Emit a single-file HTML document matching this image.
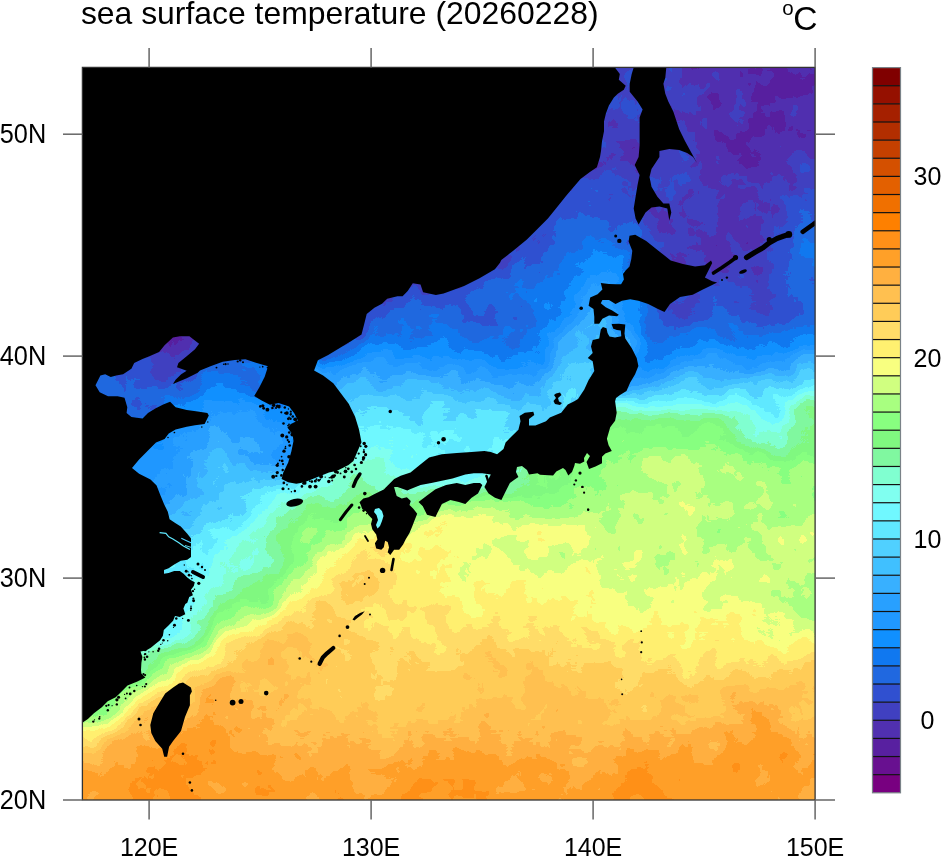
<!DOCTYPE html>
<html><head><meta charset="utf-8"><title>sea surface temperature</title><style>
html,body{margin:0;padding:0;background:#fff;width:941px;height:858px;overflow:hidden}
svg{display:block;will-change:transform}
text{font-family:"Liberation Sans",Arial,Helvetica,sans-serif;fill:#000}
</style></head><body>
<svg width="941" height="858" viewBox="0 0 941 858">
<defs>
<linearGradient id="r0" gradientUnits="userSpaceOnUse" x1="38.0" x2="859.4" y1="0" y2="0"><stop offset="0.0135" stop-color="#262626"/><stop offset="0.0405" stop-color="#262626"/><stop offset="0.0676" stop-color="#262626"/><stop offset="0.0946" stop-color="#262626"/><stop offset="0.1216" stop-color="#212121"/><stop offset="0.1486" stop-color="#131313"/><stop offset="0.1757" stop-color="#131313"/><stop offset="0.2027" stop-color="#131313"/><stop offset="0.2297" stop-color="#292929"/><stop offset="0.2568" stop-color="#292929"/><stop offset="0.2838" stop-color="#292929"/><stop offset="0.3108" stop-color="#2e2e2e"/><stop offset="0.3378" stop-color="#2d2d2d"/><stop offset="0.3649" stop-color="#292929"/><stop offset="0.3919" stop-color="#232323"/><stop offset="0.4189" stop-color="#232323"/><stop offset="0.4459" stop-color="#232323"/><stop offset="0.4730" stop-color="#232323"/><stop offset="0.5000" stop-color="#232323"/><stop offset="0.5270" stop-color="#232323"/><stop offset="0.5541" stop-color="#232323"/><stop offset="0.5811" stop-color="#232323"/><stop offset="0.6081" stop-color="#232323"/><stop offset="0.6351" stop-color="#232323"/><stop offset="0.6622" stop-color="#232323"/><stop offset="0.6892" stop-color="#232323"/><stop offset="0.7162" stop-color="#232323"/><stop offset="0.7432" stop-color="#1d1d1d"/><stop offset="0.7703" stop-color="#1d1d1d"/><stop offset="0.7973" stop-color="#181818"/><stop offset="0.8243" stop-color="#161616"/><stop offset="0.8514" stop-color="#161616"/><stop offset="0.8784" stop-color="#131313"/><stop offset="0.9054" stop-color="#131313"/><stop offset="0.9324" stop-color="#131313"/><stop offset="0.9595" stop-color="#131313"/><stop offset="0.9865" stop-color="#131313"/></linearGradient><linearGradient id="r1" gradientUnits="userSpaceOnUse" x1="38.0" x2="859.4" y1="0" y2="0"><stop offset="0.0135" stop-color="#262626"/><stop offset="0.0405" stop-color="#262626"/><stop offset="0.0676" stop-color="#262626"/><stop offset="0.0946" stop-color="#262626"/><stop offset="0.1216" stop-color="#212121"/><stop offset="0.1486" stop-color="#131313"/><stop offset="0.1757" stop-color="#131313"/><stop offset="0.2027" stop-color="#131313"/><stop offset="0.2297" stop-color="#292929"/><stop offset="0.2568" stop-color="#292929"/><stop offset="0.2838" stop-color="#292929"/><stop offset="0.3108" stop-color="#2e2e2e"/><stop offset="0.3378" stop-color="#2d2d2d"/><stop offset="0.3649" stop-color="#292929"/><stop offset="0.3919" stop-color="#232323"/><stop offset="0.4189" stop-color="#232323"/><stop offset="0.4459" stop-color="#232323"/><stop offset="0.4730" stop-color="#232323"/><stop offset="0.5000" stop-color="#232323"/><stop offset="0.5270" stop-color="#232323"/><stop offset="0.5541" stop-color="#232323"/><stop offset="0.5811" stop-color="#232323"/><stop offset="0.6081" stop-color="#232323"/><stop offset="0.6351" stop-color="#232323"/><stop offset="0.6622" stop-color="#232323"/><stop offset="0.6892" stop-color="#232323"/><stop offset="0.7162" stop-color="#232323"/><stop offset="0.7432" stop-color="#1d1d1d"/><stop offset="0.7703" stop-color="#1d1d1d"/><stop offset="0.7973" stop-color="#181818"/><stop offset="0.8243" stop-color="#161616"/><stop offset="0.8514" stop-color="#161616"/><stop offset="0.8784" stop-color="#131313"/><stop offset="0.9054" stop-color="#131313"/><stop offset="0.9324" stop-color="#131313"/><stop offset="0.9595" stop-color="#131313"/><stop offset="0.9865" stop-color="#131313"/></linearGradient><linearGradient id="r2" gradientUnits="userSpaceOnUse" x1="38.0" x2="859.4" y1="0" y2="0"><stop offset="0.0135" stop-color="#262626"/><stop offset="0.0405" stop-color="#262626"/><stop offset="0.0676" stop-color="#262626"/><stop offset="0.0946" stop-color="#262626"/><stop offset="0.1216" stop-color="#212121"/><stop offset="0.1486" stop-color="#131313"/><stop offset="0.1757" stop-color="#131313"/><stop offset="0.2027" stop-color="#131313"/><stop offset="0.2297" stop-color="#292929"/><stop offset="0.2568" stop-color="#292929"/><stop offset="0.2838" stop-color="#292929"/><stop offset="0.3108" stop-color="#2e2e2e"/><stop offset="0.3378" stop-color="#2d2d2d"/><stop offset="0.3649" stop-color="#292929"/><stop offset="0.3919" stop-color="#232323"/><stop offset="0.4189" stop-color="#232323"/><stop offset="0.4459" stop-color="#232323"/><stop offset="0.4730" stop-color="#232323"/><stop offset="0.5000" stop-color="#232323"/><stop offset="0.5270" stop-color="#232323"/><stop offset="0.5541" stop-color="#232323"/><stop offset="0.5811" stop-color="#232323"/><stop offset="0.6081" stop-color="#232323"/><stop offset="0.6351" stop-color="#232323"/><stop offset="0.6622" stop-color="#232323"/><stop offset="0.6892" stop-color="#232323"/><stop offset="0.7162" stop-color="#232323"/><stop offset="0.7432" stop-color="#1d1d1d"/><stop offset="0.7703" stop-color="#1d1d1d"/><stop offset="0.7973" stop-color="#181818"/><stop offset="0.8243" stop-color="#161616"/><stop offset="0.8514" stop-color="#161616"/><stop offset="0.8784" stop-color="#131313"/><stop offset="0.9054" stop-color="#131313"/><stop offset="0.9324" stop-color="#131313"/><stop offset="0.9595" stop-color="#131313"/><stop offset="0.9865" stop-color="#131313"/></linearGradient><linearGradient id="r3" gradientUnits="userSpaceOnUse" x1="38.0" x2="859.4" y1="0" y2="0"><stop offset="0.0135" stop-color="#262626"/><stop offset="0.0405" stop-color="#262626"/><stop offset="0.0676" stop-color="#262626"/><stop offset="0.0946" stop-color="#262626"/><stop offset="0.1216" stop-color="#212121"/><stop offset="0.1486" stop-color="#131313"/><stop offset="0.1757" stop-color="#131313"/><stop offset="0.2027" stop-color="#131313"/><stop offset="0.2297" stop-color="#292929"/><stop offset="0.2568" stop-color="#292929"/><stop offset="0.2838" stop-color="#292929"/><stop offset="0.3108" stop-color="#2e2e2e"/><stop offset="0.3378" stop-color="#2d2d2d"/><stop offset="0.3649" stop-color="#292929"/><stop offset="0.3919" stop-color="#232323"/><stop offset="0.4189" stop-color="#232323"/><stop offset="0.4459" stop-color="#232323"/><stop offset="0.4730" stop-color="#232323"/><stop offset="0.5000" stop-color="#232323"/><stop offset="0.5270" stop-color="#232323"/><stop offset="0.5541" stop-color="#232323"/><stop offset="0.5811" stop-color="#232323"/><stop offset="0.6081" stop-color="#232323"/><stop offset="0.6351" stop-color="#232323"/><stop offset="0.6622" stop-color="#232323"/><stop offset="0.6892" stop-color="#232323"/><stop offset="0.7162" stop-color="#232323"/><stop offset="0.7432" stop-color="#1d1d1d"/><stop offset="0.7703" stop-color="#1d1d1d"/><stop offset="0.7973" stop-color="#181818"/><stop offset="0.8243" stop-color="#161616"/><stop offset="0.8514" stop-color="#161616"/><stop offset="0.8784" stop-color="#131313"/><stop offset="0.9054" stop-color="#131313"/><stop offset="0.9324" stop-color="#131313"/><stop offset="0.9595" stop-color="#131313"/><stop offset="0.9865" stop-color="#131313"/></linearGradient><linearGradient id="r4" gradientUnits="userSpaceOnUse" x1="38.0" x2="859.4" y1="0" y2="0"><stop offset="0.0135" stop-color="#262626"/><stop offset="0.0405" stop-color="#262626"/><stop offset="0.0676" stop-color="#262626"/><stop offset="0.0946" stop-color="#262626"/><stop offset="0.1216" stop-color="#212121"/><stop offset="0.1486" stop-color="#131313"/><stop offset="0.1757" stop-color="#131313"/><stop offset="0.2027" stop-color="#131313"/><stop offset="0.2297" stop-color="#292929"/><stop offset="0.2568" stop-color="#292929"/><stop offset="0.2838" stop-color="#292929"/><stop offset="0.3108" stop-color="#2e2e2e"/><stop offset="0.3378" stop-color="#2d2d2d"/><stop offset="0.3649" stop-color="#292929"/><stop offset="0.3919" stop-color="#232323"/><stop offset="0.4189" stop-color="#232323"/><stop offset="0.4459" stop-color="#232323"/><stop offset="0.4730" stop-color="#232323"/><stop offset="0.5000" stop-color="#232323"/><stop offset="0.5270" stop-color="#232323"/><stop offset="0.5541" stop-color="#232323"/><stop offset="0.5811" stop-color="#232323"/><stop offset="0.6081" stop-color="#232323"/><stop offset="0.6351" stop-color="#232323"/><stop offset="0.6622" stop-color="#232323"/><stop offset="0.6892" stop-color="#232323"/><stop offset="0.7162" stop-color="#232323"/><stop offset="0.7432" stop-color="#1d1d1d"/><stop offset="0.7703" stop-color="#1d1d1d"/><stop offset="0.7973" stop-color="#181818"/><stop offset="0.8243" stop-color="#161616"/><stop offset="0.8514" stop-color="#161616"/><stop offset="0.8784" stop-color="#131313"/><stop offset="0.9054" stop-color="#131313"/><stop offset="0.9324" stop-color="#131313"/><stop offset="0.9595" stop-color="#131313"/><stop offset="0.9865" stop-color="#131313"/></linearGradient><linearGradient id="r5" gradientUnits="userSpaceOnUse" x1="38.0" x2="859.4" y1="0" y2="0"><stop offset="0.0135" stop-color="#262626"/><stop offset="0.0405" stop-color="#262626"/><stop offset="0.0676" stop-color="#262626"/><stop offset="0.0946" stop-color="#262626"/><stop offset="0.1216" stop-color="#212121"/><stop offset="0.1486" stop-color="#131313"/><stop offset="0.1757" stop-color="#131313"/><stop offset="0.2027" stop-color="#131313"/><stop offset="0.2297" stop-color="#292929"/><stop offset="0.2568" stop-color="#292929"/><stop offset="0.2838" stop-color="#292929"/><stop offset="0.3108" stop-color="#2f2f2f"/><stop offset="0.3378" stop-color="#2d2d2d"/><stop offset="0.3649" stop-color="#2b2b2b"/><stop offset="0.3919" stop-color="#242424"/><stop offset="0.4189" stop-color="#242424"/><stop offset="0.4459" stop-color="#232323"/><stop offset="0.4730" stop-color="#232323"/><stop offset="0.5000" stop-color="#232323"/><stop offset="0.5270" stop-color="#232323"/><stop offset="0.5541" stop-color="#232323"/><stop offset="0.5811" stop-color="#232323"/><stop offset="0.6081" stop-color="#232323"/><stop offset="0.6351" stop-color="#232323"/><stop offset="0.6622" stop-color="#232323"/><stop offset="0.6892" stop-color="#232323"/><stop offset="0.7162" stop-color="#232323"/><stop offset="0.7432" stop-color="#1d1d1d"/><stop offset="0.7703" stop-color="#1d1d1d"/><stop offset="0.7973" stop-color="#181818"/><stop offset="0.8243" stop-color="#161616"/><stop offset="0.8514" stop-color="#161616"/><stop offset="0.8784" stop-color="#131313"/><stop offset="0.9054" stop-color="#131313"/><stop offset="0.9324" stop-color="#141414"/><stop offset="0.9595" stop-color="#141414"/><stop offset="0.9865" stop-color="#141414"/></linearGradient><linearGradient id="r6" gradientUnits="userSpaceOnUse" x1="38.0" x2="859.4" y1="0" y2="0"><stop offset="0.0135" stop-color="#262626"/><stop offset="0.0405" stop-color="#262626"/><stop offset="0.0676" stop-color="#262626"/><stop offset="0.0946" stop-color="#262626"/><stop offset="0.1216" stop-color="#212121"/><stop offset="0.1486" stop-color="#131313"/><stop offset="0.1757" stop-color="#131313"/><stop offset="0.2027" stop-color="#131313"/><stop offset="0.2297" stop-color="#292929"/><stop offset="0.2568" stop-color="#292929"/><stop offset="0.2838" stop-color="#292929"/><stop offset="0.3108" stop-color="#2f2f2f"/><stop offset="0.3378" stop-color="#2f2f2f"/><stop offset="0.3649" stop-color="#2e2e2e"/><stop offset="0.3919" stop-color="#252525"/><stop offset="0.4189" stop-color="#252525"/><stop offset="0.4459" stop-color="#242424"/><stop offset="0.4730" stop-color="#232323"/><stop offset="0.5000" stop-color="#232323"/><stop offset="0.5270" stop-color="#232323"/><stop offset="0.5541" stop-color="#232323"/><stop offset="0.5811" stop-color="#232323"/><stop offset="0.6081" stop-color="#232323"/><stop offset="0.6351" stop-color="#232323"/><stop offset="0.6622" stop-color="#232323"/><stop offset="0.6892" stop-color="#232323"/><stop offset="0.7162" stop-color="#232323"/><stop offset="0.7432" stop-color="#1d1d1d"/><stop offset="0.7703" stop-color="#1d1d1d"/><stop offset="0.7973" stop-color="#191919"/><stop offset="0.8243" stop-color="#161616"/><stop offset="0.8514" stop-color="#161616"/><stop offset="0.8784" stop-color="#131313"/><stop offset="0.9054" stop-color="#131313"/><stop offset="0.9324" stop-color="#161616"/><stop offset="0.9595" stop-color="#161616"/><stop offset="0.9865" stop-color="#161616"/></linearGradient><linearGradient id="r7" gradientUnits="userSpaceOnUse" x1="38.0" x2="859.4" y1="0" y2="0"><stop offset="0.0135" stop-color="#262626"/><stop offset="0.0405" stop-color="#262626"/><stop offset="0.0676" stop-color="#262626"/><stop offset="0.0946" stop-color="#262626"/><stop offset="0.1216" stop-color="#212121"/><stop offset="0.1486" stop-color="#131313"/><stop offset="0.1757" stop-color="#131313"/><stop offset="0.2027" stop-color="#131313"/><stop offset="0.2297" stop-color="#292929"/><stop offset="0.2568" stop-color="#292929"/><stop offset="0.2838" stop-color="#292929"/><stop offset="0.3108" stop-color="#303030"/><stop offset="0.3378" stop-color="#303030"/><stop offset="0.3649" stop-color="#303030"/><stop offset="0.3919" stop-color="#262626"/><stop offset="0.4189" stop-color="#262626"/><stop offset="0.4459" stop-color="#252525"/><stop offset="0.4730" stop-color="#232323"/><stop offset="0.5000" stop-color="#212121"/><stop offset="0.5270" stop-color="#212121"/><stop offset="0.5541" stop-color="#212121"/><stop offset="0.5811" stop-color="#212121"/><stop offset="0.6081" stop-color="#212121"/><stop offset="0.6351" stop-color="#212121"/><stop offset="0.6622" stop-color="#212121"/><stop offset="0.6892" stop-color="#212121"/><stop offset="0.7162" stop-color="#212121"/><stop offset="0.7432" stop-color="#1d1d1d"/><stop offset="0.7703" stop-color="#1d1d1d"/><stop offset="0.7973" stop-color="#1a1a1a"/><stop offset="0.8243" stop-color="#161616"/><stop offset="0.8514" stop-color="#161616"/><stop offset="0.8784" stop-color="#121212"/><stop offset="0.9054" stop-color="#131313"/><stop offset="0.9324" stop-color="#161616"/><stop offset="0.9595" stop-color="#161616"/><stop offset="0.9865" stop-color="#161616"/></linearGradient><linearGradient id="r8" gradientUnits="userSpaceOnUse" x1="38.0" x2="859.4" y1="0" y2="0"><stop offset="0.0135" stop-color="#262626"/><stop offset="0.0405" stop-color="#262626"/><stop offset="0.0676" stop-color="#262626"/><stop offset="0.0946" stop-color="#262626"/><stop offset="0.1216" stop-color="#212121"/><stop offset="0.1486" stop-color="#131313"/><stop offset="0.1757" stop-color="#131313"/><stop offset="0.2027" stop-color="#131313"/><stop offset="0.2297" stop-color="#292929"/><stop offset="0.2568" stop-color="#292929"/><stop offset="0.2838" stop-color="#292929"/><stop offset="0.3108" stop-color="#303030"/><stop offset="0.3378" stop-color="#303030"/><stop offset="0.3649" stop-color="#303030"/><stop offset="0.3919" stop-color="#262626"/><stop offset="0.4189" stop-color="#262626"/><stop offset="0.4459" stop-color="#262626"/><stop offset="0.4730" stop-color="#222222"/><stop offset="0.5000" stop-color="#1e1e1e"/><stop offset="0.5270" stop-color="#1e1e1e"/><stop offset="0.5541" stop-color="#1e1e1e"/><stop offset="0.5811" stop-color="#1e1e1e"/><stop offset="0.6081" stop-color="#1e1e1e"/><stop offset="0.6351" stop-color="#1e1e1e"/><stop offset="0.6622" stop-color="#1e1e1e"/><stop offset="0.6892" stop-color="#1e1e1e"/><stop offset="0.7162" stop-color="#1e1e1e"/><stop offset="0.7432" stop-color="#1d1d1d"/><stop offset="0.7703" stop-color="#1d1d1d"/><stop offset="0.7973" stop-color="#1a1a1a"/><stop offset="0.8243" stop-color="#161616"/><stop offset="0.8514" stop-color="#161616"/><stop offset="0.8784" stop-color="#111111"/><stop offset="0.9054" stop-color="#131313"/><stop offset="0.9324" stop-color="#161616"/><stop offset="0.9595" stop-color="#161616"/><stop offset="0.9865" stop-color="#161616"/></linearGradient><linearGradient id="r9" gradientUnits="userSpaceOnUse" x1="38.0" x2="859.4" y1="0" y2="0"><stop offset="0.0135" stop-color="#262626"/><stop offset="0.0405" stop-color="#262626"/><stop offset="0.0676" stop-color="#262626"/><stop offset="0.0946" stop-color="#262626"/><stop offset="0.1216" stop-color="#212121"/><stop offset="0.1486" stop-color="#131313"/><stop offset="0.1757" stop-color="#131313"/><stop offset="0.2027" stop-color="#131313"/><stop offset="0.2297" stop-color="#292929"/><stop offset="0.2568" stop-color="#292929"/><stop offset="0.2838" stop-color="#292929"/><stop offset="0.3108" stop-color="#303030"/><stop offset="0.3378" stop-color="#303030"/><stop offset="0.3649" stop-color="#303030"/><stop offset="0.3919" stop-color="#262626"/><stop offset="0.4189" stop-color="#262626"/><stop offset="0.4459" stop-color="#262626"/><stop offset="0.4730" stop-color="#232323"/><stop offset="0.5000" stop-color="#1e1e1e"/><stop offset="0.5270" stop-color="#1e1e1e"/><stop offset="0.5541" stop-color="#1e1e1e"/><stop offset="0.5811" stop-color="#1e1e1e"/><stop offset="0.6081" stop-color="#1e1e1e"/><stop offset="0.6351" stop-color="#1d1d1d"/><stop offset="0.6622" stop-color="#1c1c1c"/><stop offset="0.6892" stop-color="#1b1b1b"/><stop offset="0.7162" stop-color="#1b1b1b"/><stop offset="0.7432" stop-color="#1c1c1c"/><stop offset="0.7703" stop-color="#1c1c1c"/><stop offset="0.7973" stop-color="#1a1a1a"/><stop offset="0.8243" stop-color="#161616"/><stop offset="0.8514" stop-color="#161616"/><stop offset="0.8784" stop-color="#101010"/><stop offset="0.9054" stop-color="#141414"/><stop offset="0.9324" stop-color="#171717"/><stop offset="0.9595" stop-color="#171717"/><stop offset="0.9865" stop-color="#171717"/></linearGradient><linearGradient id="r10" gradientUnits="userSpaceOnUse" x1="38.0" x2="859.4" y1="0" y2="0"><stop offset="0.0135" stop-color="#262626"/><stop offset="0.0405" stop-color="#262626"/><stop offset="0.0676" stop-color="#262626"/><stop offset="0.0946" stop-color="#262626"/><stop offset="0.1216" stop-color="#212121"/><stop offset="0.1486" stop-color="#131313"/><stop offset="0.1757" stop-color="#131313"/><stop offset="0.2027" stop-color="#131313"/><stop offset="0.2297" stop-color="#292929"/><stop offset="0.2568" stop-color="#292929"/><stop offset="0.2838" stop-color="#292929"/><stop offset="0.3108" stop-color="#303030"/><stop offset="0.3378" stop-color="#303030"/><stop offset="0.3649" stop-color="#303030"/><stop offset="0.3919" stop-color="#262626"/><stop offset="0.4189" stop-color="#262626"/><stop offset="0.4459" stop-color="#262626"/><stop offset="0.4730" stop-color="#252525"/><stop offset="0.5000" stop-color="#222222"/><stop offset="0.5270" stop-color="#212121"/><stop offset="0.5541" stop-color="#212121"/><stop offset="0.5811" stop-color="#202020"/><stop offset="0.6081" stop-color="#1f1f1f"/><stop offset="0.6351" stop-color="#1e1e1e"/><stop offset="0.6622" stop-color="#1b1b1b"/><stop offset="0.6892" stop-color="#181818"/><stop offset="0.7162" stop-color="#181818"/><stop offset="0.7432" stop-color="#1a1a1a"/><stop offset="0.7703" stop-color="#1a1a1a"/><stop offset="0.7973" stop-color="#1a1a1a"/><stop offset="0.8243" stop-color="#161616"/><stop offset="0.8514" stop-color="#141414"/><stop offset="0.8784" stop-color="#101010"/><stop offset="0.9054" stop-color="#161616"/><stop offset="0.9324" stop-color="#191919"/><stop offset="0.9595" stop-color="#191919"/><stop offset="0.9865" stop-color="#191919"/></linearGradient><linearGradient id="r11" gradientUnits="userSpaceOnUse" x1="38.0" x2="859.4" y1="0" y2="0"><stop offset="0.0135" stop-color="#262626"/><stop offset="0.0405" stop-color="#262626"/><stop offset="0.0676" stop-color="#262626"/><stop offset="0.0946" stop-color="#262626"/><stop offset="0.1216" stop-color="#212121"/><stop offset="0.1486" stop-color="#131313"/><stop offset="0.1757" stop-color="#131313"/><stop offset="0.2027" stop-color="#131313"/><stop offset="0.2297" stop-color="#292929"/><stop offset="0.2568" stop-color="#292929"/><stop offset="0.2838" stop-color="#292929"/><stop offset="0.3108" stop-color="#303030"/><stop offset="0.3378" stop-color="#303030"/><stop offset="0.3649" stop-color="#303030"/><stop offset="0.3919" stop-color="#262626"/><stop offset="0.4189" stop-color="#262626"/><stop offset="0.4459" stop-color="#262626"/><stop offset="0.4730" stop-color="#262626"/><stop offset="0.5000" stop-color="#242424"/><stop offset="0.5270" stop-color="#232323"/><stop offset="0.5541" stop-color="#222222"/><stop offset="0.5811" stop-color="#222222"/><stop offset="0.6081" stop-color="#212121"/><stop offset="0.6351" stop-color="#1f1f1f"/><stop offset="0.6622" stop-color="#1c1c1c"/><stop offset="0.6892" stop-color="#181818"/><stop offset="0.7162" stop-color="#181818"/><stop offset="0.7432" stop-color="#1b1b1b"/><stop offset="0.7703" stop-color="#1b1b1b"/><stop offset="0.7973" stop-color="#1a1a1a"/><stop offset="0.8243" stop-color="#171717"/><stop offset="0.8514" stop-color="#141414"/><stop offset="0.8784" stop-color="#121212"/><stop offset="0.9054" stop-color="#171717"/><stop offset="0.9324" stop-color="#1a1a1a"/><stop offset="0.9595" stop-color="#1a1a1a"/><stop offset="0.9865" stop-color="#1a1a1a"/></linearGradient><linearGradient id="r12" gradientUnits="userSpaceOnUse" x1="38.0" x2="859.4" y1="0" y2="0"><stop offset="0.0135" stop-color="#262626"/><stop offset="0.0405" stop-color="#262626"/><stop offset="0.0676" stop-color="#262626"/><stop offset="0.0946" stop-color="#262626"/><stop offset="0.1216" stop-color="#212121"/><stop offset="0.1486" stop-color="#131313"/><stop offset="0.1757" stop-color="#131313"/><stop offset="0.2027" stop-color="#131313"/><stop offset="0.2297" stop-color="#292929"/><stop offset="0.2568" stop-color="#292929"/><stop offset="0.2838" stop-color="#292929"/><stop offset="0.3108" stop-color="#303030"/><stop offset="0.3378" stop-color="#303030"/><stop offset="0.3649" stop-color="#303030"/><stop offset="0.3919" stop-color="#262626"/><stop offset="0.4189" stop-color="#262626"/><stop offset="0.4459" stop-color="#262626"/><stop offset="0.4730" stop-color="#262626"/><stop offset="0.5000" stop-color="#242424"/><stop offset="0.5270" stop-color="#242424"/><stop offset="0.5541" stop-color="#232323"/><stop offset="0.5811" stop-color="#222222"/><stop offset="0.6081" stop-color="#222222"/><stop offset="0.6351" stop-color="#212121"/><stop offset="0.6622" stop-color="#1f1f1f"/><stop offset="0.6892" stop-color="#1b1b1b"/><stop offset="0.7162" stop-color="#1c1c1c"/><stop offset="0.7432" stop-color="#1e1e1e"/><stop offset="0.7703" stop-color="#1e1e1e"/><stop offset="0.7973" stop-color="#1a1a1a"/><stop offset="0.8243" stop-color="#191919"/><stop offset="0.8514" stop-color="#161616"/><stop offset="0.8784" stop-color="#151515"/><stop offset="0.9054" stop-color="#191919"/><stop offset="0.9324" stop-color="#1c1c1c"/><stop offset="0.9595" stop-color="#1c1c1c"/><stop offset="0.9865" stop-color="#1c1c1c"/></linearGradient><linearGradient id="r13" gradientUnits="userSpaceOnUse" x1="38.0" x2="859.4" y1="0" y2="0"><stop offset="0.0135" stop-color="#262626"/><stop offset="0.0405" stop-color="#262626"/><stop offset="0.0676" stop-color="#262626"/><stop offset="0.0946" stop-color="#262626"/><stop offset="0.1216" stop-color="#212121"/><stop offset="0.1486" stop-color="#131313"/><stop offset="0.1757" stop-color="#131313"/><stop offset="0.2027" stop-color="#131313"/><stop offset="0.2297" stop-color="#292929"/><stop offset="0.2568" stop-color="#292929"/><stop offset="0.2838" stop-color="#292929"/><stop offset="0.3108" stop-color="#303030"/><stop offset="0.3378" stop-color="#303030"/><stop offset="0.3649" stop-color="#303030"/><stop offset="0.3919" stop-color="#272727"/><stop offset="0.4189" stop-color="#262626"/><stop offset="0.4459" stop-color="#262626"/><stop offset="0.4730" stop-color="#262626"/><stop offset="0.5000" stop-color="#252525"/><stop offset="0.5270" stop-color="#242424"/><stop offset="0.5541" stop-color="#232323"/><stop offset="0.5811" stop-color="#232323"/><stop offset="0.6081" stop-color="#222222"/><stop offset="0.6351" stop-color="#222222"/><stop offset="0.6622" stop-color="#212121"/><stop offset="0.6892" stop-color="#1e1e1e"/><stop offset="0.7162" stop-color="#1f1f1f"/><stop offset="0.7432" stop-color="#1f1f1f"/><stop offset="0.7703" stop-color="#202020"/><stop offset="0.7973" stop-color="#1a1a1a"/><stop offset="0.8243" stop-color="#1a1a1a"/><stop offset="0.8514" stop-color="#171717"/><stop offset="0.8784" stop-color="#171717"/><stop offset="0.9054" stop-color="#1a1a1a"/><stop offset="0.9324" stop-color="#1d1d1d"/><stop offset="0.9595" stop-color="#1d1d1d"/><stop offset="0.9865" stop-color="#1d1d1d"/></linearGradient><linearGradient id="r14" gradientUnits="userSpaceOnUse" x1="38.0" x2="859.4" y1="0" y2="0"><stop offset="0.0135" stop-color="#262626"/><stop offset="0.0405" stop-color="#262626"/><stop offset="0.0676" stop-color="#262626"/><stop offset="0.0946" stop-color="#262626"/><stop offset="0.1216" stop-color="#212121"/><stop offset="0.1486" stop-color="#131313"/><stop offset="0.1757" stop-color="#131313"/><stop offset="0.2027" stop-color="#131313"/><stop offset="0.2297" stop-color="#292929"/><stop offset="0.2568" stop-color="#292929"/><stop offset="0.2838" stop-color="#292929"/><stop offset="0.3108" stop-color="#303030"/><stop offset="0.3378" stop-color="#303030"/><stop offset="0.3649" stop-color="#303030"/><stop offset="0.3919" stop-color="#272727"/><stop offset="0.4189" stop-color="#262626"/><stop offset="0.4459" stop-color="#262626"/><stop offset="0.4730" stop-color="#262626"/><stop offset="0.5000" stop-color="#252525"/><stop offset="0.5270" stop-color="#242424"/><stop offset="0.5541" stop-color="#232323"/><stop offset="0.5811" stop-color="#232323"/><stop offset="0.6081" stop-color="#232323"/><stop offset="0.6351" stop-color="#232323"/><stop offset="0.6622" stop-color="#222222"/><stop offset="0.6892" stop-color="#212121"/><stop offset="0.7162" stop-color="#1f1f1f"/><stop offset="0.7432" stop-color="#1d1d1d"/><stop offset="0.7703" stop-color="#202020"/><stop offset="0.7973" stop-color="#1c1c1c"/><stop offset="0.8243" stop-color="#1a1a1a"/><stop offset="0.8514" stop-color="#191919"/><stop offset="0.8784" stop-color="#191919"/><stop offset="0.9054" stop-color="#1c1c1c"/><stop offset="0.9324" stop-color="#1f1f1f"/><stop offset="0.9595" stop-color="#1f1f1f"/><stop offset="0.9865" stop-color="#1f1f1f"/></linearGradient><linearGradient id="r15" gradientUnits="userSpaceOnUse" x1="38.0" x2="859.4" y1="0" y2="0"><stop offset="0.0135" stop-color="#262626"/><stop offset="0.0405" stop-color="#262626"/><stop offset="0.0676" stop-color="#262626"/><stop offset="0.0946" stop-color="#262626"/><stop offset="0.1216" stop-color="#212121"/><stop offset="0.1486" stop-color="#131313"/><stop offset="0.1757" stop-color="#131313"/><stop offset="0.2027" stop-color="#131313"/><stop offset="0.2297" stop-color="#292929"/><stop offset="0.2568" stop-color="#292929"/><stop offset="0.2838" stop-color="#292929"/><stop offset="0.3108" stop-color="#303030"/><stop offset="0.3378" stop-color="#303030"/><stop offset="0.3649" stop-color="#303030"/><stop offset="0.3919" stop-color="#272727"/><stop offset="0.4189" stop-color="#262626"/><stop offset="0.4459" stop-color="#262626"/><stop offset="0.4730" stop-color="#262626"/><stop offset="0.5000" stop-color="#262626"/><stop offset="0.5270" stop-color="#252525"/><stop offset="0.5541" stop-color="#242424"/><stop offset="0.5811" stop-color="#242424"/><stop offset="0.6081" stop-color="#242424"/><stop offset="0.6351" stop-color="#242424"/><stop offset="0.6622" stop-color="#252525"/><stop offset="0.6892" stop-color="#242424"/><stop offset="0.7162" stop-color="#212121"/><stop offset="0.7432" stop-color="#1b1b1b"/><stop offset="0.7703" stop-color="#1f1f1f"/><stop offset="0.7973" stop-color="#1c1c1c"/><stop offset="0.8243" stop-color="#1a1a1a"/><stop offset="0.8514" stop-color="#191919"/><stop offset="0.8784" stop-color="#1a1a1a"/><stop offset="0.9054" stop-color="#1d1d1d"/><stop offset="0.9324" stop-color="#212121"/><stop offset="0.9595" stop-color="#212121"/><stop offset="0.9865" stop-color="#212121"/></linearGradient><linearGradient id="r16" gradientUnits="userSpaceOnUse" x1="38.0" x2="859.4" y1="0" y2="0"><stop offset="0.0135" stop-color="#262626"/><stop offset="0.0405" stop-color="#262626"/><stop offset="0.0676" stop-color="#262626"/><stop offset="0.0946" stop-color="#262626"/><stop offset="0.1216" stop-color="#212121"/><stop offset="0.1486" stop-color="#131313"/><stop offset="0.1757" stop-color="#131313"/><stop offset="0.2027" stop-color="#131313"/><stop offset="0.2297" stop-color="#292929"/><stop offset="0.2568" stop-color="#292929"/><stop offset="0.2838" stop-color="#292929"/><stop offset="0.3108" stop-color="#303030"/><stop offset="0.3378" stop-color="#303030"/><stop offset="0.3649" stop-color="#303030"/><stop offset="0.3919" stop-color="#272727"/><stop offset="0.4189" stop-color="#262626"/><stop offset="0.4459" stop-color="#262626"/><stop offset="0.4730" stop-color="#262626"/><stop offset="0.5000" stop-color="#262626"/><stop offset="0.5270" stop-color="#262626"/><stop offset="0.5541" stop-color="#252525"/><stop offset="0.5811" stop-color="#252525"/><stop offset="0.6081" stop-color="#252525"/><stop offset="0.6351" stop-color="#252525"/><stop offset="0.6622" stop-color="#282828"/><stop offset="0.6892" stop-color="#252525"/><stop offset="0.7162" stop-color="#222222"/><stop offset="0.7432" stop-color="#181818"/><stop offset="0.7703" stop-color="#1d1d1d"/><stop offset="0.7973" stop-color="#1a1a1a"/><stop offset="0.8243" stop-color="#1a1a1a"/><stop offset="0.8514" stop-color="#171717"/><stop offset="0.8784" stop-color="#1a1a1a"/><stop offset="0.9054" stop-color="#1d1d1d"/><stop offset="0.9324" stop-color="#222222"/><stop offset="0.9595" stop-color="#222222"/><stop offset="0.9865" stop-color="#222222"/></linearGradient><linearGradient id="r17" gradientUnits="userSpaceOnUse" x1="38.0" x2="859.4" y1="0" y2="0"><stop offset="0.0135" stop-color="#262626"/><stop offset="0.0405" stop-color="#262626"/><stop offset="0.0676" stop-color="#262626"/><stop offset="0.0946" stop-color="#262626"/><stop offset="0.1216" stop-color="#212121"/><stop offset="0.1486" stop-color="#131313"/><stop offset="0.1757" stop-color="#131313"/><stop offset="0.2027" stop-color="#131313"/><stop offset="0.2297" stop-color="#292929"/><stop offset="0.2568" stop-color="#292929"/><stop offset="0.2838" stop-color="#292929"/><stop offset="0.3108" stop-color="#303030"/><stop offset="0.3378" stop-color="#303030"/><stop offset="0.3649" stop-color="#303030"/><stop offset="0.3919" stop-color="#272727"/><stop offset="0.4189" stop-color="#262626"/><stop offset="0.4459" stop-color="#262626"/><stop offset="0.4730" stop-color="#262626"/><stop offset="0.5000" stop-color="#262626"/><stop offset="0.5270" stop-color="#262626"/><stop offset="0.5541" stop-color="#262626"/><stop offset="0.5811" stop-color="#262626"/><stop offset="0.6081" stop-color="#262626"/><stop offset="0.6351" stop-color="#272727"/><stop offset="0.6622" stop-color="#292929"/><stop offset="0.6892" stop-color="#272727"/><stop offset="0.7162" stop-color="#252525"/><stop offset="0.7432" stop-color="#1a1a1a"/><stop offset="0.7703" stop-color="#1c1c1c"/><stop offset="0.7973" stop-color="#1a1a1a"/><stop offset="0.8243" stop-color="#191919"/><stop offset="0.8514" stop-color="#161616"/><stop offset="0.8784" stop-color="#1a1a1a"/><stop offset="0.9054" stop-color="#1e1e1e"/><stop offset="0.9324" stop-color="#252525"/><stop offset="0.9595" stop-color="#252525"/><stop offset="0.9865" stop-color="#252525"/></linearGradient><linearGradient id="r18" gradientUnits="userSpaceOnUse" x1="38.0" x2="859.4" y1="0" y2="0"><stop offset="0.0135" stop-color="#262626"/><stop offset="0.0405" stop-color="#262626"/><stop offset="0.0676" stop-color="#262626"/><stop offset="0.0946" stop-color="#262626"/><stop offset="0.1216" stop-color="#212121"/><stop offset="0.1486" stop-color="#131313"/><stop offset="0.1757" stop-color="#131313"/><stop offset="0.2027" stop-color="#131313"/><stop offset="0.2297" stop-color="#292929"/><stop offset="0.2568" stop-color="#292929"/><stop offset="0.2838" stop-color="#292929"/><stop offset="0.3108" stop-color="#303030"/><stop offset="0.3378" stop-color="#303030"/><stop offset="0.3649" stop-color="#303030"/><stop offset="0.3919" stop-color="#272727"/><stop offset="0.4189" stop-color="#272727"/><stop offset="0.4459" stop-color="#262626"/><stop offset="0.4730" stop-color="#262626"/><stop offset="0.5000" stop-color="#272727"/><stop offset="0.5270" stop-color="#262626"/><stop offset="0.5541" stop-color="#262626"/><stop offset="0.5811" stop-color="#262626"/><stop offset="0.6081" stop-color="#262626"/><stop offset="0.6351" stop-color="#292929"/><stop offset="0.6622" stop-color="#292929"/><stop offset="0.6892" stop-color="#292929"/><stop offset="0.7162" stop-color="#282828"/><stop offset="0.7432" stop-color="#202020"/><stop offset="0.7703" stop-color="#1a1a1a"/><stop offset="0.7973" stop-color="#1a1a1a"/><stop offset="0.8243" stop-color="#171717"/><stop offset="0.8514" stop-color="#161616"/><stop offset="0.8784" stop-color="#1a1a1a"/><stop offset="0.9054" stop-color="#212121"/><stop offset="0.9324" stop-color="#2a2a2a"/><stop offset="0.9595" stop-color="#2a2a2a"/><stop offset="0.9865" stop-color="#2a2a2a"/></linearGradient><linearGradient id="r19" gradientUnits="userSpaceOnUse" x1="38.0" x2="859.4" y1="0" y2="0"><stop offset="0.0135" stop-color="#262626"/><stop offset="0.0405" stop-color="#262626"/><stop offset="0.0676" stop-color="#262626"/><stop offset="0.0946" stop-color="#262626"/><stop offset="0.1216" stop-color="#212121"/><stop offset="0.1486" stop-color="#131313"/><stop offset="0.1757" stop-color="#131313"/><stop offset="0.2027" stop-color="#141414"/><stop offset="0.2297" stop-color="#292929"/><stop offset="0.2568" stop-color="#292929"/><stop offset="0.2838" stop-color="#292929"/><stop offset="0.3108" stop-color="#303030"/><stop offset="0.3378" stop-color="#303030"/><stop offset="0.3649" stop-color="#303030"/><stop offset="0.3919" stop-color="#282828"/><stop offset="0.4189" stop-color="#272727"/><stop offset="0.4459" stop-color="#262626"/><stop offset="0.4730" stop-color="#262626"/><stop offset="0.5000" stop-color="#272727"/><stop offset="0.5270" stop-color="#262626"/><stop offset="0.5541" stop-color="#262626"/><stop offset="0.5811" stop-color="#262626"/><stop offset="0.6081" stop-color="#262626"/><stop offset="0.6351" stop-color="#292929"/><stop offset="0.6622" stop-color="#2a2a2a"/><stop offset="0.6892" stop-color="#2d2d2d"/><stop offset="0.7162" stop-color="#2a2a2a"/><stop offset="0.7432" stop-color="#232323"/><stop offset="0.7703" stop-color="#1a1a1a"/><stop offset="0.7973" stop-color="#1a1a1a"/><stop offset="0.8243" stop-color="#161616"/><stop offset="0.8514" stop-color="#171717"/><stop offset="0.8784" stop-color="#1a1a1a"/><stop offset="0.9054" stop-color="#242424"/><stop offset="0.9324" stop-color="#2d2d2d"/><stop offset="0.9595" stop-color="#2d2d2d"/><stop offset="0.9865" stop-color="#2d2d2d"/></linearGradient><linearGradient id="r20" gradientUnits="userSpaceOnUse" x1="38.0" x2="859.4" y1="0" y2="0"><stop offset="0.0135" stop-color="#262626"/><stop offset="0.0405" stop-color="#262626"/><stop offset="0.0676" stop-color="#262626"/><stop offset="0.0946" stop-color="#262626"/><stop offset="0.1216" stop-color="#212121"/><stop offset="0.1486" stop-color="#131313"/><stop offset="0.1757" stop-color="#131313"/><stop offset="0.2027" stop-color="#141414"/><stop offset="0.2297" stop-color="#292929"/><stop offset="0.2568" stop-color="#292929"/><stop offset="0.2838" stop-color="#292929"/><stop offset="0.3108" stop-color="#303030"/><stop offset="0.3378" stop-color="#303030"/><stop offset="0.3649" stop-color="#303030"/><stop offset="0.3919" stop-color="#282828"/><stop offset="0.4189" stop-color="#272727"/><stop offset="0.4459" stop-color="#262626"/><stop offset="0.4730" stop-color="#262626"/><stop offset="0.5000" stop-color="#272727"/><stop offset="0.5270" stop-color="#262626"/><stop offset="0.5541" stop-color="#262626"/><stop offset="0.5811" stop-color="#262626"/><stop offset="0.6081" stop-color="#262626"/><stop offset="0.6351" stop-color="#292929"/><stop offset="0.6622" stop-color="#2c2c2c"/><stop offset="0.6892" stop-color="#333333"/><stop offset="0.7162" stop-color="#2c2c2c"/><stop offset="0.7432" stop-color="#242424"/><stop offset="0.7703" stop-color="#1c1c1c"/><stop offset="0.7973" stop-color="#1a1a1a"/><stop offset="0.8243" stop-color="#161616"/><stop offset="0.8514" stop-color="#191919"/><stop offset="0.8784" stop-color="#1a1a1a"/><stop offset="0.9054" stop-color="#252525"/><stop offset="0.9324" stop-color="#2f2f2f"/><stop offset="0.9595" stop-color="#2f2f2f"/><stop offset="0.9865" stop-color="#2f2f2f"/></linearGradient><linearGradient id="r21" gradientUnits="userSpaceOnUse" x1="38.0" x2="859.4" y1="0" y2="0"><stop offset="0.0135" stop-color="#262626"/><stop offset="0.0405" stop-color="#262626"/><stop offset="0.0676" stop-color="#262626"/><stop offset="0.0946" stop-color="#262626"/><stop offset="0.1216" stop-color="#212121"/><stop offset="0.1486" stop-color="#131313"/><stop offset="0.1757" stop-color="#131313"/><stop offset="0.2027" stop-color="#141414"/><stop offset="0.2297" stop-color="#292929"/><stop offset="0.2568" stop-color="#292929"/><stop offset="0.2838" stop-color="#292929"/><stop offset="0.3108" stop-color="#303030"/><stop offset="0.3378" stop-color="#303030"/><stop offset="0.3649" stop-color="#303030"/><stop offset="0.3919" stop-color="#292929"/><stop offset="0.4189" stop-color="#272727"/><stop offset="0.4459" stop-color="#262626"/><stop offset="0.4730" stop-color="#262626"/><stop offset="0.5000" stop-color="#272727"/><stop offset="0.5270" stop-color="#262626"/><stop offset="0.5541" stop-color="#262626"/><stop offset="0.5811" stop-color="#272727"/><stop offset="0.6081" stop-color="#282828"/><stop offset="0.6351" stop-color="#2a2a2a"/><stop offset="0.6622" stop-color="#2f2f2f"/><stop offset="0.6892" stop-color="#383838"/><stop offset="0.7162" stop-color="#2f2f2f"/><stop offset="0.7432" stop-color="#262626"/><stop offset="0.7703" stop-color="#1d1d1d"/><stop offset="0.7973" stop-color="#1b1b1b"/><stop offset="0.8243" stop-color="#181818"/><stop offset="0.8514" stop-color="#1a1a1a"/><stop offset="0.8784" stop-color="#1a1a1a"/><stop offset="0.9054" stop-color="#252525"/><stop offset="0.9324" stop-color="#2f2f2f"/><stop offset="0.9595" stop-color="#2f2f2f"/><stop offset="0.9865" stop-color="#2f2f2f"/></linearGradient><linearGradient id="r22" gradientUnits="userSpaceOnUse" x1="38.0" x2="859.4" y1="0" y2="0"><stop offset="0.0135" stop-color="#262626"/><stop offset="0.0405" stop-color="#262626"/><stop offset="0.0676" stop-color="#262626"/><stop offset="0.0946" stop-color="#262626"/><stop offset="0.1216" stop-color="#212121"/><stop offset="0.1486" stop-color="#141414"/><stop offset="0.1757" stop-color="#131313"/><stop offset="0.2027" stop-color="#141414"/><stop offset="0.2297" stop-color="#292929"/><stop offset="0.2568" stop-color="#292929"/><stop offset="0.2838" stop-color="#2a2a2a"/><stop offset="0.3108" stop-color="#303030"/><stop offset="0.3378" stop-color="#303030"/><stop offset="0.3649" stop-color="#303030"/><stop offset="0.3919" stop-color="#2a2a2a"/><stop offset="0.4189" stop-color="#282828"/><stop offset="0.4459" stop-color="#262626"/><stop offset="0.4730" stop-color="#262626"/><stop offset="0.5000" stop-color="#282828"/><stop offset="0.5270" stop-color="#262626"/><stop offset="0.5541" stop-color="#262626"/><stop offset="0.5811" stop-color="#292929"/><stop offset="0.6081" stop-color="#2b2b2b"/><stop offset="0.6351" stop-color="#2c2c2c"/><stop offset="0.6622" stop-color="#343434"/><stop offset="0.6892" stop-color="#3b3b3b"/><stop offset="0.7162" stop-color="#333333"/><stop offset="0.7432" stop-color="#2a2a2a"/><stop offset="0.7703" stop-color="#1e1e1e"/><stop offset="0.7973" stop-color="#1e1e1e"/><stop offset="0.8243" stop-color="#1b1b1b"/><stop offset="0.8514" stop-color="#1c1c1c"/><stop offset="0.8784" stop-color="#1a1a1a"/><stop offset="0.9054" stop-color="#242424"/><stop offset="0.9324" stop-color="#2d2d2d"/><stop offset="0.9595" stop-color="#2d2d2d"/><stop offset="0.9865" stop-color="#2d2d2d"/></linearGradient><linearGradient id="r23" gradientUnits="userSpaceOnUse" x1="38.0" x2="859.4" y1="0" y2="0"><stop offset="0.0135" stop-color="#262626"/><stop offset="0.0405" stop-color="#262626"/><stop offset="0.0676" stop-color="#262626"/><stop offset="0.0946" stop-color="#262626"/><stop offset="0.1216" stop-color="#212121"/><stop offset="0.1486" stop-color="#141414"/><stop offset="0.1757" stop-color="#131313"/><stop offset="0.2027" stop-color="#151515"/><stop offset="0.2297" stop-color="#292929"/><stop offset="0.2568" stop-color="#292929"/><stop offset="0.2838" stop-color="#2a2a2a"/><stop offset="0.3108" stop-color="#303030"/><stop offset="0.3378" stop-color="#303030"/><stop offset="0.3649" stop-color="#303030"/><stop offset="0.3919" stop-color="#2b2b2b"/><stop offset="0.4189" stop-color="#282828"/><stop offset="0.4459" stop-color="#262626"/><stop offset="0.4730" stop-color="#262626"/><stop offset="0.5000" stop-color="#282828"/><stop offset="0.5270" stop-color="#282828"/><stop offset="0.5541" stop-color="#282828"/><stop offset="0.5811" stop-color="#2a2a2a"/><stop offset="0.6081" stop-color="#2d2d2d"/><stop offset="0.6351" stop-color="#2f2f2f"/><stop offset="0.6622" stop-color="#383838"/><stop offset="0.6892" stop-color="#3f3f3f"/><stop offset="0.7162" stop-color="#353535"/><stop offset="0.7432" stop-color="#2d2d2d"/><stop offset="0.7703" stop-color="#1f1f1f"/><stop offset="0.7973" stop-color="#1f1f1f"/><stop offset="0.8243" stop-color="#1e1e1e"/><stop offset="0.8514" stop-color="#1e1e1e"/><stop offset="0.8784" stop-color="#1b1b1b"/><stop offset="0.9054" stop-color="#232323"/><stop offset="0.9324" stop-color="#2b2b2b"/><stop offset="0.9595" stop-color="#2b2b2b"/><stop offset="0.9865" stop-color="#2b2b2b"/></linearGradient><linearGradient id="r24" gradientUnits="userSpaceOnUse" x1="38.0" x2="859.4" y1="0" y2="0"><stop offset="0.0135" stop-color="#272727"/><stop offset="0.0405" stop-color="#272727"/><stop offset="0.0676" stop-color="#272727"/><stop offset="0.0946" stop-color="#262626"/><stop offset="0.1216" stop-color="#212121"/><stop offset="0.1486" stop-color="#141414"/><stop offset="0.1757" stop-color="#131313"/><stop offset="0.2027" stop-color="#161616"/><stop offset="0.2297" stop-color="#292929"/><stop offset="0.2568" stop-color="#292929"/><stop offset="0.2838" stop-color="#2a2a2a"/><stop offset="0.3108" stop-color="#303030"/><stop offset="0.3378" stop-color="#303030"/><stop offset="0.3649" stop-color="#303030"/><stop offset="0.3919" stop-color="#2c2c2c"/><stop offset="0.4189" stop-color="#292929"/><stop offset="0.4459" stop-color="#262626"/><stop offset="0.4730" stop-color="#262626"/><stop offset="0.5000" stop-color="#292929"/><stop offset="0.5270" stop-color="#2b2b2b"/><stop offset="0.5541" stop-color="#2b2b2b"/><stop offset="0.5811" stop-color="#2c2c2c"/><stop offset="0.6081" stop-color="#2f2f2f"/><stop offset="0.6351" stop-color="#343434"/><stop offset="0.6622" stop-color="#3b3b3b"/><stop offset="0.6892" stop-color="#444444"/><stop offset="0.7162" stop-color="#363636"/><stop offset="0.7432" stop-color="#2d2d2d"/><stop offset="0.7703" stop-color="#202020"/><stop offset="0.7973" stop-color="#1d1d1d"/><stop offset="0.8243" stop-color="#212121"/><stop offset="0.8514" stop-color="#212121"/><stop offset="0.8784" stop-color="#1e1e1e"/><stop offset="0.9054" stop-color="#232323"/><stop offset="0.9324" stop-color="#282828"/><stop offset="0.9595" stop-color="#282828"/><stop offset="0.9865" stop-color="#282828"/></linearGradient><linearGradient id="r25" gradientUnits="userSpaceOnUse" x1="38.0" x2="859.4" y1="0" y2="0"><stop offset="0.0135" stop-color="#272727"/><stop offset="0.0405" stop-color="#272727"/><stop offset="0.0676" stop-color="#272727"/><stop offset="0.0946" stop-color="#262626"/><stop offset="0.1216" stop-color="#212121"/><stop offset="0.1486" stop-color="#151515"/><stop offset="0.1757" stop-color="#131313"/><stop offset="0.2027" stop-color="#171717"/><stop offset="0.2297" stop-color="#292929"/><stop offset="0.2568" stop-color="#292929"/><stop offset="0.2838" stop-color="#2a2a2a"/><stop offset="0.3108" stop-color="#303030"/><stop offset="0.3378" stop-color="#303030"/><stop offset="0.3649" stop-color="#303030"/><stop offset="0.3919" stop-color="#2d2d2d"/><stop offset="0.4189" stop-color="#2a2a2a"/><stop offset="0.4459" stop-color="#282828"/><stop offset="0.4730" stop-color="#272727"/><stop offset="0.5000" stop-color="#292929"/><stop offset="0.5270" stop-color="#2b2b2b"/><stop offset="0.5541" stop-color="#2b2b2b"/><stop offset="0.5811" stop-color="#2c2c2c"/><stop offset="0.6081" stop-color="#2f2f2f"/><stop offset="0.6351" stop-color="#363636"/><stop offset="0.6622" stop-color="#404040"/><stop offset="0.6892" stop-color="#494949"/><stop offset="0.7162" stop-color="#363636"/><stop offset="0.7432" stop-color="#2c2c2c"/><stop offset="0.7703" stop-color="#212121"/><stop offset="0.7973" stop-color="#202020"/><stop offset="0.8243" stop-color="#252525"/><stop offset="0.8514" stop-color="#252525"/><stop offset="0.8784" stop-color="#212121"/><stop offset="0.9054" stop-color="#232323"/><stop offset="0.9324" stop-color="#272727"/><stop offset="0.9595" stop-color="#272727"/><stop offset="0.9865" stop-color="#272727"/></linearGradient><linearGradient id="r26" gradientUnits="userSpaceOnUse" x1="38.0" x2="859.4" y1="0" y2="0"><stop offset="0.0135" stop-color="#272727"/><stop offset="0.0405" stop-color="#272727"/><stop offset="0.0676" stop-color="#272727"/><stop offset="0.0946" stop-color="#262626"/><stop offset="0.1216" stop-color="#212121"/><stop offset="0.1486" stop-color="#151515"/><stop offset="0.1757" stop-color="#131313"/><stop offset="0.2027" stop-color="#181818"/><stop offset="0.2297" stop-color="#292929"/><stop offset="0.2568" stop-color="#292929"/><stop offset="0.2838" stop-color="#2a2a2a"/><stop offset="0.3108" stop-color="#303030"/><stop offset="0.3378" stop-color="#303030"/><stop offset="0.3649" stop-color="#303030"/><stop offset="0.3919" stop-color="#2f2f2f"/><stop offset="0.4189" stop-color="#2c2c2c"/><stop offset="0.4459" stop-color="#2b2b2b"/><stop offset="0.4730" stop-color="#292929"/><stop offset="0.5000" stop-color="#292929"/><stop offset="0.5270" stop-color="#282828"/><stop offset="0.5541" stop-color="#282828"/><stop offset="0.5811" stop-color="#2a2a2a"/><stop offset="0.6081" stop-color="#2d2d2d"/><stop offset="0.6351" stop-color="#363636"/><stop offset="0.6622" stop-color="#464646"/><stop offset="0.6892" stop-color="#4d4d4d"/><stop offset="0.7162" stop-color="#363636"/><stop offset="0.7432" stop-color="#2a2a2a"/><stop offset="0.7703" stop-color="#222222"/><stop offset="0.7973" stop-color="#262626"/><stop offset="0.8243" stop-color="#282828"/><stop offset="0.8514" stop-color="#282828"/><stop offset="0.8784" stop-color="#252525"/><stop offset="0.9054" stop-color="#222222"/><stop offset="0.9324" stop-color="#292929"/><stop offset="0.9595" stop-color="#292929"/><stop offset="0.9865" stop-color="#292929"/></linearGradient><linearGradient id="r27" gradientUnits="userSpaceOnUse" x1="38.0" x2="859.4" y1="0" y2="0"><stop offset="0.0135" stop-color="#272727"/><stop offset="0.0405" stop-color="#272727"/><stop offset="0.0676" stop-color="#272727"/><stop offset="0.0946" stop-color="#262626"/><stop offset="0.1216" stop-color="#212121"/><stop offset="0.1486" stop-color="#161616"/><stop offset="0.1757" stop-color="#131313"/><stop offset="0.2027" stop-color="#1a1a1a"/><stop offset="0.2297" stop-color="#292929"/><stop offset="0.2568" stop-color="#292929"/><stop offset="0.2838" stop-color="#2a2a2a"/><stop offset="0.3108" stop-color="#303030"/><stop offset="0.3378" stop-color="#303030"/><stop offset="0.3649" stop-color="#303030"/><stop offset="0.3919" stop-color="#313131"/><stop offset="0.4189" stop-color="#2e2e2e"/><stop offset="0.4459" stop-color="#2d2d2d"/><stop offset="0.4730" stop-color="#2b2b2b"/><stop offset="0.5000" stop-color="#2b2b2b"/><stop offset="0.5270" stop-color="#282828"/><stop offset="0.5541" stop-color="#282828"/><stop offset="0.5811" stop-color="#2a2a2a"/><stop offset="0.6081" stop-color="#2d2d2d"/><stop offset="0.6351" stop-color="#393939"/><stop offset="0.6622" stop-color="#4b4b4b"/><stop offset="0.6892" stop-color="#505050"/><stop offset="0.7162" stop-color="#3c3c3c"/><stop offset="0.7432" stop-color="#2a2a2a"/><stop offset="0.7703" stop-color="#252525"/><stop offset="0.7973" stop-color="#2b2b2b"/><stop offset="0.8243" stop-color="#2d2d2d"/><stop offset="0.8514" stop-color="#2a2a2a"/><stop offset="0.8784" stop-color="#292929"/><stop offset="0.9054" stop-color="#262626"/><stop offset="0.9324" stop-color="#2d2d2d"/><stop offset="0.9595" stop-color="#2d2d2d"/><stop offset="0.9865" stop-color="#2d2d2d"/></linearGradient><linearGradient id="r28" gradientUnits="userSpaceOnUse" x1="38.0" x2="859.4" y1="0" y2="0"><stop offset="0.0135" stop-color="#282828"/><stop offset="0.0405" stop-color="#282828"/><stop offset="0.0676" stop-color="#282828"/><stop offset="0.0946" stop-color="#262626"/><stop offset="0.1216" stop-color="#212121"/><stop offset="0.1486" stop-color="#171717"/><stop offset="0.1757" stop-color="#131313"/><stop offset="0.2027" stop-color="#1d1d1d"/><stop offset="0.2297" stop-color="#292929"/><stop offset="0.2568" stop-color="#292929"/><stop offset="0.2838" stop-color="#2a2a2a"/><stop offset="0.3108" stop-color="#303030"/><stop offset="0.3378" stop-color="#303030"/><stop offset="0.3649" stop-color="#303030"/><stop offset="0.3919" stop-color="#323232"/><stop offset="0.4189" stop-color="#313131"/><stop offset="0.4459" stop-color="#2f2f2f"/><stop offset="0.4730" stop-color="#2e2e2e"/><stop offset="0.5000" stop-color="#2e2e2e"/><stop offset="0.5270" stop-color="#2b2b2b"/><stop offset="0.5541" stop-color="#2b2b2b"/><stop offset="0.5811" stop-color="#2c2c2c"/><stop offset="0.6081" stop-color="#2f2f2f"/><stop offset="0.6351" stop-color="#404040"/><stop offset="0.6622" stop-color="#4e4e4e"/><stop offset="0.6892" stop-color="#525252"/><stop offset="0.7162" stop-color="#474747"/><stop offset="0.7432" stop-color="#2c2c2c"/><stop offset="0.7703" stop-color="#282828"/><stop offset="0.7973" stop-color="#2e2e2e"/><stop offset="0.8243" stop-color="#333333"/><stop offset="0.8514" stop-color="#2c2c2c"/><stop offset="0.8784" stop-color="#2d2d2d"/><stop offset="0.9054" stop-color="#2f2f2f"/><stop offset="0.9324" stop-color="#353535"/><stop offset="0.9595" stop-color="#353535"/><stop offset="0.9865" stop-color="#353535"/></linearGradient><linearGradient id="r29" gradientUnits="userSpaceOnUse" x1="38.0" x2="859.4" y1="0" y2="0"><stop offset="0.0135" stop-color="#282828"/><stop offset="0.0405" stop-color="#282828"/><stop offset="0.0676" stop-color="#282828"/><stop offset="0.0946" stop-color="#262626"/><stop offset="0.1216" stop-color="#212121"/><stop offset="0.1486" stop-color="#191919"/><stop offset="0.1757" stop-color="#151515"/><stop offset="0.2027" stop-color="#212121"/><stop offset="0.2297" stop-color="#292929"/><stop offset="0.2568" stop-color="#292929"/><stop offset="0.2838" stop-color="#2a2a2a"/><stop offset="0.3108" stop-color="#313131"/><stop offset="0.3378" stop-color="#343434"/><stop offset="0.3649" stop-color="#343434"/><stop offset="0.3919" stop-color="#373737"/><stop offset="0.4189" stop-color="#363636"/><stop offset="0.4459" stop-color="#343434"/><stop offset="0.4730" stop-color="#343434"/><stop offset="0.5000" stop-color="#353535"/><stop offset="0.5270" stop-color="#313131"/><stop offset="0.5541" stop-color="#303030"/><stop offset="0.5811" stop-color="#303030"/><stop offset="0.6081" stop-color="#333333"/><stop offset="0.6351" stop-color="#464646"/><stop offset="0.6622" stop-color="#515151"/><stop offset="0.6892" stop-color="#505050"/><stop offset="0.7162" stop-color="#464646"/><stop offset="0.7432" stop-color="#2f2f2f"/><stop offset="0.7703" stop-color="#313131"/><stop offset="0.7973" stop-color="#373737"/><stop offset="0.8243" stop-color="#3b3b3b"/><stop offset="0.8514" stop-color="#313131"/><stop offset="0.8784" stop-color="#343434"/><stop offset="0.9054" stop-color="#383838"/><stop offset="0.9324" stop-color="#3f3f3f"/><stop offset="0.9595" stop-color="#3f3f3f"/><stop offset="0.9865" stop-color="#3f3f3f"/></linearGradient><linearGradient id="r30" gradientUnits="userSpaceOnUse" x1="38.0" x2="859.4" y1="0" y2="0"><stop offset="0.0135" stop-color="#292929"/><stop offset="0.0405" stop-color="#292929"/><stop offset="0.0676" stop-color="#292929"/><stop offset="0.0946" stop-color="#262626"/><stop offset="0.1216" stop-color="#212121"/><stop offset="0.1486" stop-color="#1b1b1b"/><stop offset="0.1757" stop-color="#181818"/><stop offset="0.2027" stop-color="#272727"/><stop offset="0.2297" stop-color="#292929"/><stop offset="0.2568" stop-color="#292929"/><stop offset="0.2838" stop-color="#2b2b2b"/><stop offset="0.3108" stop-color="#333333"/><stop offset="0.3378" stop-color="#3c3c3c"/><stop offset="0.3649" stop-color="#3c3c3c"/><stop offset="0.3919" stop-color="#3f3f3f"/><stop offset="0.4189" stop-color="#3d3d3d"/><stop offset="0.4459" stop-color="#3c3c3c"/><stop offset="0.4730" stop-color="#3c3c3c"/><stop offset="0.5000" stop-color="#3e3e3e"/><stop offset="0.5270" stop-color="#393939"/><stop offset="0.5541" stop-color="#363636"/><stop offset="0.5811" stop-color="#363636"/><stop offset="0.6081" stop-color="#393939"/><stop offset="0.6351" stop-color="#4c4c4c"/><stop offset="0.6622" stop-color="#545454"/><stop offset="0.6892" stop-color="#4c4c4c"/><stop offset="0.7162" stop-color="#393939"/><stop offset="0.7432" stop-color="#343434"/><stop offset="0.7703" stop-color="#3f3f3f"/><stop offset="0.7973" stop-color="#454545"/><stop offset="0.8243" stop-color="#454545"/><stop offset="0.8514" stop-color="#393939"/><stop offset="0.8784" stop-color="#3c3c3c"/><stop offset="0.9054" stop-color="#414141"/><stop offset="0.9324" stop-color="#4a4a4a"/><stop offset="0.9595" stop-color="#4a4a4a"/><stop offset="0.9865" stop-color="#4a4a4a"/></linearGradient><linearGradient id="r31" gradientUnits="userSpaceOnUse" x1="38.0" x2="859.4" y1="0" y2="0"><stop offset="0.0135" stop-color="#2a2a2a"/><stop offset="0.0405" stop-color="#2a2a2a"/><stop offset="0.0676" stop-color="#2a2a2a"/><stop offset="0.0946" stop-color="#272727"/><stop offset="0.1216" stop-color="#222222"/><stop offset="0.1486" stop-color="#1f1f1f"/><stop offset="0.1757" stop-color="#1e1e1e"/><stop offset="0.2027" stop-color="#2c2c2c"/><stop offset="0.2297" stop-color="#2c2c2c"/><stop offset="0.2568" stop-color="#2b2b2b"/><stop offset="0.2838" stop-color="#2b2b2b"/><stop offset="0.3108" stop-color="#333333"/><stop offset="0.3378" stop-color="#434343"/><stop offset="0.3649" stop-color="#434343"/><stop offset="0.3919" stop-color="#474747"/><stop offset="0.4189" stop-color="#454545"/><stop offset="0.4459" stop-color="#454545"/><stop offset="0.4730" stop-color="#454545"/><stop offset="0.5000" stop-color="#474747"/><stop offset="0.5270" stop-color="#414141"/><stop offset="0.5541" stop-color="#3d3d3d"/><stop offset="0.5811" stop-color="#3d3d3d"/><stop offset="0.6081" stop-color="#414141"/><stop offset="0.6351" stop-color="#515151"/><stop offset="0.6622" stop-color="#585858"/><stop offset="0.6892" stop-color="#4b4b4b"/><stop offset="0.7162" stop-color="#363636"/><stop offset="0.7432" stop-color="#3a3a3a"/><stop offset="0.7703" stop-color="#494949"/><stop offset="0.7973" stop-color="#4f4f4f"/><stop offset="0.8243" stop-color="#4b4b4b"/><stop offset="0.8514" stop-color="#444444"/><stop offset="0.8784" stop-color="#464646"/><stop offset="0.9054" stop-color="#4c4c4c"/><stop offset="0.9324" stop-color="#545454"/><stop offset="0.9595" stop-color="#545454"/><stop offset="0.9865" stop-color="#545454"/></linearGradient><linearGradient id="r32" gradientUnits="userSpaceOnUse" x1="38.0" x2="859.4" y1="0" y2="0"><stop offset="0.0135" stop-color="#2c2c2c"/><stop offset="0.0405" stop-color="#2c2c2c"/><stop offset="0.0676" stop-color="#2c2c2c"/><stop offset="0.0946" stop-color="#292929"/><stop offset="0.1216" stop-color="#252525"/><stop offset="0.1486" stop-color="#242424"/><stop offset="0.1757" stop-color="#282828"/><stop offset="0.2027" stop-color="#313131"/><stop offset="0.2297" stop-color="#313131"/><stop offset="0.2568" stop-color="#2e2e2e"/><stop offset="0.2838" stop-color="#2c2c2c"/><stop offset="0.3108" stop-color="#313131"/><stop offset="0.3378" stop-color="#494949"/><stop offset="0.3649" stop-color="#494949"/><stop offset="0.3919" stop-color="#4f4f4f"/><stop offset="0.4189" stop-color="#4e4e4e"/><stop offset="0.4459" stop-color="#4e4e4e"/><stop offset="0.4730" stop-color="#4e4e4e"/><stop offset="0.5000" stop-color="#4f4f4f"/><stop offset="0.5270" stop-color="#494949"/><stop offset="0.5541" stop-color="#454545"/><stop offset="0.5811" stop-color="#454545"/><stop offset="0.6081" stop-color="#494949"/><stop offset="0.6351" stop-color="#545454"/><stop offset="0.6622" stop-color="#5b5b5b"/><stop offset="0.6892" stop-color="#4d4d4d"/><stop offset="0.7162" stop-color="#3d3d3d"/><stop offset="0.7432" stop-color="#424242"/><stop offset="0.7703" stop-color="#505050"/><stop offset="0.7973" stop-color="#545454"/><stop offset="0.8243" stop-color="#4e4e4e"/><stop offset="0.8514" stop-color="#525252"/><stop offset="0.8784" stop-color="#535353"/><stop offset="0.9054" stop-color="#575757"/><stop offset="0.9324" stop-color="#5e5e5e"/><stop offset="0.9595" stop-color="#5e5e5e"/><stop offset="0.9865" stop-color="#5e5e5e"/></linearGradient><linearGradient id="r33" gradientUnits="userSpaceOnUse" x1="38.0" x2="859.4" y1="0" y2="0"><stop offset="0.0135" stop-color="#2d2d2d"/><stop offset="0.0405" stop-color="#2d2d2d"/><stop offset="0.0676" stop-color="#2d2d2d"/><stop offset="0.0946" stop-color="#292929"/><stop offset="0.1216" stop-color="#272727"/><stop offset="0.1486" stop-color="#282828"/><stop offset="0.1757" stop-color="#2f2f2f"/><stop offset="0.2027" stop-color="#353535"/><stop offset="0.2297" stop-color="#363636"/><stop offset="0.2568" stop-color="#343434"/><stop offset="0.2838" stop-color="#303030"/><stop offset="0.3108" stop-color="#313131"/><stop offset="0.3378" stop-color="#464646"/><stop offset="0.3649" stop-color="#4e4e4e"/><stop offset="0.3919" stop-color="#545454"/><stop offset="0.4189" stop-color="#555555"/><stop offset="0.4459" stop-color="#545454"/><stop offset="0.4730" stop-color="#545454"/><stop offset="0.5000" stop-color="#545454"/><stop offset="0.5270" stop-color="#505050"/><stop offset="0.5541" stop-color="#4d4d4d"/><stop offset="0.5811" stop-color="#4d4d4d"/><stop offset="0.6081" stop-color="#4e4e4e"/><stop offset="0.6351" stop-color="#565656"/><stop offset="0.6622" stop-color="#5c5c5c"/><stop offset="0.6892" stop-color="#585858"/><stop offset="0.7162" stop-color="#595959"/><stop offset="0.7432" stop-color="#595959"/><stop offset="0.7703" stop-color="#5c5c5c"/><stop offset="0.7973" stop-color="#5c5c5c"/><stop offset="0.8243" stop-color="#5c5c5c"/><stop offset="0.8514" stop-color="#5c5c5c"/><stop offset="0.8784" stop-color="#5c5c5c"/><stop offset="0.9054" stop-color="#606060"/><stop offset="0.9324" stop-color="#696969"/><stop offset="0.9595" stop-color="#696969"/><stop offset="0.9865" stop-color="#696969"/></linearGradient><linearGradient id="r34" gradientUnits="userSpaceOnUse" x1="38.0" x2="859.4" y1="0" y2="0"><stop offset="0.0135" stop-color="#2d2d2d"/><stop offset="0.0405" stop-color="#2d2d2d"/><stop offset="0.0676" stop-color="#2d2d2d"/><stop offset="0.0946" stop-color="#292929"/><stop offset="0.1216" stop-color="#292929"/><stop offset="0.1486" stop-color="#2c2c2c"/><stop offset="0.1757" stop-color="#343434"/><stop offset="0.2027" stop-color="#383838"/><stop offset="0.2297" stop-color="#3d3d3d"/><stop offset="0.2568" stop-color="#3c3c3c"/><stop offset="0.2838" stop-color="#363636"/><stop offset="0.3108" stop-color="#323232"/><stop offset="0.3378" stop-color="#393939"/><stop offset="0.3649" stop-color="#515151"/><stop offset="0.3919" stop-color="#585858"/><stop offset="0.4189" stop-color="#5a5a5a"/><stop offset="0.4459" stop-color="#585858"/><stop offset="0.4730" stop-color="#585858"/><stop offset="0.5000" stop-color="#585858"/><stop offset="0.5270" stop-color="#565656"/><stop offset="0.5541" stop-color="#555555"/><stop offset="0.5811" stop-color="#555555"/><stop offset="0.6081" stop-color="#515151"/><stop offset="0.6351" stop-color="#565656"/><stop offset="0.6622" stop-color="#5a5a5a"/><stop offset="0.6892" stop-color="#6b6b6b"/><stop offset="0.7162" stop-color="#636363"/><stop offset="0.7432" stop-color="#636363"/><stop offset="0.7703" stop-color="#636363"/><stop offset="0.7973" stop-color="#636363"/><stop offset="0.8243" stop-color="#636363"/><stop offset="0.8514" stop-color="#636363"/><stop offset="0.8784" stop-color="#636363"/><stop offset="0.9054" stop-color="#636363"/><stop offset="0.9324" stop-color="#797979"/><stop offset="0.9595" stop-color="#797979"/><stop offset="0.9865" stop-color="#797979"/></linearGradient><linearGradient id="r35" gradientUnits="userSpaceOnUse" x1="38.0" x2="859.4" y1="0" y2="0"><stop offset="0.0135" stop-color="#2d2d2d"/><stop offset="0.0405" stop-color="#2d2d2d"/><stop offset="0.0676" stop-color="#2d2d2d"/><stop offset="0.0946" stop-color="#2c2c2c"/><stop offset="0.1216" stop-color="#2d2d2d"/><stop offset="0.1486" stop-color="#313131"/><stop offset="0.1757" stop-color="#383838"/><stop offset="0.2027" stop-color="#3c3c3c"/><stop offset="0.2297" stop-color="#424242"/><stop offset="0.2568" stop-color="#414141"/><stop offset="0.2838" stop-color="#3b3b3b"/><stop offset="0.3108" stop-color="#353535"/><stop offset="0.3378" stop-color="#353535"/><stop offset="0.3649" stop-color="#595959"/><stop offset="0.3919" stop-color="#5c5c5c"/><stop offset="0.4189" stop-color="#5d5d5d"/><stop offset="0.4459" stop-color="#5b5b5b"/><stop offset="0.4730" stop-color="#5a5a5a"/><stop offset="0.5000" stop-color="#5a5a5a"/><stop offset="0.5270" stop-color="#5a5a5a"/><stop offset="0.5541" stop-color="#5a5a5a"/><stop offset="0.5811" stop-color="#5a5a5a"/><stop offset="0.6081" stop-color="#535353"/><stop offset="0.6351" stop-color="#565656"/><stop offset="0.6622" stop-color="#626262"/><stop offset="0.6892" stop-color="#767676"/><stop offset="0.7162" stop-color="#7c7c7c"/><stop offset="0.7432" stop-color="#7c7c7c"/><stop offset="0.7703" stop-color="#7c7c7c"/><stop offset="0.7973" stop-color="#7c7c7c"/><stop offset="0.8243" stop-color="#7c7c7c"/><stop offset="0.8514" stop-color="#737373"/><stop offset="0.8784" stop-color="#666666"/><stop offset="0.9054" stop-color="#636363"/><stop offset="0.9324" stop-color="#7c7c7c"/><stop offset="0.9595" stop-color="#7c7c7c"/><stop offset="0.9865" stop-color="#7c7c7c"/></linearGradient><linearGradient id="r36" gradientUnits="userSpaceOnUse" x1="38.0" x2="859.4" y1="0" y2="0"><stop offset="0.0135" stop-color="#2d2d2d"/><stop offset="0.0405" stop-color="#2d2d2d"/><stop offset="0.0676" stop-color="#2d2d2d"/><stop offset="0.0946" stop-color="#323232"/><stop offset="0.1216" stop-color="#333333"/><stop offset="0.1486" stop-color="#363636"/><stop offset="0.1757" stop-color="#3b3b3b"/><stop offset="0.2027" stop-color="#414141"/><stop offset="0.2297" stop-color="#474747"/><stop offset="0.2568" stop-color="#454545"/><stop offset="0.2838" stop-color="#3e3e3e"/><stop offset="0.3108" stop-color="#3a3a3a"/><stop offset="0.3378" stop-color="#3a3a3a"/><stop offset="0.3649" stop-color="#656565"/><stop offset="0.3919" stop-color="#606060"/><stop offset="0.4189" stop-color="#5f5f5f"/><stop offset="0.4459" stop-color="#5e5e5e"/><stop offset="0.4730" stop-color="#5c5c5c"/><stop offset="0.5000" stop-color="#5c5c5c"/><stop offset="0.5270" stop-color="#5c5c5c"/><stop offset="0.5541" stop-color="#5c5c5c"/><stop offset="0.5811" stop-color="#5a5a5a"/><stop offset="0.6081" stop-color="#535353"/><stop offset="0.6351" stop-color="#565656"/><stop offset="0.6622" stop-color="#747474"/><stop offset="0.6892" stop-color="#7c7c7c"/><stop offset="0.7162" stop-color="#808080"/><stop offset="0.7432" stop-color="#808080"/><stop offset="0.7703" stop-color="#808080"/><stop offset="0.7973" stop-color="#808080"/><stop offset="0.8243" stop-color="#808080"/><stop offset="0.8514" stop-color="#797979"/><stop offset="0.8784" stop-color="#696969"/><stop offset="0.9054" stop-color="#666666"/><stop offset="0.9324" stop-color="#797979"/><stop offset="0.9595" stop-color="#797979"/><stop offset="0.9865" stop-color="#797979"/></linearGradient><linearGradient id="r37" gradientUnits="userSpaceOnUse" x1="38.0" x2="859.4" y1="0" y2="0"><stop offset="0.0135" stop-color="#313131"/><stop offset="0.0405" stop-color="#313131"/><stop offset="0.0676" stop-color="#313131"/><stop offset="0.0946" stop-color="#383838"/><stop offset="0.1216" stop-color="#393939"/><stop offset="0.1486" stop-color="#3a3a3a"/><stop offset="0.1757" stop-color="#3e3e3e"/><stop offset="0.2027" stop-color="#454545"/><stop offset="0.2297" stop-color="#4a4a4a"/><stop offset="0.2568" stop-color="#474747"/><stop offset="0.2838" stop-color="#404040"/><stop offset="0.3108" stop-color="#3c3c3c"/><stop offset="0.3378" stop-color="#444444"/><stop offset="0.3649" stop-color="#6d6d6d"/><stop offset="0.3919" stop-color="#656565"/><stop offset="0.4189" stop-color="#626262"/><stop offset="0.4459" stop-color="#616161"/><stop offset="0.4730" stop-color="#5e5e5e"/><stop offset="0.5000" stop-color="#5d5d5d"/><stop offset="0.5270" stop-color="#5d5d5d"/><stop offset="0.5541" stop-color="#5e5e5e"/><stop offset="0.5811" stop-color="#616161"/><stop offset="0.6081" stop-color="#5d5d5d"/><stop offset="0.6351" stop-color="#616161"/><stop offset="0.6622" stop-color="#7d7d7d"/><stop offset="0.6892" stop-color="#808080"/><stop offset="0.7162" stop-color="#838383"/><stop offset="0.7432" stop-color="#838383"/><stop offset="0.7703" stop-color="#838383"/><stop offset="0.7973" stop-color="#838383"/><stop offset="0.8243" stop-color="#838383"/><stop offset="0.8514" stop-color="#7c7c7c"/><stop offset="0.8784" stop-color="#6c6c6c"/><stop offset="0.9054" stop-color="#696969"/><stop offset="0.9324" stop-color="#7c7c7c"/><stop offset="0.9595" stop-color="#7c7c7c"/><stop offset="0.9865" stop-color="#7c7c7c"/></linearGradient><linearGradient id="r38" gradientUnits="userSpaceOnUse" x1="38.0" x2="859.4" y1="0" y2="0"><stop offset="0.0135" stop-color="#3b3b3b"/><stop offset="0.0405" stop-color="#3b3b3b"/><stop offset="0.0676" stop-color="#3b3b3b"/><stop offset="0.0946" stop-color="#3d3d3d"/><stop offset="0.1216" stop-color="#3d3d3d"/><stop offset="0.1486" stop-color="#3c3c3c"/><stop offset="0.1757" stop-color="#414141"/><stop offset="0.2027" stop-color="#484848"/><stop offset="0.2297" stop-color="#4c4c4c"/><stop offset="0.2568" stop-color="#494949"/><stop offset="0.2838" stop-color="#404040"/><stop offset="0.3108" stop-color="#3a3a3a"/><stop offset="0.3378" stop-color="#525252"/><stop offset="0.3649" stop-color="#717171"/><stop offset="0.3919" stop-color="#6a6a6a"/><stop offset="0.4189" stop-color="#676767"/><stop offset="0.4459" stop-color="#646464"/><stop offset="0.4730" stop-color="#616161"/><stop offset="0.5000" stop-color="#5e5e5e"/><stop offset="0.5270" stop-color="#5e5e5e"/><stop offset="0.5541" stop-color="#606060"/><stop offset="0.5811" stop-color="#6d6d6d"/><stop offset="0.6081" stop-color="#727272"/><stop offset="0.6351" stop-color="#787878"/><stop offset="0.6622" stop-color="#7f7f7f"/><stop offset="0.6892" stop-color="#7f7f7f"/><stop offset="0.7162" stop-color="#868686"/><stop offset="0.7432" stop-color="#868686"/><stop offset="0.7703" stop-color="#868686"/><stop offset="0.7973" stop-color="#868686"/><stop offset="0.8243" stop-color="#868686"/><stop offset="0.8514" stop-color="#838383"/><stop offset="0.8784" stop-color="#797979"/><stop offset="0.9054" stop-color="#737373"/><stop offset="0.9324" stop-color="#808080"/><stop offset="0.9595" stop-color="#808080"/><stop offset="0.9865" stop-color="#808080"/></linearGradient><linearGradient id="r39" gradientUnits="userSpaceOnUse" x1="38.0" x2="859.4" y1="0" y2="0"><stop offset="0.0135" stop-color="#3e3e3e"/><stop offset="0.0405" stop-color="#3e3e3e"/><stop offset="0.0676" stop-color="#3e3e3e"/><stop offset="0.0946" stop-color="#3e3e3e"/><stop offset="0.1216" stop-color="#3e3e3e"/><stop offset="0.1486" stop-color="#3d3d3d"/><stop offset="0.1757" stop-color="#444444"/><stop offset="0.2027" stop-color="#4b4b4b"/><stop offset="0.2297" stop-color="#4e4e4e"/><stop offset="0.2568" stop-color="#4b4b4b"/><stop offset="0.2838" stop-color="#444444"/><stop offset="0.3108" stop-color="#414141"/><stop offset="0.3378" stop-color="#5b5b5b"/><stop offset="0.3649" stop-color="#707070"/><stop offset="0.3919" stop-color="#6f6f6f"/><stop offset="0.4189" stop-color="#6b6b6b"/><stop offset="0.4459" stop-color="#666666"/><stop offset="0.4730" stop-color="#626262"/><stop offset="0.5000" stop-color="#5e5e5e"/><stop offset="0.5270" stop-color="#5e5e5e"/><stop offset="0.5541" stop-color="#626262"/><stop offset="0.5811" stop-color="#737373"/><stop offset="0.6081" stop-color="#7c7c7c"/><stop offset="0.6351" stop-color="#838383"/><stop offset="0.6622" stop-color="#808080"/><stop offset="0.6892" stop-color="#828282"/><stop offset="0.7162" stop-color="#868686"/><stop offset="0.7432" stop-color="#8b8b8b"/><stop offset="0.7703" stop-color="#8b8b8b"/><stop offset="0.7973" stop-color="#8b8b8b"/><stop offset="0.8243" stop-color="#8b8b8b"/><stop offset="0.8514" stop-color="#878787"/><stop offset="0.8784" stop-color="#858585"/><stop offset="0.9054" stop-color="#808080"/><stop offset="0.9324" stop-color="#848484"/><stop offset="0.9595" stop-color="#848484"/><stop offset="0.9865" stop-color="#848484"/></linearGradient><linearGradient id="r40" gradientUnits="userSpaceOnUse" x1="38.0" x2="859.4" y1="0" y2="0"><stop offset="0.0135" stop-color="#3b3b3b"/><stop offset="0.0405" stop-color="#3b3b3b"/><stop offset="0.0676" stop-color="#3b3b3b"/><stop offset="0.0946" stop-color="#3b3b3b"/><stop offset="0.1216" stop-color="#3b3b3b"/><stop offset="0.1486" stop-color="#3d3d3d"/><stop offset="0.1757" stop-color="#454545"/><stop offset="0.2027" stop-color="#4e4e4e"/><stop offset="0.2297" stop-color="#515151"/><stop offset="0.2568" stop-color="#4e4e4e"/><stop offset="0.2838" stop-color="#4c4c4c"/><stop offset="0.3108" stop-color="#4f4f4f"/><stop offset="0.3378" stop-color="#5e5e5e"/><stop offset="0.3649" stop-color="#6c6c6c"/><stop offset="0.3919" stop-color="#747474"/><stop offset="0.4189" stop-color="#6e6e6e"/><stop offset="0.4459" stop-color="#666666"/><stop offset="0.4730" stop-color="#606060"/><stop offset="0.5000" stop-color="#5d5d5d"/><stop offset="0.5270" stop-color="#5f5f5f"/><stop offset="0.5541" stop-color="#656565"/><stop offset="0.5811" stop-color="#737373"/><stop offset="0.6081" stop-color="#7c7c7c"/><stop offset="0.6351" stop-color="#838383"/><stop offset="0.6622" stop-color="#808080"/><stop offset="0.6892" stop-color="#878787"/><stop offset="0.7162" stop-color="#8c8c8c"/><stop offset="0.7432" stop-color="#8e8e8e"/><stop offset="0.7703" stop-color="#909090"/><stop offset="0.7973" stop-color="#8e8e8e"/><stop offset="0.8243" stop-color="#8e8e8e"/><stop offset="0.8514" stop-color="#8b8b8b"/><stop offset="0.8784" stop-color="#8a8a8a"/><stop offset="0.9054" stop-color="#868686"/><stop offset="0.9324" stop-color="#878787"/><stop offset="0.9595" stop-color="#878787"/><stop offset="0.9865" stop-color="#878787"/></linearGradient><linearGradient id="r41" gradientUnits="userSpaceOnUse" x1="38.0" x2="859.4" y1="0" y2="0"><stop offset="0.0135" stop-color="#3a3a3a"/><stop offset="0.0405" stop-color="#3a3a3a"/><stop offset="0.0676" stop-color="#3a3a3a"/><stop offset="0.0946" stop-color="#3a3a3a"/><stop offset="0.1216" stop-color="#3b3b3b"/><stop offset="0.1486" stop-color="#3f3f3f"/><stop offset="0.1757" stop-color="#474747"/><stop offset="0.2027" stop-color="#505050"/><stop offset="0.2297" stop-color="#545454"/><stop offset="0.2568" stop-color="#535353"/><stop offset="0.2838" stop-color="#565656"/><stop offset="0.3108" stop-color="#5c5c5c"/><stop offset="0.3378" stop-color="#656565"/><stop offset="0.3649" stop-color="#6c6c6c"/><stop offset="0.3919" stop-color="#787878"/><stop offset="0.4189" stop-color="#737373"/><stop offset="0.4459" stop-color="#6c6c6c"/><stop offset="0.4730" stop-color="#676767"/><stop offset="0.5000" stop-color="#666666"/><stop offset="0.5270" stop-color="#6a6a6a"/><stop offset="0.5541" stop-color="#6f6f6f"/><stop offset="0.5811" stop-color="#777777"/><stop offset="0.6081" stop-color="#7e7e7e"/><stop offset="0.6351" stop-color="#828282"/><stop offset="0.6622" stop-color="#828282"/><stop offset="0.6892" stop-color="#898989"/><stop offset="0.7162" stop-color="#8f8f8f"/><stop offset="0.7432" stop-color="#8f8f8f"/><stop offset="0.7703" stop-color="#929292"/><stop offset="0.7973" stop-color="#8f8f8f"/><stop offset="0.8243" stop-color="#8f8f8f"/><stop offset="0.8514" stop-color="#8c8c8c"/><stop offset="0.8784" stop-color="#8c8c8c"/><stop offset="0.9054" stop-color="#8a8a8a"/><stop offset="0.9324" stop-color="#8a8a8a"/><stop offset="0.9595" stop-color="#8a8a8a"/><stop offset="0.9865" stop-color="#8a8a8a"/></linearGradient><linearGradient id="r42" gradientUnits="userSpaceOnUse" x1="38.0" x2="859.4" y1="0" y2="0"><stop offset="0.0135" stop-color="#3b3b3b"/><stop offset="0.0405" stop-color="#3b3b3b"/><stop offset="0.0676" stop-color="#3b3b3b"/><stop offset="0.0946" stop-color="#3c3c3c"/><stop offset="0.1216" stop-color="#3e3e3e"/><stop offset="0.1486" stop-color="#444444"/><stop offset="0.1757" stop-color="#494949"/><stop offset="0.2027" stop-color="#505050"/><stop offset="0.2297" stop-color="#555555"/><stop offset="0.2568" stop-color="#595959"/><stop offset="0.2838" stop-color="#636363"/><stop offset="0.3108" stop-color="#696969"/><stop offset="0.3378" stop-color="#707070"/><stop offset="0.3649" stop-color="#737373"/><stop offset="0.3919" stop-color="#7b7b7b"/><stop offset="0.4189" stop-color="#797979"/><stop offset="0.4459" stop-color="#777777"/><stop offset="0.4730" stop-color="#757575"/><stop offset="0.5000" stop-color="#797979"/><stop offset="0.5270" stop-color="#7f7f7f"/><stop offset="0.5541" stop-color="#808080"/><stop offset="0.5811" stop-color="#7f7f7f"/><stop offset="0.6081" stop-color="#818181"/><stop offset="0.6351" stop-color="#808080"/><stop offset="0.6622" stop-color="#878787"/><stop offset="0.6892" stop-color="#898989"/><stop offset="0.7162" stop-color="#8f8f8f"/><stop offset="0.7432" stop-color="#8f8f8f"/><stop offset="0.7703" stop-color="#909090"/><stop offset="0.7973" stop-color="#8f8f8f"/><stop offset="0.8243" stop-color="#8d8d8d"/><stop offset="0.8514" stop-color="#8c8c8c"/><stop offset="0.8784" stop-color="#8c8c8c"/><stop offset="0.9054" stop-color="#8b8b8b"/><stop offset="0.9324" stop-color="#8b8b8b"/><stop offset="0.9595" stop-color="#8b8b8b"/><stop offset="0.9865" stop-color="#8b8b8b"/></linearGradient><linearGradient id="r43" gradientUnits="userSpaceOnUse" x1="38.0" x2="859.4" y1="0" y2="0"><stop offset="0.0135" stop-color="#404040"/><stop offset="0.0405" stop-color="#404040"/><stop offset="0.0676" stop-color="#404040"/><stop offset="0.0946" stop-color="#414141"/><stop offset="0.1216" stop-color="#444444"/><stop offset="0.1486" stop-color="#494949"/><stop offset="0.1757" stop-color="#4b4b4b"/><stop offset="0.2027" stop-color="#515151"/><stop offset="0.2297" stop-color="#585858"/><stop offset="0.2568" stop-color="#5e5e5e"/><stop offset="0.2838" stop-color="#6b6b6b"/><stop offset="0.3108" stop-color="#737373"/><stop offset="0.3378" stop-color="#797979"/><stop offset="0.3649" stop-color="#797979"/><stop offset="0.3919" stop-color="#808080"/><stop offset="0.4189" stop-color="#808080"/><stop offset="0.4459" stop-color="#818181"/><stop offset="0.4730" stop-color="#838383"/><stop offset="0.5000" stop-color="#898989"/><stop offset="0.5270" stop-color="#8d8d8d"/><stop offset="0.5541" stop-color="#8c8c8c"/><stop offset="0.5811" stop-color="#878787"/><stop offset="0.6081" stop-color="#878787"/><stop offset="0.6351" stop-color="#858585"/><stop offset="0.6622" stop-color="#8b8b8b"/><stop offset="0.6892" stop-color="#8b8b8b"/><stop offset="0.7162" stop-color="#8f8f8f"/><stop offset="0.7432" stop-color="#8f8f8f"/><stop offset="0.7703" stop-color="#8f8f8f"/><stop offset="0.7973" stop-color="#8f8f8f"/><stop offset="0.8243" stop-color="#8b8b8b"/><stop offset="0.8514" stop-color="#8c8c8c"/><stop offset="0.8784" stop-color="#8c8c8c"/><stop offset="0.9054" stop-color="#8c8c8c"/><stop offset="0.9324" stop-color="#8c8c8c"/><stop offset="0.9595" stop-color="#8c8c8c"/><stop offset="0.9865" stop-color="#8c8c8c"/></linearGradient><linearGradient id="r44" gradientUnits="userSpaceOnUse" x1="38.0" x2="859.4" y1="0" y2="0"><stop offset="0.0135" stop-color="#4b4b4b"/><stop offset="0.0405" stop-color="#4b4b4b"/><stop offset="0.0676" stop-color="#4b4b4b"/><stop offset="0.0946" stop-color="#4b4b4b"/><stop offset="0.1216" stop-color="#4c4c4c"/><stop offset="0.1486" stop-color="#4d4d4d"/><stop offset="0.1757" stop-color="#4e4e4e"/><stop offset="0.2027" stop-color="#545454"/><stop offset="0.2297" stop-color="#5b5b5b"/><stop offset="0.2568" stop-color="#616161"/><stop offset="0.2838" stop-color="#6e6e6e"/><stop offset="0.3108" stop-color="#797979"/><stop offset="0.3378" stop-color="#808080"/><stop offset="0.3649" stop-color="#808080"/><stop offset="0.3919" stop-color="#868686"/><stop offset="0.4189" stop-color="#888888"/><stop offset="0.4459" stop-color="#8b8b8b"/><stop offset="0.4730" stop-color="#8f8f8f"/><stop offset="0.5000" stop-color="#969696"/><stop offset="0.5270" stop-color="#949494"/><stop offset="0.5541" stop-color="#939393"/><stop offset="0.5811" stop-color="#919191"/><stop offset="0.6081" stop-color="#919191"/><stop offset="0.6351" stop-color="#909090"/><stop offset="0.6622" stop-color="#909090"/><stop offset="0.6892" stop-color="#8e8e8e"/><stop offset="0.7162" stop-color="#8f8f8f"/><stop offset="0.7432" stop-color="#8f8f8f"/><stop offset="0.7703" stop-color="#8f8f8f"/><stop offset="0.7973" stop-color="#8d8d8d"/><stop offset="0.8243" stop-color="#8a8a8a"/><stop offset="0.8514" stop-color="#8c8c8c"/><stop offset="0.8784" stop-color="#8c8c8c"/><stop offset="0.9054" stop-color="#8c8c8c"/><stop offset="0.9324" stop-color="#8c8c8c"/><stop offset="0.9595" stop-color="#8c8c8c"/><stop offset="0.9865" stop-color="#8c8c8c"/></linearGradient><linearGradient id="r45" gradientUnits="userSpaceOnUse" x1="38.0" x2="859.4" y1="0" y2="0"><stop offset="0.0135" stop-color="#505050"/><stop offset="0.0405" stop-color="#505050"/><stop offset="0.0676" stop-color="#505050"/><stop offset="0.0946" stop-color="#505050"/><stop offset="0.1216" stop-color="#505050"/><stop offset="0.1486" stop-color="#515151"/><stop offset="0.1757" stop-color="#525252"/><stop offset="0.2027" stop-color="#595959"/><stop offset="0.2297" stop-color="#5f5f5f"/><stop offset="0.2568" stop-color="#666666"/><stop offset="0.2838" stop-color="#717171"/><stop offset="0.3108" stop-color="#7d7d7d"/><stop offset="0.3378" stop-color="#848484"/><stop offset="0.3649" stop-color="#868686"/><stop offset="0.3919" stop-color="#8e8e8e"/><stop offset="0.4189" stop-color="#929292"/><stop offset="0.4459" stop-color="#929292"/><stop offset="0.4730" stop-color="#979797"/><stop offset="0.5000" stop-color="#9b9b9b"/><stop offset="0.5270" stop-color="#969696"/><stop offset="0.5541" stop-color="#959595"/><stop offset="0.5811" stop-color="#959595"/><stop offset="0.6081" stop-color="#959595"/><stop offset="0.6351" stop-color="#959595"/><stop offset="0.6622" stop-color="#939393"/><stop offset="0.6892" stop-color="#8f8f8f"/><stop offset="0.7162" stop-color="#8f8f8f"/><stop offset="0.7432" stop-color="#8f8f8f"/><stop offset="0.7703" stop-color="#8f8f8f"/><stop offset="0.7973" stop-color="#8d8d8d"/><stop offset="0.8243" stop-color="#8a8a8a"/><stop offset="0.8514" stop-color="#8c8c8c"/><stop offset="0.8784" stop-color="#8c8c8c"/><stop offset="0.9054" stop-color="#8d8d8d"/><stop offset="0.9324" stop-color="#8d8d8d"/><stop offset="0.9595" stop-color="#8d8d8d"/><stop offset="0.9865" stop-color="#8d8d8d"/></linearGradient><linearGradient id="r46" gradientUnits="userSpaceOnUse" x1="38.0" x2="859.4" y1="0" y2="0"><stop offset="0.0135" stop-color="#505050"/><stop offset="0.0405" stop-color="#505050"/><stop offset="0.0676" stop-color="#505050"/><stop offset="0.0946" stop-color="#515151"/><stop offset="0.1216" stop-color="#515151"/><stop offset="0.1486" stop-color="#535353"/><stop offset="0.1757" stop-color="#575757"/><stop offset="0.2027" stop-color="#606060"/><stop offset="0.2297" stop-color="#646464"/><stop offset="0.2568" stop-color="#6c6c6c"/><stop offset="0.2838" stop-color="#747474"/><stop offset="0.3108" stop-color="#7f7f7f"/><stop offset="0.3378" stop-color="#878787"/><stop offset="0.3649" stop-color="#8c8c8c"/><stop offset="0.3919" stop-color="#979797"/><stop offset="0.4189" stop-color="#9d9d9d"/><stop offset="0.4459" stop-color="#979797"/><stop offset="0.4730" stop-color="#989898"/><stop offset="0.5000" stop-color="#9a9a9a"/><stop offset="0.5270" stop-color="#949494"/><stop offset="0.5541" stop-color="#939393"/><stop offset="0.5811" stop-color="#939393"/><stop offset="0.6081" stop-color="#939393"/><stop offset="0.6351" stop-color="#939393"/><stop offset="0.6622" stop-color="#939393"/><stop offset="0.6892" stop-color="#8d8d8d"/><stop offset="0.7162" stop-color="#8f8f8f"/><stop offset="0.7432" stop-color="#8f8f8f"/><stop offset="0.7703" stop-color="#8f8f8f"/><stop offset="0.7973" stop-color="#8f8f8f"/><stop offset="0.8243" stop-color="#8b8b8b"/><stop offset="0.8514" stop-color="#8c8c8c"/><stop offset="0.8784" stop-color="#8c8c8c"/><stop offset="0.9054" stop-color="#8f8f8f"/><stop offset="0.9324" stop-color="#8f8f8f"/><stop offset="0.9595" stop-color="#8f8f8f"/><stop offset="0.9865" stop-color="#8f8f8f"/></linearGradient><linearGradient id="r47" gradientUnits="userSpaceOnUse" x1="38.0" x2="859.4" y1="0" y2="0"><stop offset="0.0135" stop-color="#535353"/><stop offset="0.0405" stop-color="#535353"/><stop offset="0.0676" stop-color="#535353"/><stop offset="0.0946" stop-color="#545454"/><stop offset="0.1216" stop-color="#555555"/><stop offset="0.1486" stop-color="#565656"/><stop offset="0.1757" stop-color="#5a5a5a"/><stop offset="0.2027" stop-color="#636363"/><stop offset="0.2297" stop-color="#676767"/><stop offset="0.2568" stop-color="#6f6f6f"/><stop offset="0.2838" stop-color="#757575"/><stop offset="0.3108" stop-color="#808080"/><stop offset="0.3378" stop-color="#8b8b8b"/><stop offset="0.3649" stop-color="#929292"/><stop offset="0.3919" stop-color="#9f9f9f"/><stop offset="0.4189" stop-color="#a3a3a3"/><stop offset="0.4459" stop-color="#999999"/><stop offset="0.4730" stop-color="#999999"/><stop offset="0.5000" stop-color="#989898"/><stop offset="0.5270" stop-color="#939393"/><stop offset="0.5541" stop-color="#939393"/><stop offset="0.5811" stop-color="#929292"/><stop offset="0.6081" stop-color="#929292"/><stop offset="0.6351" stop-color="#929292"/><stop offset="0.6622" stop-color="#939393"/><stop offset="0.6892" stop-color="#8d8d8d"/><stop offset="0.7162" stop-color="#8f8f8f"/><stop offset="0.7432" stop-color="#8f8f8f"/><stop offset="0.7703" stop-color="#8f8f8f"/><stop offset="0.7973" stop-color="#8f8f8f"/><stop offset="0.8243" stop-color="#8e8e8e"/><stop offset="0.8514" stop-color="#8d8d8d"/><stop offset="0.8784" stop-color="#8d8d8d"/><stop offset="0.9054" stop-color="#8f8f8f"/><stop offset="0.9324" stop-color="#8f8f8f"/><stop offset="0.9595" stop-color="#8f8f8f"/><stop offset="0.9865" stop-color="#8f8f8f"/></linearGradient><linearGradient id="r48" gradientUnits="userSpaceOnUse" x1="38.0" x2="859.4" y1="0" y2="0"><stop offset="0.0135" stop-color="#595959"/><stop offset="0.0405" stop-color="#595959"/><stop offset="0.0676" stop-color="#595959"/><stop offset="0.0946" stop-color="#5a5a5a"/><stop offset="0.1216" stop-color="#5a5a5a"/><stop offset="0.1486" stop-color="#5a5a5a"/><stop offset="0.1757" stop-color="#5c5c5c"/><stop offset="0.2027" stop-color="#636363"/><stop offset="0.2297" stop-color="#686868"/><stop offset="0.2568" stop-color="#6d6d6d"/><stop offset="0.2838" stop-color="#747474"/><stop offset="0.3108" stop-color="#828282"/><stop offset="0.3378" stop-color="#8f8f8f"/><stop offset="0.3649" stop-color="#979797"/><stop offset="0.3919" stop-color="#a3a3a3"/><stop offset="0.4189" stop-color="#a3a3a3"/><stop offset="0.4459" stop-color="#999999"/><stop offset="0.4730" stop-color="#999999"/><stop offset="0.5000" stop-color="#979797"/><stop offset="0.5270" stop-color="#939393"/><stop offset="0.5541" stop-color="#939393"/><stop offset="0.5811" stop-color="#929292"/><stop offset="0.6081" stop-color="#929292"/><stop offset="0.6351" stop-color="#929292"/><stop offset="0.6622" stop-color="#949494"/><stop offset="0.6892" stop-color="#8f8f8f"/><stop offset="0.7162" stop-color="#8f8f8f"/><stop offset="0.7432" stop-color="#8f8f8f"/><stop offset="0.7703" stop-color="#8f8f8f"/><stop offset="0.7973" stop-color="#8f8f8f"/><stop offset="0.8243" stop-color="#919191"/><stop offset="0.8514" stop-color="#8f8f8f"/><stop offset="0.8784" stop-color="#8f8f8f"/><stop offset="0.9054" stop-color="#8f8f8f"/><stop offset="0.9324" stop-color="#8f8f8f"/><stop offset="0.9595" stop-color="#8f8f8f"/><stop offset="0.9865" stop-color="#8f8f8f"/></linearGradient><linearGradient id="r49" gradientUnits="userSpaceOnUse" x1="38.0" x2="859.4" y1="0" y2="0"><stop offset="0.0135" stop-color="#5c5c5c"/><stop offset="0.0405" stop-color="#5c5c5c"/><stop offset="0.0676" stop-color="#5c5c5c"/><stop offset="0.0946" stop-color="#5c5c5c"/><stop offset="0.1216" stop-color="#5c5c5c"/><stop offset="0.1486" stop-color="#5c5c5c"/><stop offset="0.1757" stop-color="#5d5d5d"/><stop offset="0.2027" stop-color="#646464"/><stop offset="0.2297" stop-color="#6c6c6c"/><stop offset="0.2568" stop-color="#707070"/><stop offset="0.2838" stop-color="#767676"/><stop offset="0.3108" stop-color="#868686"/><stop offset="0.3378" stop-color="#949494"/><stop offset="0.3649" stop-color="#9d9d9d"/><stop offset="0.3919" stop-color="#a7a7a7"/><stop offset="0.4189" stop-color="#a3a3a3"/><stop offset="0.4459" stop-color="#9b9b9b"/><stop offset="0.4730" stop-color="#9a9a9a"/><stop offset="0.5000" stop-color="#979797"/><stop offset="0.5270" stop-color="#949494"/><stop offset="0.5541" stop-color="#949494"/><stop offset="0.5811" stop-color="#939393"/><stop offset="0.6081" stop-color="#939393"/><stop offset="0.6351" stop-color="#939393"/><stop offset="0.6622" stop-color="#959595"/><stop offset="0.6892" stop-color="#919191"/><stop offset="0.7162" stop-color="#919191"/><stop offset="0.7432" stop-color="#8f8f8f"/><stop offset="0.7703" stop-color="#909090"/><stop offset="0.7973" stop-color="#919191"/><stop offset="0.8243" stop-color="#939393"/><stop offset="0.8514" stop-color="#909090"/><stop offset="0.8784" stop-color="#8f8f8f"/><stop offset="0.9054" stop-color="#8f8f8f"/><stop offset="0.9324" stop-color="#8f8f8f"/><stop offset="0.9595" stop-color="#8f8f8f"/><stop offset="0.9865" stop-color="#8f8f8f"/></linearGradient><linearGradient id="r50" gradientUnits="userSpaceOnUse" x1="38.0" x2="859.4" y1="0" y2="0"><stop offset="0.0135" stop-color="#5a5a5a"/><stop offset="0.0405" stop-color="#5a5a5a"/><stop offset="0.0676" stop-color="#5a5a5a"/><stop offset="0.0946" stop-color="#5b5b5b"/><stop offset="0.1216" stop-color="#5b5b5b"/><stop offset="0.1486" stop-color="#5c5c5c"/><stop offset="0.1757" stop-color="#5f5f5f"/><stop offset="0.2027" stop-color="#676767"/><stop offset="0.2297" stop-color="#737373"/><stop offset="0.2568" stop-color="#787878"/><stop offset="0.2838" stop-color="#7c7c7c"/><stop offset="0.3108" stop-color="#8c8c8c"/><stop offset="0.3378" stop-color="#999999"/><stop offset="0.3649" stop-color="#a5a5a5"/><stop offset="0.3919" stop-color="#a8a8a8"/><stop offset="0.4189" stop-color="#a5a5a5"/><stop offset="0.4459" stop-color="#9e9e9e"/><stop offset="0.4730" stop-color="#9b9b9b"/><stop offset="0.5000" stop-color="#989898"/><stop offset="0.5270" stop-color="#979797"/><stop offset="0.5541" stop-color="#979797"/><stop offset="0.5811" stop-color="#979797"/><stop offset="0.6081" stop-color="#969696"/><stop offset="0.6351" stop-color="#969696"/><stop offset="0.6622" stop-color="#959595"/><stop offset="0.6892" stop-color="#949494"/><stop offset="0.7162" stop-color="#949494"/><stop offset="0.7432" stop-color="#8f8f8f"/><stop offset="0.7703" stop-color="#929292"/><stop offset="0.7973" stop-color="#949494"/><stop offset="0.8243" stop-color="#939393"/><stop offset="0.8514" stop-color="#929292"/><stop offset="0.8784" stop-color="#8f8f8f"/><stop offset="0.9054" stop-color="#8f8f8f"/><stop offset="0.9324" stop-color="#8d8d8d"/><stop offset="0.9595" stop-color="#8d8d8d"/><stop offset="0.9865" stop-color="#8d8d8d"/></linearGradient><linearGradient id="r51" gradientUnits="userSpaceOnUse" x1="38.0" x2="859.4" y1="0" y2="0"><stop offset="0.0135" stop-color="#5a5a5a"/><stop offset="0.0405" stop-color="#5a5a5a"/><stop offset="0.0676" stop-color="#5a5a5a"/><stop offset="0.0946" stop-color="#5a5a5a"/><stop offset="0.1216" stop-color="#5a5a5a"/><stop offset="0.1486" stop-color="#5c5c5c"/><stop offset="0.1757" stop-color="#606060"/><stop offset="0.2027" stop-color="#6a6a6a"/><stop offset="0.2297" stop-color="#787878"/><stop offset="0.2568" stop-color="#7e7e7e"/><stop offset="0.2838" stop-color="#828282"/><stop offset="0.3108" stop-color="#939393"/><stop offset="0.3378" stop-color="#a0a0a0"/><stop offset="0.3649" stop-color="#a9a9a9"/><stop offset="0.3919" stop-color="#a8a8a8"/><stop offset="0.4189" stop-color="#a4a4a4"/><stop offset="0.4459" stop-color="#9f9f9f"/><stop offset="0.4730" stop-color="#9d9d9d"/><stop offset="0.5000" stop-color="#9b9b9b"/><stop offset="0.5270" stop-color="#999999"/><stop offset="0.5541" stop-color="#9a9a9a"/><stop offset="0.5811" stop-color="#9a9a9a"/><stop offset="0.6081" stop-color="#999999"/><stop offset="0.6351" stop-color="#989898"/><stop offset="0.6622" stop-color="#979797"/><stop offset="0.6892" stop-color="#979797"/><stop offset="0.7162" stop-color="#959595"/><stop offset="0.7432" stop-color="#919191"/><stop offset="0.7703" stop-color="#939393"/><stop offset="0.7973" stop-color="#969696"/><stop offset="0.8243" stop-color="#939393"/><stop offset="0.8514" stop-color="#939393"/><stop offset="0.8784" stop-color="#909090"/><stop offset="0.9054" stop-color="#8f8f8f"/><stop offset="0.9324" stop-color="#8b8b8b"/><stop offset="0.9595" stop-color="#8b8b8b"/><stop offset="0.9865" stop-color="#8b8b8b"/></linearGradient><linearGradient id="r52" gradientUnits="userSpaceOnUse" x1="38.0" x2="859.4" y1="0" y2="0"><stop offset="0.0135" stop-color="#595959"/><stop offset="0.0405" stop-color="#595959"/><stop offset="0.0676" stop-color="#595959"/><stop offset="0.0946" stop-color="#595959"/><stop offset="0.1216" stop-color="#5a5a5a"/><stop offset="0.1486" stop-color="#5a5a5a"/><stop offset="0.1757" stop-color="#626262"/><stop offset="0.2027" stop-color="#6f6f6f"/><stop offset="0.2297" stop-color="#7b7b7b"/><stop offset="0.2568" stop-color="#818181"/><stop offset="0.2838" stop-color="#878787"/><stop offset="0.3108" stop-color="#999999"/><stop offset="0.3378" stop-color="#a8a8a8"/><stop offset="0.3649" stop-color="#a9a9a9"/><stop offset="0.3919" stop-color="#a7a7a7"/><stop offset="0.4189" stop-color="#a1a1a1"/><stop offset="0.4459" stop-color="#9f9f9f"/><stop offset="0.4730" stop-color="#9f9f9f"/><stop offset="0.5000" stop-color="#9e9e9e"/><stop offset="0.5270" stop-color="#999999"/><stop offset="0.5541" stop-color="#9b9b9b"/><stop offset="0.5811" stop-color="#9b9b9b"/><stop offset="0.6081" stop-color="#9b9b9b"/><stop offset="0.6351" stop-color="#9b9b9b"/><stop offset="0.6622" stop-color="#9b9b9b"/><stop offset="0.6892" stop-color="#989898"/><stop offset="0.7162" stop-color="#939393"/><stop offset="0.7432" stop-color="#949494"/><stop offset="0.7703" stop-color="#959595"/><stop offset="0.7973" stop-color="#969696"/><stop offset="0.8243" stop-color="#959595"/><stop offset="0.8514" stop-color="#959595"/><stop offset="0.8784" stop-color="#929292"/><stop offset="0.9054" stop-color="#8d8d8d"/><stop offset="0.9324" stop-color="#8a8a8a"/><stop offset="0.9595" stop-color="#8a8a8a"/><stop offset="0.9865" stop-color="#8a8a8a"/></linearGradient><linearGradient id="r53" gradientUnits="userSpaceOnUse" x1="38.0" x2="859.4" y1="0" y2="0"><stop offset="0.0135" stop-color="#5e5e5e"/><stop offset="0.0405" stop-color="#5e5e5e"/><stop offset="0.0676" stop-color="#5e5e5e"/><stop offset="0.0946" stop-color="#5d5d5d"/><stop offset="0.1216" stop-color="#5c5c5c"/><stop offset="0.1486" stop-color="#5b5b5b"/><stop offset="0.1757" stop-color="#646464"/><stop offset="0.2027" stop-color="#747474"/><stop offset="0.2297" stop-color="#838383"/><stop offset="0.2568" stop-color="#8a8a8a"/><stop offset="0.2838" stop-color="#939393"/><stop offset="0.3108" stop-color="#a1a1a1"/><stop offset="0.3378" stop-color="#ababab"/><stop offset="0.3649" stop-color="#a8a8a8"/><stop offset="0.3919" stop-color="#a5a5a5"/><stop offset="0.4189" stop-color="#9f9f9f"/><stop offset="0.4459" stop-color="#9f9f9f"/><stop offset="0.4730" stop-color="#9f9f9f"/><stop offset="0.5000" stop-color="#9f9f9f"/><stop offset="0.5270" stop-color="#9b9b9b"/><stop offset="0.5541" stop-color="#9e9e9e"/><stop offset="0.5811" stop-color="#9e9e9e"/><stop offset="0.6081" stop-color="#9e9e9e"/><stop offset="0.6351" stop-color="#9d9d9d"/><stop offset="0.6622" stop-color="#9c9c9c"/><stop offset="0.6892" stop-color="#9a9a9a"/><stop offset="0.7162" stop-color="#959595"/><stop offset="0.7432" stop-color="#979797"/><stop offset="0.7703" stop-color="#979797"/><stop offset="0.7973" stop-color="#979797"/><stop offset="0.8243" stop-color="#979797"/><stop offset="0.8514" stop-color="#979797"/><stop offset="0.8784" stop-color="#949494"/><stop offset="0.9054" stop-color="#8f8f8f"/><stop offset="0.9324" stop-color="#8c8c8c"/><stop offset="0.9595" stop-color="#8c8c8c"/><stop offset="0.9865" stop-color="#8c8c8c"/></linearGradient><linearGradient id="r54" gradientUnits="userSpaceOnUse" x1="38.0" x2="859.4" y1="0" y2="0"><stop offset="0.0135" stop-color="#666666"/><stop offset="0.0405" stop-color="#666666"/><stop offset="0.0676" stop-color="#666666"/><stop offset="0.0946" stop-color="#656565"/><stop offset="0.1216" stop-color="#636363"/><stop offset="0.1486" stop-color="#5e5e5e"/><stop offset="0.1757" stop-color="#656565"/><stop offset="0.2027" stop-color="#797979"/><stop offset="0.2297" stop-color="#929292"/><stop offset="0.2568" stop-color="#989898"/><stop offset="0.2838" stop-color="#a6a6a6"/><stop offset="0.3108" stop-color="#ababab"/><stop offset="0.3378" stop-color="#aaaaaa"/><stop offset="0.3649" stop-color="#a7a7a7"/><stop offset="0.3919" stop-color="#a3a3a3"/><stop offset="0.4189" stop-color="#9f9f9f"/><stop offset="0.4459" stop-color="#9f9f9f"/><stop offset="0.4730" stop-color="#9f9f9f"/><stop offset="0.5000" stop-color="#9f9f9f"/><stop offset="0.5270" stop-color="#a0a0a0"/><stop offset="0.5541" stop-color="#a1a1a1"/><stop offset="0.5811" stop-color="#a1a1a1"/><stop offset="0.6081" stop-color="#a1a1a1"/><stop offset="0.6351" stop-color="#9f9f9f"/><stop offset="0.6622" stop-color="#9c9c9c"/><stop offset="0.6892" stop-color="#9b9b9b"/><stop offset="0.7162" stop-color="#9a9a9a"/><stop offset="0.7432" stop-color="#9b9b9b"/><stop offset="0.7703" stop-color="#9b9b9b"/><stop offset="0.7973" stop-color="#9b9b9b"/><stop offset="0.8243" stop-color="#9b9b9b"/><stop offset="0.8514" stop-color="#9b9b9b"/><stop offset="0.8784" stop-color="#979797"/><stop offset="0.9054" stop-color="#939393"/><stop offset="0.9324" stop-color="#939393"/><stop offset="0.9595" stop-color="#939393"/><stop offset="0.9865" stop-color="#939393"/></linearGradient><linearGradient id="r55" gradientUnits="userSpaceOnUse" x1="38.0" x2="859.4" y1="0" y2="0"><stop offset="0.0135" stop-color="#6b6b6b"/><stop offset="0.0405" stop-color="#6b6b6b"/><stop offset="0.0676" stop-color="#6b6b6b"/><stop offset="0.0946" stop-color="#6a6a6a"/><stop offset="0.1216" stop-color="#686868"/><stop offset="0.1486" stop-color="#676767"/><stop offset="0.1757" stop-color="#6e6e6e"/><stop offset="0.2027" stop-color="#808080"/><stop offset="0.2297" stop-color="#9c9c9c"/><stop offset="0.2568" stop-color="#a3a3a3"/><stop offset="0.2838" stop-color="#b0b0b0"/><stop offset="0.3108" stop-color="#afafaf"/><stop offset="0.3378" stop-color="#aaaaaa"/><stop offset="0.3649" stop-color="#a6a6a6"/><stop offset="0.3919" stop-color="#a4a4a4"/><stop offset="0.4189" stop-color="#a2a2a2"/><stop offset="0.4459" stop-color="#a1a1a1"/><stop offset="0.4730" stop-color="#a0a0a0"/><stop offset="0.5000" stop-color="#a0a0a0"/><stop offset="0.5270" stop-color="#a4a4a4"/><stop offset="0.5541" stop-color="#a4a4a4"/><stop offset="0.5811" stop-color="#a4a4a4"/><stop offset="0.6081" stop-color="#a4a4a4"/><stop offset="0.6351" stop-color="#a0a0a0"/><stop offset="0.6622" stop-color="#9e9e9e"/><stop offset="0.6892" stop-color="#9e9e9e"/><stop offset="0.7162" stop-color="#9e9e9e"/><stop offset="0.7432" stop-color="#9c9c9c"/><stop offset="0.7703" stop-color="#9c9c9c"/><stop offset="0.7973" stop-color="#9c9c9c"/><stop offset="0.8243" stop-color="#9c9c9c"/><stop offset="0.8514" stop-color="#9c9c9c"/><stop offset="0.8784" stop-color="#9a9a9a"/><stop offset="0.9054" stop-color="#979797"/><stop offset="0.9324" stop-color="#989898"/><stop offset="0.9595" stop-color="#989898"/><stop offset="0.9865" stop-color="#989898"/></linearGradient><linearGradient id="r56" gradientUnits="userSpaceOnUse" x1="38.0" x2="859.4" y1="0" y2="0"><stop offset="0.0135" stop-color="#6c6c6c"/><stop offset="0.0405" stop-color="#6c6c6c"/><stop offset="0.0676" stop-color="#6c6c6c"/><stop offset="0.0946" stop-color="#6c6c6c"/><stop offset="0.1216" stop-color="#6b6b6b"/><stop offset="0.1486" stop-color="#757575"/><stop offset="0.1757" stop-color="#7e7e7e"/><stop offset="0.2027" stop-color="#898989"/><stop offset="0.2297" stop-color="#a1a1a1"/><stop offset="0.2568" stop-color="#a9a9a9"/><stop offset="0.2838" stop-color="#b0b0b0"/><stop offset="0.3108" stop-color="#afafaf"/><stop offset="0.3378" stop-color="#ababab"/><stop offset="0.3649" stop-color="#a6a6a6"/><stop offset="0.3919" stop-color="#a7a7a7"/><stop offset="0.4189" stop-color="#a7a7a7"/><stop offset="0.4459" stop-color="#a4a4a4"/><stop offset="0.4730" stop-color="#a2a2a2"/><stop offset="0.5000" stop-color="#a2a2a2"/><stop offset="0.5270" stop-color="#a7a7a7"/><stop offset="0.5541" stop-color="#a7a7a7"/><stop offset="0.5811" stop-color="#a7a7a7"/><stop offset="0.6081" stop-color="#a7a7a7"/><stop offset="0.6351" stop-color="#a2a2a2"/><stop offset="0.6622" stop-color="#a1a1a1"/><stop offset="0.6892" stop-color="#a1a1a1"/><stop offset="0.7162" stop-color="#a1a1a1"/><stop offset="0.7432" stop-color="#9c9c9c"/><stop offset="0.7703" stop-color="#9c9c9c"/><stop offset="0.7973" stop-color="#9c9c9c"/><stop offset="0.8243" stop-color="#9c9c9c"/><stop offset="0.8514" stop-color="#9c9c9c"/><stop offset="0.8784" stop-color="#9b9b9b"/><stop offset="0.9054" stop-color="#9b9b9b"/><stop offset="0.9324" stop-color="#9d9d9d"/><stop offset="0.9595" stop-color="#9d9d9d"/><stop offset="0.9865" stop-color="#9d9d9d"/></linearGradient><linearGradient id="r57" gradientUnits="userSpaceOnUse" x1="38.0" x2="859.4" y1="0" y2="0"><stop offset="0.0135" stop-color="#717171"/><stop offset="0.0405" stop-color="#717171"/><stop offset="0.0676" stop-color="#717171"/><stop offset="0.0946" stop-color="#707070"/><stop offset="0.1216" stop-color="#6f6f6f"/><stop offset="0.1486" stop-color="#808080"/><stop offset="0.1757" stop-color="#8c8c8c"/><stop offset="0.2027" stop-color="#969696"/><stop offset="0.2297" stop-color="#a8a8a8"/><stop offset="0.2568" stop-color="#adadad"/><stop offset="0.2838" stop-color="#b0b0b0"/><stop offset="0.3108" stop-color="#aeaeae"/><stop offset="0.3378" stop-color="#ababab"/><stop offset="0.3649" stop-color="#a7a7a7"/><stop offset="0.3919" stop-color="#a9a9a9"/><stop offset="0.4189" stop-color="#a7a7a7"/><stop offset="0.4459" stop-color="#a7a7a7"/><stop offset="0.4730" stop-color="#a4a4a4"/><stop offset="0.5000" stop-color="#a4a4a4"/><stop offset="0.5270" stop-color="#a9a9a9"/><stop offset="0.5541" stop-color="#ababab"/><stop offset="0.5811" stop-color="#a9a9a9"/><stop offset="0.6081" stop-color="#aaaaaa"/><stop offset="0.6351" stop-color="#a5a5a5"/><stop offset="0.6622" stop-color="#a4a4a4"/><stop offset="0.6892" stop-color="#a4a4a4"/><stop offset="0.7162" stop-color="#a3a3a3"/><stop offset="0.7432" stop-color="#9f9f9f"/><stop offset="0.7703" stop-color="#9f9f9f"/><stop offset="0.7973" stop-color="#9e9e9e"/><stop offset="0.8243" stop-color="#9e9e9e"/><stop offset="0.8514" stop-color="#9f9f9f"/><stop offset="0.8784" stop-color="#9f9f9f"/><stop offset="0.9054" stop-color="#9f9f9f"/><stop offset="0.9324" stop-color="#a2a2a2"/><stop offset="0.9595" stop-color="#a2a2a2"/><stop offset="0.9865" stop-color="#a2a2a2"/></linearGradient><linearGradient id="r58" gradientUnits="userSpaceOnUse" x1="38.0" x2="859.4" y1="0" y2="0"><stop offset="0.0135" stop-color="#797979"/><stop offset="0.0405" stop-color="#797979"/><stop offset="0.0676" stop-color="#797979"/><stop offset="0.0946" stop-color="#767676"/><stop offset="0.1216" stop-color="#747474"/><stop offset="0.1486" stop-color="#888888"/><stop offset="0.1757" stop-color="#999999"/><stop offset="0.2027" stop-color="#a5a5a5"/><stop offset="0.2297" stop-color="#b1b1b1"/><stop offset="0.2568" stop-color="#afafaf"/><stop offset="0.2838" stop-color="#b0b0b0"/><stop offset="0.3108" stop-color="#acacac"/><stop offset="0.3378" stop-color="#aaaaaa"/><stop offset="0.3649" stop-color="#a8a8a8"/><stop offset="0.3919" stop-color="#a9a9a9"/><stop offset="0.4189" stop-color="#a4a4a4"/><stop offset="0.4459" stop-color="#a8a8a8"/><stop offset="0.4730" stop-color="#a7a7a7"/><stop offset="0.5000" stop-color="#a7a7a7"/><stop offset="0.5270" stop-color="#a9a9a9"/><stop offset="0.5541" stop-color="#aeaeae"/><stop offset="0.5811" stop-color="#a9a9a9"/><stop offset="0.6081" stop-color="#ababab"/><stop offset="0.6351" stop-color="#aaaaaa"/><stop offset="0.6622" stop-color="#a7a7a7"/><stop offset="0.6892" stop-color="#a7a7a7"/><stop offset="0.7162" stop-color="#a3a3a3"/><stop offset="0.7432" stop-color="#a6a6a6"/><stop offset="0.7703" stop-color="#a6a6a6"/><stop offset="0.7973" stop-color="#a1a1a1"/><stop offset="0.8243" stop-color="#a1a1a1"/><stop offset="0.8514" stop-color="#a3a3a3"/><stop offset="0.8784" stop-color="#a6a6a6"/><stop offset="0.9054" stop-color="#a6a6a6"/><stop offset="0.9324" stop-color="#a7a7a7"/><stop offset="0.9595" stop-color="#a7a7a7"/><stop offset="0.9865" stop-color="#a7a7a7"/></linearGradient><linearGradient id="r59" gradientUnits="userSpaceOnUse" x1="38.0" x2="859.4" y1="0" y2="0"><stop offset="0.0135" stop-color="#7e7e7e"/><stop offset="0.0405" stop-color="#7e7e7e"/><stop offset="0.0676" stop-color="#7e7e7e"/><stop offset="0.0946" stop-color="#7a7a7a"/><stop offset="0.1216" stop-color="#818181"/><stop offset="0.1486" stop-color="#939393"/><stop offset="0.1757" stop-color="#a3a3a3"/><stop offset="0.2027" stop-color="#afafaf"/><stop offset="0.2297" stop-color="#b6b6b6"/><stop offset="0.2568" stop-color="#b0b0b0"/><stop offset="0.2838" stop-color="#afafaf"/><stop offset="0.3108" stop-color="#acacac"/><stop offset="0.3378" stop-color="#aaaaaa"/><stop offset="0.3649" stop-color="#a9a9a9"/><stop offset="0.3919" stop-color="#a9a9a9"/><stop offset="0.4189" stop-color="#a3a3a3"/><stop offset="0.4459" stop-color="#a9a9a9"/><stop offset="0.4730" stop-color="#a9a9a9"/><stop offset="0.5000" stop-color="#a9a9a9"/><stop offset="0.5270" stop-color="#aaaaaa"/><stop offset="0.5541" stop-color="#afafaf"/><stop offset="0.5811" stop-color="#ababab"/><stop offset="0.6081" stop-color="#adadad"/><stop offset="0.6351" stop-color="#adadad"/><stop offset="0.6622" stop-color="#ababab"/><stop offset="0.6892" stop-color="#ababab"/><stop offset="0.7162" stop-color="#a4a4a4"/><stop offset="0.7432" stop-color="#a9a9a9"/><stop offset="0.7703" stop-color="#ababab"/><stop offset="0.7973" stop-color="#a5a5a5"/><stop offset="0.8243" stop-color="#a6a6a6"/><stop offset="0.8514" stop-color="#a8a8a8"/><stop offset="0.8784" stop-color="#acacac"/><stop offset="0.9054" stop-color="#ababab"/><stop offset="0.9324" stop-color="#ababab"/><stop offset="0.9595" stop-color="#ababab"/><stop offset="0.9865" stop-color="#ababab"/></linearGradient><linearGradient id="r60" gradientUnits="userSpaceOnUse" x1="38.0" x2="859.4" y1="0" y2="0"><stop offset="0.0135" stop-color="#808080"/><stop offset="0.0405" stop-color="#808080"/><stop offset="0.0676" stop-color="#808080"/><stop offset="0.0946" stop-color="#7c7c7c"/><stop offset="0.1216" stop-color="#979797"/><stop offset="0.1486" stop-color="#a2a2a2"/><stop offset="0.1757" stop-color="#a9a9a9"/><stop offset="0.2027" stop-color="#b3b3b3"/><stop offset="0.2297" stop-color="#b6b6b6"/><stop offset="0.2568" stop-color="#b2b2b2"/><stop offset="0.2838" stop-color="#afafaf"/><stop offset="0.3108" stop-color="#aeaeae"/><stop offset="0.3378" stop-color="#ababab"/><stop offset="0.3649" stop-color="#a9a9a9"/><stop offset="0.3919" stop-color="#a9a9a9"/><stop offset="0.4189" stop-color="#a5a5a5"/><stop offset="0.4459" stop-color="#a9a9a9"/><stop offset="0.4730" stop-color="#a9a9a9"/><stop offset="0.5000" stop-color="#a9a9a9"/><stop offset="0.5270" stop-color="#ababab"/><stop offset="0.5541" stop-color="#afafaf"/><stop offset="0.5811" stop-color="#aeaeae"/><stop offset="0.6081" stop-color="#afafaf"/><stop offset="0.6351" stop-color="#afafaf"/><stop offset="0.6622" stop-color="#aeaeae"/><stop offset="0.6892" stop-color="#aeaeae"/><stop offset="0.7162" stop-color="#a7a7a7"/><stop offset="0.7432" stop-color="#a9a9a9"/><stop offset="0.7703" stop-color="#aeaeae"/><stop offset="0.7973" stop-color="#aaaaaa"/><stop offset="0.8243" stop-color="#acacac"/><stop offset="0.8514" stop-color="#adadad"/><stop offset="0.8784" stop-color="#b2b2b2"/><stop offset="0.9054" stop-color="#b0b0b0"/><stop offset="0.9324" stop-color="#aeaeae"/><stop offset="0.9595" stop-color="#aeaeae"/><stop offset="0.9865" stop-color="#aeaeae"/></linearGradient><linearGradient id="r61" gradientUnits="userSpaceOnUse" x1="38.0" x2="859.4" y1="0" y2="0"><stop offset="0.0135" stop-color="#828282"/><stop offset="0.0405" stop-color="#828282"/><stop offset="0.0676" stop-color="#828282"/><stop offset="0.0946" stop-color="#858585"/><stop offset="0.1216" stop-color="#a6a6a6"/><stop offset="0.1486" stop-color="#acacac"/><stop offset="0.1757" stop-color="#afafaf"/><stop offset="0.2027" stop-color="#b7b7b7"/><stop offset="0.2297" stop-color="#b6b6b6"/><stop offset="0.2568" stop-color="#b3b3b3"/><stop offset="0.2838" stop-color="#b0b0b0"/><stop offset="0.3108" stop-color="#afafaf"/><stop offset="0.3378" stop-color="#adadad"/><stop offset="0.3649" stop-color="#aaaaaa"/><stop offset="0.3919" stop-color="#ababab"/><stop offset="0.4189" stop-color="#a7a7a7"/><stop offset="0.4459" stop-color="#aaaaaa"/><stop offset="0.4730" stop-color="#ababab"/><stop offset="0.5000" stop-color="#ababab"/><stop offset="0.5270" stop-color="#adadad"/><stop offset="0.5541" stop-color="#afafaf"/><stop offset="0.5811" stop-color="#afafaf"/><stop offset="0.6081" stop-color="#afafaf"/><stop offset="0.6351" stop-color="#b0b0b0"/><stop offset="0.6622" stop-color="#afafaf"/><stop offset="0.6892" stop-color="#afafaf"/><stop offset="0.7162" stop-color="#ababab"/><stop offset="0.7432" stop-color="#ababab"/><stop offset="0.7703" stop-color="#afafaf"/><stop offset="0.7973" stop-color="#adadad"/><stop offset="0.8243" stop-color="#b0b0b0"/><stop offset="0.8514" stop-color="#b1b1b1"/><stop offset="0.8784" stop-color="#b6b6b6"/><stop offset="0.9054" stop-color="#b3b3b3"/><stop offset="0.9324" stop-color="#afafaf"/><stop offset="0.9595" stop-color="#afafaf"/><stop offset="0.9865" stop-color="#afafaf"/></linearGradient><linearGradient id="r62" gradientUnits="userSpaceOnUse" x1="38.0" x2="859.4" y1="0" y2="0"><stop offset="0.0135" stop-color="#858585"/><stop offset="0.0405" stop-color="#858585"/><stop offset="0.0676" stop-color="#858585"/><stop offset="0.0946" stop-color="#979797"/><stop offset="0.1216" stop-color="#acacac"/><stop offset="0.1486" stop-color="#b2b2b2"/><stop offset="0.1757" stop-color="#b3b3b3"/><stop offset="0.2027" stop-color="#bababa"/><stop offset="0.2297" stop-color="#b7b7b7"/><stop offset="0.2568" stop-color="#b5b5b5"/><stop offset="0.2838" stop-color="#b3b3b3"/><stop offset="0.3108" stop-color="#afafaf"/><stop offset="0.3378" stop-color="#afafaf"/><stop offset="0.3649" stop-color="#adadad"/><stop offset="0.3919" stop-color="#aeaeae"/><stop offset="0.4189" stop-color="#ababab"/><stop offset="0.4459" stop-color="#ababab"/><stop offset="0.4730" stop-color="#aeaeae"/><stop offset="0.5000" stop-color="#aeaeae"/><stop offset="0.5270" stop-color="#afafaf"/><stop offset="0.5541" stop-color="#afafaf"/><stop offset="0.5811" stop-color="#afafaf"/><stop offset="0.6081" stop-color="#afafaf"/><stop offset="0.6351" stop-color="#b2b2b2"/><stop offset="0.6622" stop-color="#afafaf"/><stop offset="0.6892" stop-color="#afafaf"/><stop offset="0.7162" stop-color="#aeaeae"/><stop offset="0.7432" stop-color="#aeaeae"/><stop offset="0.7703" stop-color="#afafaf"/><stop offset="0.7973" stop-color="#afafaf"/><stop offset="0.8243" stop-color="#b2b2b2"/><stop offset="0.8514" stop-color="#b4b4b4"/><stop offset="0.8784" stop-color="#b8b8b8"/><stop offset="0.9054" stop-color="#b5b5b5"/><stop offset="0.9324" stop-color="#afafaf"/><stop offset="0.9595" stop-color="#afafaf"/><stop offset="0.9865" stop-color="#afafaf"/></linearGradient><linearGradient id="r63" gradientUnits="userSpaceOnUse" x1="38.0" x2="859.4" y1="0" y2="0"><stop offset="0.0135" stop-color="#8f8f8f"/><stop offset="0.0405" stop-color="#8f8f8f"/><stop offset="0.0676" stop-color="#8f8f8f"/><stop offset="0.0946" stop-color="#a4a4a4"/><stop offset="0.1216" stop-color="#b2b2b2"/><stop offset="0.1486" stop-color="#b7b7b7"/><stop offset="0.1757" stop-color="#b9b9b9"/><stop offset="0.2027" stop-color="#bcbcbc"/><stop offset="0.2297" stop-color="#b8b8b8"/><stop offset="0.2568" stop-color="#b6b6b6"/><stop offset="0.2838" stop-color="#b4b4b4"/><stop offset="0.3108" stop-color="#b1b1b1"/><stop offset="0.3378" stop-color="#b1b1b1"/><stop offset="0.3649" stop-color="#b0b0b0"/><stop offset="0.3919" stop-color="#b0b0b0"/><stop offset="0.4189" stop-color="#aeaeae"/><stop offset="0.4459" stop-color="#aeaeae"/><stop offset="0.4730" stop-color="#b1b1b1"/><stop offset="0.5000" stop-color="#b1b1b1"/><stop offset="0.5270" stop-color="#b1b1b1"/><stop offset="0.5541" stop-color="#b1b1b1"/><stop offset="0.5811" stop-color="#b1b1b1"/><stop offset="0.6081" stop-color="#b1b1b1"/><stop offset="0.6351" stop-color="#b2b2b2"/><stop offset="0.6622" stop-color="#b0b0b0"/><stop offset="0.6892" stop-color="#b0b0b0"/><stop offset="0.7162" stop-color="#b1b1b1"/><stop offset="0.7432" stop-color="#b1b1b1"/><stop offset="0.7703" stop-color="#b1b1b1"/><stop offset="0.7973" stop-color="#b1b1b1"/><stop offset="0.8243" stop-color="#b3b3b3"/><stop offset="0.8514" stop-color="#b7b7b7"/><stop offset="0.8784" stop-color="#bababa"/><stop offset="0.9054" stop-color="#b7b7b7"/><stop offset="0.9324" stop-color="#b1b1b1"/><stop offset="0.9595" stop-color="#b1b1b1"/><stop offset="0.9865" stop-color="#b1b1b1"/></linearGradient><linearGradient id="r64" gradientUnits="userSpaceOnUse" x1="38.0" x2="859.4" y1="0" y2="0"><stop offset="0.0135" stop-color="#a0a0a0"/><stop offset="0.0405" stop-color="#a0a0a0"/><stop offset="0.0676" stop-color="#a0a0a0"/><stop offset="0.0946" stop-color="#aeaeae"/><stop offset="0.1216" stop-color="#b6b6b6"/><stop offset="0.1486" stop-color="#bababa"/><stop offset="0.1757" stop-color="#bfbfbf"/><stop offset="0.2027" stop-color="#bcbcbc"/><stop offset="0.2297" stop-color="#b9b9b9"/><stop offset="0.2568" stop-color="#b6b6b6"/><stop offset="0.2838" stop-color="#b5b5b5"/><stop offset="0.3108" stop-color="#b4b4b4"/><stop offset="0.3378" stop-color="#b4b4b4"/><stop offset="0.3649" stop-color="#b4b4b4"/><stop offset="0.3919" stop-color="#b2b2b2"/><stop offset="0.4189" stop-color="#b1b1b1"/><stop offset="0.4459" stop-color="#b1b1b1"/><stop offset="0.4730" stop-color="#b4b4b4"/><stop offset="0.5000" stop-color="#b4b4b4"/><stop offset="0.5270" stop-color="#b4b4b4"/><stop offset="0.5541" stop-color="#b4b4b4"/><stop offset="0.5811" stop-color="#b4b4b4"/><stop offset="0.6081" stop-color="#b4b4b4"/><stop offset="0.6351" stop-color="#b2b2b2"/><stop offset="0.6622" stop-color="#b2b2b2"/><stop offset="0.6892" stop-color="#b2b2b2"/><stop offset="0.7162" stop-color="#b4b4b4"/><stop offset="0.7432" stop-color="#b4b4b4"/><stop offset="0.7703" stop-color="#b4b4b4"/><stop offset="0.7973" stop-color="#b4b4b4"/><stop offset="0.8243" stop-color="#b5b5b5"/><stop offset="0.8514" stop-color="#bababa"/><stop offset="0.8784" stop-color="#bbbbbb"/><stop offset="0.9054" stop-color="#bababa"/><stop offset="0.9324" stop-color="#b4b4b4"/><stop offset="0.9595" stop-color="#b4b4b4"/><stop offset="0.9865" stop-color="#b4b4b4"/></linearGradient><linearGradient id="r65" gradientUnits="userSpaceOnUse" x1="38.0" x2="859.4" y1="0" y2="0"><stop offset="0.0135" stop-color="#acacac"/><stop offset="0.0405" stop-color="#acacac"/><stop offset="0.0676" stop-color="#acacac"/><stop offset="0.0946" stop-color="#b5b5b5"/><stop offset="0.1216" stop-color="#bababa"/><stop offset="0.1486" stop-color="#bebebe"/><stop offset="0.1757" stop-color="#c2c2c2"/><stop offset="0.2027" stop-color="#bdbdbd"/><stop offset="0.2297" stop-color="#bababa"/><stop offset="0.2568" stop-color="#b7b7b7"/><stop offset="0.2838" stop-color="#b6b6b6"/><stop offset="0.3108" stop-color="#b6b6b6"/><stop offset="0.3378" stop-color="#b6b6b6"/><stop offset="0.3649" stop-color="#b6b6b6"/><stop offset="0.3919" stop-color="#b3b3b3"/><stop offset="0.4189" stop-color="#b3b3b3"/><stop offset="0.4459" stop-color="#b4b4b4"/><stop offset="0.4730" stop-color="#b7b7b7"/><stop offset="0.5000" stop-color="#b7b7b7"/><stop offset="0.5270" stop-color="#b7b7b7"/><stop offset="0.5541" stop-color="#b7b7b7"/><stop offset="0.5811" stop-color="#b7b7b7"/><stop offset="0.6081" stop-color="#b6b6b6"/><stop offset="0.6351" stop-color="#b3b3b3"/><stop offset="0.6622" stop-color="#b3b3b3"/><stop offset="0.6892" stop-color="#b4b4b4"/><stop offset="0.7162" stop-color="#b7b7b7"/><stop offset="0.7432" stop-color="#b8b8b8"/><stop offset="0.7703" stop-color="#b7b7b7"/><stop offset="0.7973" stop-color="#b7b7b7"/><stop offset="0.8243" stop-color="#b7b7b7"/><stop offset="0.8514" stop-color="#bcbcbc"/><stop offset="0.8784" stop-color="#bcbcbc"/><stop offset="0.9054" stop-color="#bcbcbc"/><stop offset="0.9324" stop-color="#b6b6b6"/><stop offset="0.9595" stop-color="#b6b6b6"/><stop offset="0.9865" stop-color="#b6b6b6"/></linearGradient><linearGradient id="r66" gradientUnits="userSpaceOnUse" x1="38.0" x2="859.4" y1="0" y2="0"><stop offset="0.0135" stop-color="#b2b2b2"/><stop offset="0.0405" stop-color="#b2b2b2"/><stop offset="0.0676" stop-color="#b2b2b2"/><stop offset="0.0946" stop-color="#bababa"/><stop offset="0.1216" stop-color="#bbbbbb"/><stop offset="0.1486" stop-color="#c1c1c1"/><stop offset="0.1757" stop-color="#c2c2c2"/><stop offset="0.2027" stop-color="#bebebe"/><stop offset="0.2297" stop-color="#bbbbbb"/><stop offset="0.2568" stop-color="#bababa"/><stop offset="0.2838" stop-color="#b8b8b8"/><stop offset="0.3108" stop-color="#b6b6b6"/><stop offset="0.3378" stop-color="#b6b6b6"/><stop offset="0.3649" stop-color="#b8b8b8"/><stop offset="0.3919" stop-color="#b5b5b5"/><stop offset="0.4189" stop-color="#b5b5b5"/><stop offset="0.4459" stop-color="#b7b7b7"/><stop offset="0.4730" stop-color="#bababa"/><stop offset="0.5000" stop-color="#bababa"/><stop offset="0.5270" stop-color="#bababa"/><stop offset="0.5541" stop-color="#bababa"/><stop offset="0.5811" stop-color="#bababa"/><stop offset="0.6081" stop-color="#b8b8b8"/><stop offset="0.6351" stop-color="#b5b5b5"/><stop offset="0.6622" stop-color="#b5b5b5"/><stop offset="0.6892" stop-color="#b7b7b7"/><stop offset="0.7162" stop-color="#bababa"/><stop offset="0.7432" stop-color="#bdbdbd"/><stop offset="0.7703" stop-color="#bababa"/><stop offset="0.7973" stop-color="#bababa"/><stop offset="0.8243" stop-color="#bababa"/><stop offset="0.8514" stop-color="#bcbcbc"/><stop offset="0.8784" stop-color="#bcbcbc"/><stop offset="0.9054" stop-color="#bcbcbc"/><stop offset="0.9324" stop-color="#b8b8b8"/><stop offset="0.9595" stop-color="#b8b8b8"/><stop offset="0.9865" stop-color="#b8b8b8"/></linearGradient><linearGradient id="r67" gradientUnits="userSpaceOnUse" x1="38.0" x2="859.4" y1="0" y2="0"><stop offset="0.0135" stop-color="#b7b7b7"/><stop offset="0.0405" stop-color="#b7b7b7"/><stop offset="0.0676" stop-color="#b7b7b7"/><stop offset="0.0946" stop-color="#bcbcbc"/><stop offset="0.1216" stop-color="#bdbdbd"/><stop offset="0.1486" stop-color="#c2c2c2"/><stop offset="0.1757" stop-color="#c2c2c2"/><stop offset="0.2027" stop-color="#bfbfbf"/><stop offset="0.2297" stop-color="#bcbcbc"/><stop offset="0.2568" stop-color="#bcbcbc"/><stop offset="0.2838" stop-color="#bababa"/><stop offset="0.3108" stop-color="#b7b7b7"/><stop offset="0.3378" stop-color="#b6b6b6"/><stop offset="0.3649" stop-color="#bababa"/><stop offset="0.3919" stop-color="#b7b7b7"/><stop offset="0.4189" stop-color="#b7b7b7"/><stop offset="0.4459" stop-color="#bababa"/><stop offset="0.4730" stop-color="#bdbdbd"/><stop offset="0.5000" stop-color="#bdbdbd"/><stop offset="0.5270" stop-color="#bdbdbd"/><stop offset="0.5541" stop-color="#bcbcbc"/><stop offset="0.5811" stop-color="#bcbcbc"/><stop offset="0.6081" stop-color="#bababa"/><stop offset="0.6351" stop-color="#b7b7b7"/><stop offset="0.6622" stop-color="#b6b6b6"/><stop offset="0.6892" stop-color="#bababa"/><stop offset="0.7162" stop-color="#bebebe"/><stop offset="0.7432" stop-color="#c0c0c0"/><stop offset="0.7703" stop-color="#bdbdbd"/><stop offset="0.7973" stop-color="#bdbdbd"/><stop offset="0.8243" stop-color="#bcbcbc"/><stop offset="0.8514" stop-color="#bcbcbc"/><stop offset="0.8784" stop-color="#bcbcbc"/><stop offset="0.9054" stop-color="#bbbbbb"/><stop offset="0.9324" stop-color="#b9b9b9"/><stop offset="0.9595" stop-color="#b9b9b9"/><stop offset="0.9865" stop-color="#b9b9b9"/></linearGradient><linearGradient id="r68" gradientUnits="userSpaceOnUse" x1="38.0" x2="859.4" y1="0" y2="0"><stop offset="0.0135" stop-color="#bababa"/><stop offset="0.0405" stop-color="#bababa"/><stop offset="0.0676" stop-color="#bababa"/><stop offset="0.0946" stop-color="#bcbcbc"/><stop offset="0.1216" stop-color="#bebebe"/><stop offset="0.1486" stop-color="#c2c2c2"/><stop offset="0.1757" stop-color="#c2c2c2"/><stop offset="0.2027" stop-color="#bfbfbf"/><stop offset="0.2297" stop-color="#bcbcbc"/><stop offset="0.2568" stop-color="#bcbcbc"/><stop offset="0.2838" stop-color="#bbbbbb"/><stop offset="0.3108" stop-color="#bababa"/><stop offset="0.3378" stop-color="#b8b8b8"/><stop offset="0.3649" stop-color="#bbbbbb"/><stop offset="0.3919" stop-color="#bababa"/><stop offset="0.4189" stop-color="#bababa"/><stop offset="0.4459" stop-color="#bebebe"/><stop offset="0.4730" stop-color="#bebebe"/><stop offset="0.5000" stop-color="#bebebe"/><stop offset="0.5270" stop-color="#bebebe"/><stop offset="0.5541" stop-color="#bcbcbc"/><stop offset="0.5811" stop-color="#bcbcbc"/><stop offset="0.6081" stop-color="#bbbbbb"/><stop offset="0.6351" stop-color="#bababa"/><stop offset="0.6622" stop-color="#b8b8b8"/><stop offset="0.6892" stop-color="#bbbbbb"/><stop offset="0.7162" stop-color="#c1c1c1"/><stop offset="0.7432" stop-color="#c2c2c2"/><stop offset="0.7703" stop-color="#bebebe"/><stop offset="0.7973" stop-color="#bebebe"/><stop offset="0.8243" stop-color="#bcbcbc"/><stop offset="0.8514" stop-color="#bcbcbc"/><stop offset="0.8784" stop-color="#bcbcbc"/><stop offset="0.9054" stop-color="#bababa"/><stop offset="0.9324" stop-color="#b9b9b9"/><stop offset="0.9595" stop-color="#b9b9b9"/><stop offset="0.9865" stop-color="#b9b9b9"/></linearGradient><linearGradient id="r69" gradientUnits="userSpaceOnUse" x1="38.0" x2="859.4" y1="0" y2="0"><stop offset="0.0135" stop-color="#bcbcbc"/><stop offset="0.0405" stop-color="#bcbcbc"/><stop offset="0.0676" stop-color="#bcbcbc"/><stop offset="0.0946" stop-color="#bcbcbc"/><stop offset="0.1216" stop-color="#bfbfbf"/><stop offset="0.1486" stop-color="#c2c2c2"/><stop offset="0.1757" stop-color="#c2c2c2"/><stop offset="0.2027" stop-color="#bfbfbf"/><stop offset="0.2297" stop-color="#bcbcbc"/><stop offset="0.2568" stop-color="#bcbcbc"/><stop offset="0.2838" stop-color="#bcbcbc"/><stop offset="0.3108" stop-color="#bcbcbc"/><stop offset="0.3378" stop-color="#b9b9b9"/><stop offset="0.3649" stop-color="#bcbcbc"/><stop offset="0.3919" stop-color="#bcbcbc"/><stop offset="0.4189" stop-color="#bcbcbc"/><stop offset="0.4459" stop-color="#bfbfbf"/><stop offset="0.4730" stop-color="#bfbfbf"/><stop offset="0.5000" stop-color="#bfbfbf"/><stop offset="0.5270" stop-color="#bfbfbf"/><stop offset="0.5541" stop-color="#bcbcbc"/><stop offset="0.5811" stop-color="#bcbcbc"/><stop offset="0.6081" stop-color="#bcbcbc"/><stop offset="0.6351" stop-color="#bcbcbc"/><stop offset="0.6622" stop-color="#b9b9b9"/><stop offset="0.6892" stop-color="#bcbcbc"/><stop offset="0.7162" stop-color="#c2c2c2"/><stop offset="0.7432" stop-color="#c2c2c2"/><stop offset="0.7703" stop-color="#bfbfbf"/><stop offset="0.7973" stop-color="#bfbfbf"/><stop offset="0.8243" stop-color="#bcbcbc"/><stop offset="0.8514" stop-color="#bcbcbc"/><stop offset="0.8784" stop-color="#bcbcbc"/><stop offset="0.9054" stop-color="#b9b9b9"/><stop offset="0.9324" stop-color="#b9b9b9"/><stop offset="0.9595" stop-color="#b9b9b9"/><stop offset="0.9865" stop-color="#b9b9b9"/></linearGradient><linearGradient id="r70" gradientUnits="userSpaceOnUse" x1="38.0" x2="859.4" y1="0" y2="0"><stop offset="0.0135" stop-color="#bcbcbc"/><stop offset="0.0405" stop-color="#bcbcbc"/><stop offset="0.0676" stop-color="#bcbcbc"/><stop offset="0.0946" stop-color="#bcbcbc"/><stop offset="0.1216" stop-color="#bfbfbf"/><stop offset="0.1486" stop-color="#c2c2c2"/><stop offset="0.1757" stop-color="#c2c2c2"/><stop offset="0.2027" stop-color="#bfbfbf"/><stop offset="0.2297" stop-color="#bcbcbc"/><stop offset="0.2568" stop-color="#bcbcbc"/><stop offset="0.2838" stop-color="#bcbcbc"/><stop offset="0.3108" stop-color="#bcbcbc"/><stop offset="0.3378" stop-color="#b9b9b9"/><stop offset="0.3649" stop-color="#bcbcbc"/><stop offset="0.3919" stop-color="#bcbcbc"/><stop offset="0.4189" stop-color="#bcbcbc"/><stop offset="0.4459" stop-color="#bfbfbf"/><stop offset="0.4730" stop-color="#bfbfbf"/><stop offset="0.5000" stop-color="#bfbfbf"/><stop offset="0.5270" stop-color="#bfbfbf"/><stop offset="0.5541" stop-color="#bcbcbc"/><stop offset="0.5811" stop-color="#bcbcbc"/><stop offset="0.6081" stop-color="#bcbcbc"/><stop offset="0.6351" stop-color="#bcbcbc"/><stop offset="0.6622" stop-color="#b9b9b9"/><stop offset="0.6892" stop-color="#bcbcbc"/><stop offset="0.7162" stop-color="#c2c2c2"/><stop offset="0.7432" stop-color="#c2c2c2"/><stop offset="0.7703" stop-color="#bfbfbf"/><stop offset="0.7973" stop-color="#bfbfbf"/><stop offset="0.8243" stop-color="#bcbcbc"/><stop offset="0.8514" stop-color="#bcbcbc"/><stop offset="0.8784" stop-color="#bcbcbc"/><stop offset="0.9054" stop-color="#b9b9b9"/><stop offset="0.9324" stop-color="#b9b9b9"/><stop offset="0.9595" stop-color="#b9b9b9"/><stop offset="0.9865" stop-color="#b9b9b9"/></linearGradient><linearGradient id="r71" gradientUnits="userSpaceOnUse" x1="38.0" x2="859.4" y1="0" y2="0"><stop offset="0.0135" stop-color="#bcbcbc"/><stop offset="0.0405" stop-color="#bcbcbc"/><stop offset="0.0676" stop-color="#bcbcbc"/><stop offset="0.0946" stop-color="#bcbcbc"/><stop offset="0.1216" stop-color="#bfbfbf"/><stop offset="0.1486" stop-color="#c2c2c2"/><stop offset="0.1757" stop-color="#c2c2c2"/><stop offset="0.2027" stop-color="#bfbfbf"/><stop offset="0.2297" stop-color="#bcbcbc"/><stop offset="0.2568" stop-color="#bcbcbc"/><stop offset="0.2838" stop-color="#bcbcbc"/><stop offset="0.3108" stop-color="#bcbcbc"/><stop offset="0.3378" stop-color="#b9b9b9"/><stop offset="0.3649" stop-color="#bcbcbc"/><stop offset="0.3919" stop-color="#bcbcbc"/><stop offset="0.4189" stop-color="#bcbcbc"/><stop offset="0.4459" stop-color="#bfbfbf"/><stop offset="0.4730" stop-color="#bfbfbf"/><stop offset="0.5000" stop-color="#bfbfbf"/><stop offset="0.5270" stop-color="#bfbfbf"/><stop offset="0.5541" stop-color="#bcbcbc"/><stop offset="0.5811" stop-color="#bcbcbc"/><stop offset="0.6081" stop-color="#bcbcbc"/><stop offset="0.6351" stop-color="#bcbcbc"/><stop offset="0.6622" stop-color="#b9b9b9"/><stop offset="0.6892" stop-color="#bcbcbc"/><stop offset="0.7162" stop-color="#c2c2c2"/><stop offset="0.7432" stop-color="#c2c2c2"/><stop offset="0.7703" stop-color="#bfbfbf"/><stop offset="0.7973" stop-color="#bfbfbf"/><stop offset="0.8243" stop-color="#bcbcbc"/><stop offset="0.8514" stop-color="#bcbcbc"/><stop offset="0.8784" stop-color="#bcbcbc"/><stop offset="0.9054" stop-color="#b9b9b9"/><stop offset="0.9324" stop-color="#b9b9b9"/><stop offset="0.9595" stop-color="#b9b9b9"/><stop offset="0.9865" stop-color="#b9b9b9"/></linearGradient><linearGradient id="r72" gradientUnits="userSpaceOnUse" x1="38.0" x2="859.4" y1="0" y2="0"><stop offset="0.0135" stop-color="#bcbcbc"/><stop offset="0.0405" stop-color="#bcbcbc"/><stop offset="0.0676" stop-color="#bcbcbc"/><stop offset="0.0946" stop-color="#bcbcbc"/><stop offset="0.1216" stop-color="#bfbfbf"/><stop offset="0.1486" stop-color="#c2c2c2"/><stop offset="0.1757" stop-color="#c2c2c2"/><stop offset="0.2027" stop-color="#bfbfbf"/><stop offset="0.2297" stop-color="#bcbcbc"/><stop offset="0.2568" stop-color="#bcbcbc"/><stop offset="0.2838" stop-color="#bcbcbc"/><stop offset="0.3108" stop-color="#bcbcbc"/><stop offset="0.3378" stop-color="#b9b9b9"/><stop offset="0.3649" stop-color="#bcbcbc"/><stop offset="0.3919" stop-color="#bcbcbc"/><stop offset="0.4189" stop-color="#bcbcbc"/><stop offset="0.4459" stop-color="#bfbfbf"/><stop offset="0.4730" stop-color="#bfbfbf"/><stop offset="0.5000" stop-color="#bfbfbf"/><stop offset="0.5270" stop-color="#bfbfbf"/><stop offset="0.5541" stop-color="#bcbcbc"/><stop offset="0.5811" stop-color="#bcbcbc"/><stop offset="0.6081" stop-color="#bcbcbc"/><stop offset="0.6351" stop-color="#bcbcbc"/><stop offset="0.6622" stop-color="#b9b9b9"/><stop offset="0.6892" stop-color="#bcbcbc"/><stop offset="0.7162" stop-color="#c2c2c2"/><stop offset="0.7432" stop-color="#c2c2c2"/><stop offset="0.7703" stop-color="#bfbfbf"/><stop offset="0.7973" stop-color="#bfbfbf"/><stop offset="0.8243" stop-color="#bcbcbc"/><stop offset="0.8514" stop-color="#bcbcbc"/><stop offset="0.8784" stop-color="#bcbcbc"/><stop offset="0.9054" stop-color="#b9b9b9"/><stop offset="0.9324" stop-color="#b9b9b9"/><stop offset="0.9595" stop-color="#b9b9b9"/><stop offset="0.9865" stop-color="#b9b9b9"/></linearGradient><linearGradient id="r73" gradientUnits="userSpaceOnUse" x1="38.0" x2="859.4" y1="0" y2="0"><stop offset="0.0135" stop-color="#bcbcbc"/><stop offset="0.0405" stop-color="#bcbcbc"/><stop offset="0.0676" stop-color="#bcbcbc"/><stop offset="0.0946" stop-color="#bcbcbc"/><stop offset="0.1216" stop-color="#bfbfbf"/><stop offset="0.1486" stop-color="#c2c2c2"/><stop offset="0.1757" stop-color="#c2c2c2"/><stop offset="0.2027" stop-color="#bfbfbf"/><stop offset="0.2297" stop-color="#bcbcbc"/><stop offset="0.2568" stop-color="#bcbcbc"/><stop offset="0.2838" stop-color="#bcbcbc"/><stop offset="0.3108" stop-color="#bcbcbc"/><stop offset="0.3378" stop-color="#b9b9b9"/><stop offset="0.3649" stop-color="#bcbcbc"/><stop offset="0.3919" stop-color="#bcbcbc"/><stop offset="0.4189" stop-color="#bcbcbc"/><stop offset="0.4459" stop-color="#bfbfbf"/><stop offset="0.4730" stop-color="#bfbfbf"/><stop offset="0.5000" stop-color="#bfbfbf"/><stop offset="0.5270" stop-color="#bfbfbf"/><stop offset="0.5541" stop-color="#bcbcbc"/><stop offset="0.5811" stop-color="#bcbcbc"/><stop offset="0.6081" stop-color="#bcbcbc"/><stop offset="0.6351" stop-color="#bcbcbc"/><stop offset="0.6622" stop-color="#b9b9b9"/><stop offset="0.6892" stop-color="#bcbcbc"/><stop offset="0.7162" stop-color="#c2c2c2"/><stop offset="0.7432" stop-color="#c2c2c2"/><stop offset="0.7703" stop-color="#bfbfbf"/><stop offset="0.7973" stop-color="#bfbfbf"/><stop offset="0.8243" stop-color="#bcbcbc"/><stop offset="0.8514" stop-color="#bcbcbc"/><stop offset="0.8784" stop-color="#bcbcbc"/><stop offset="0.9054" stop-color="#b9b9b9"/><stop offset="0.9324" stop-color="#b9b9b9"/><stop offset="0.9595" stop-color="#b9b9b9"/><stop offset="0.9865" stop-color="#b9b9b9"/></linearGradient>
<filter id="sst" filterUnits="userSpaceOnUse" x="30" y="15" width="840" height="840" color-interpolation-filters="sRGB">
<feGaussianBlur in="SourceGraphic" stdDeviation="3 7.5" result="b"/>
<feTurbulence type="fractalNoise" baseFrequency="0.04" numOctaves="3" seed="7" result="n"/><feColorMatrix in="n" type="matrix" values="1 0 0 0 0 1 0 0 0 0 1 0 0 0 0 0 0 0 0 1" result="n1"/><feComposite in="b" in2="n1" operator="arithmetic" k1="0" k2="1" k3="0.07" k4="-0.035" result="c"/>
<feComponentTransfer in="c">
<feFuncR type="discrete" tableValues="0.471 0.408 0.345 0.314 0.251 0.188 0.125 0.063 0.063 0.125 0.157 0.220 0.251 0.314 0.376 0.439 0.502 0.502 0.502 0.502 0.533 0.659 0.816 0.973 1.000 1.000 1.000 1.000 1.000 1.000 1.000 0.996 0.941 0.890 0.831 0.773 0.698 0.647 0.584 0.502"/>
<feFuncG type="discrete" tableValues="0.000 0.063 0.125 0.188 0.251 0.314 0.408 0.471 0.565 0.596 0.627 0.690 0.753 0.816 0.910 0.973 1.000 1.000 0.973 0.973 1.000 1.000 1.000 1.000 0.941 0.863 0.800 0.753 0.690 0.627 0.565 0.502 0.439 0.376 0.314 0.251 0.180 0.125 0.063 0.000"/>
<feFuncB type="discrete" tableValues="0.502 0.565 0.627 0.690 0.753 0.816 0.878 0.941 1.000 1.000 1.000 1.000 1.000 1.000 1.000 1.000 0.941 0.816 0.627 0.502 0.502 0.502 0.502 0.502 0.439 0.408 0.345 0.314 0.251 0.157 0.094 0.000 0.000 0.000 0.000 0.000 0.000 0.000 0.000 0.000"/>
<feFuncA type="linear" slope="0" intercept="1"/>
</feComponentTransfer>
</filter>
<clipPath id="plot"><rect x="82.4" y="67.4" width="732.7" height="732.6"/></clipPath>
</defs>
<g clip-path="url(#plot)">
<g filter="url(#sst)"><rect x="38.0" y="23.0" width="821.4" height="11.5" fill="url(#r0)"/><rect x="38.0" y="34.1" width="821.4" height="11.5" fill="url(#r1)"/><rect x="38.0" y="45.2" width="821.4" height="11.5" fill="url(#r2)"/><rect x="38.0" y="56.3" width="821.4" height="11.5" fill="url(#r3)"/><rect x="38.0" y="67.4" width="821.4" height="11.5" fill="url(#r4)"/><rect x="38.0" y="78.5" width="821.4" height="11.5" fill="url(#r5)"/><rect x="38.0" y="89.6" width="821.4" height="11.5" fill="url(#r6)"/><rect x="38.0" y="100.7" width="821.4" height="11.5" fill="url(#r7)"/><rect x="38.0" y="111.8" width="821.4" height="11.5" fill="url(#r8)"/><rect x="38.0" y="122.9" width="821.4" height="11.5" fill="url(#r9)"/><rect x="38.0" y="134.0" width="821.4" height="11.5" fill="url(#r10)"/><rect x="38.0" y="145.1" width="821.4" height="11.5" fill="url(#r11)"/><rect x="38.0" y="156.2" width="821.4" height="11.5" fill="url(#r12)"/><rect x="38.0" y="167.3" width="821.4" height="11.5" fill="url(#r13)"/><rect x="38.0" y="178.4" width="821.4" height="11.5" fill="url(#r14)"/><rect x="38.0" y="189.5" width="821.4" height="11.5" fill="url(#r15)"/><rect x="38.0" y="200.6" width="821.4" height="11.5" fill="url(#r16)"/><rect x="38.0" y="211.7" width="821.4" height="11.5" fill="url(#r17)"/><rect x="38.0" y="222.8" width="821.4" height="11.5" fill="url(#r18)"/><rect x="38.0" y="233.9" width="821.4" height="11.5" fill="url(#r19)"/><rect x="38.0" y="245.0" width="821.4" height="11.5" fill="url(#r20)"/><rect x="38.0" y="256.1" width="821.4" height="11.5" fill="url(#r21)"/><rect x="38.0" y="267.2" width="821.4" height="11.5" fill="url(#r22)"/><rect x="38.0" y="278.3" width="821.4" height="11.5" fill="url(#r23)"/><rect x="38.0" y="289.4" width="821.4" height="11.5" fill="url(#r24)"/><rect x="38.0" y="300.5" width="821.4" height="11.5" fill="url(#r25)"/><rect x="38.0" y="311.6" width="821.4" height="11.5" fill="url(#r26)"/><rect x="38.0" y="322.7" width="821.4" height="11.5" fill="url(#r27)"/><rect x="38.0" y="333.8" width="821.4" height="11.5" fill="url(#r28)"/><rect x="38.0" y="344.9" width="821.4" height="11.5" fill="url(#r29)"/><rect x="38.0" y="356.0" width="821.4" height="11.5" fill="url(#r30)"/><rect x="38.0" y="367.1" width="821.4" height="11.5" fill="url(#r31)"/><rect x="38.0" y="378.2" width="821.4" height="11.5" fill="url(#r32)"/><rect x="38.0" y="389.3" width="821.4" height="11.5" fill="url(#r33)"/><rect x="38.0" y="400.4" width="821.4" height="11.5" fill="url(#r34)"/><rect x="38.0" y="411.5" width="821.4" height="11.5" fill="url(#r35)"/><rect x="38.0" y="422.6" width="821.4" height="11.5" fill="url(#r36)"/><rect x="38.0" y="433.7" width="821.4" height="11.5" fill="url(#r37)"/><rect x="38.0" y="444.8" width="821.4" height="11.5" fill="url(#r38)"/><rect x="38.0" y="455.9" width="821.4" height="11.5" fill="url(#r39)"/><rect x="38.0" y="467.0" width="821.4" height="11.5" fill="url(#r40)"/><rect x="38.0" y="478.1" width="821.4" height="11.5" fill="url(#r41)"/><rect x="38.0" y="489.2" width="821.4" height="11.5" fill="url(#r42)"/><rect x="38.0" y="500.3" width="821.4" height="11.5" fill="url(#r43)"/><rect x="38.0" y="511.4" width="821.4" height="11.5" fill="url(#r44)"/><rect x="38.0" y="522.5" width="821.4" height="11.5" fill="url(#r45)"/><rect x="38.0" y="533.6" width="821.4" height="11.5" fill="url(#r46)"/><rect x="38.0" y="544.7" width="821.4" height="11.5" fill="url(#r47)"/><rect x="38.0" y="555.8" width="821.4" height="11.5" fill="url(#r48)"/><rect x="38.0" y="566.9" width="821.4" height="11.5" fill="url(#r49)"/><rect x="38.0" y="578.0" width="821.4" height="11.5" fill="url(#r50)"/><rect x="38.0" y="589.1" width="821.4" height="11.5" fill="url(#r51)"/><rect x="38.0" y="600.2" width="821.4" height="11.5" fill="url(#r52)"/><rect x="38.0" y="611.3" width="821.4" height="11.5" fill="url(#r53)"/><rect x="38.0" y="622.4" width="821.4" height="11.5" fill="url(#r54)"/><rect x="38.0" y="633.5" width="821.4" height="11.5" fill="url(#r55)"/><rect x="38.0" y="644.6" width="821.4" height="11.5" fill="url(#r56)"/><rect x="38.0" y="655.7" width="821.4" height="11.5" fill="url(#r57)"/><rect x="38.0" y="666.8" width="821.4" height="11.5" fill="url(#r58)"/><rect x="38.0" y="677.9" width="821.4" height="11.5" fill="url(#r59)"/><rect x="38.0" y="689.0" width="821.4" height="11.5" fill="url(#r60)"/><rect x="38.0" y="700.1" width="821.4" height="11.5" fill="url(#r61)"/><rect x="38.0" y="711.2" width="821.4" height="11.5" fill="url(#r62)"/><rect x="38.0" y="722.3" width="821.4" height="11.5" fill="url(#r63)"/><rect x="38.0" y="733.4" width="821.4" height="11.5" fill="url(#r64)"/><rect x="38.0" y="744.5" width="821.4" height="11.5" fill="url(#r65)"/><rect x="38.0" y="755.6" width="821.4" height="11.5" fill="url(#r66)"/><rect x="38.0" y="766.7" width="821.4" height="11.5" fill="url(#r67)"/><rect x="38.0" y="777.8" width="821.4" height="11.5" fill="url(#r68)"/><rect x="38.0" y="788.9" width="821.4" height="11.5" fill="url(#r69)"/><rect x="38.0" y="800.0" width="821.4" height="11.5" fill="url(#r70)"/><rect x="38.0" y="811.1" width="821.4" height="11.5" fill="url(#r71)"/><rect x="38.0" y="822.2" width="821.4" height="11.5" fill="url(#r72)"/><rect x="38.0" y="833.3" width="821.4" height="11.5" fill="url(#r73)"/><polyline points="614.9,67.5 619.8,73.9 618.8,79.8 625.7,85.8 623.8,89.7 617.8,93.7 613.9,97.6 608.9,105.6 605.9,113.5 604,121.4 604,131.3 602,141.2 601,151.1 600,157 596.9,167.2 589.9,171.9 580.5,178.9 566.6,195.2 557.2,206.9 547.9,218.5 536.2,230.2 526.9,239.5 512.9,251.1 501.3,260 500,262.8 494.9,269.2 479.5,278.2 464.1,285.9 443.6,293.6 435.9,294.9 423.1,292.3 420.5,284.6 412.8,283.3 407.7,291 402.6,296.2 397.4,296.2 387.2,298.7 382,303.8 374.4,307.7 366.7,314.1 364.1,324.4 361.5,334.6 351.3,341 338.5,348.7 328.2,355.1 317.9,360.3" fill="none" stroke="#1d1d1d" stroke-width="12" stroke-linejoin="round"/></g>
<path d="M82 67L614.9 67.5L619.8 73.9L618.8 79.8L625.7 85.8L623.8 89.7L617.8 93.7L613.9 97.6L608.9 105.6L605.9 113.5L604 121.4L604 131.3L602 141.2L601 151.1L600 157L596.9 167.2L589.9 171.9L580.5 178.9L566.6 195.2L557.2 206.9L547.9 218.5L536.2 230.2L526.9 239.5L512.9 251.1L501.3 260L500 262.8L494.9 269.2L479.5 278.2L464.1 285.9L443.6 293.6L435.9 294.9L423.1 292.3L420.5 284.6L412.8 283.3L407.7 291L402.6 296.2L397.4 296.2L387.2 298.7L382 303.8L374.4 307.7L366.7 314.1L364.1 324.4L361.5 334.6L351.3 341L338.5 348.7L328.2 355.1L317.9 360.3L314.1 370.5L323.1 375.6L333.3 383.3L341 393.6L348.7 403.8L355.1 416.7L359 429.5L361.5 442.3L358.3 449.6L353.4 461L348.5 465.1L343.6 467.5L337.1 470.8L329 472.4L320.8 475.7L312.6 479L304.5 482.2L296.3 483.8L288.2 482.2L281.6 479L283.3 472.4L288.2 462.6L291.4 451.2L293.5 441L292.6 434.4L287.4 427.4L290.9 423.9L297.9 420.4L294.4 413.4L289.1 406.4L278.6 402.9L269.9 404.7L261.2 400.3L254.2 395.9L259.4 387.2L264.7 376.7L268.1 366.2L255.9 362.7L245.4 359.2L234.9 360.1L222.7 361.8L210.5 366.2L200 370.6L197.7 372.8L186.7 378.3L172.9 383.9L175.6 379.7L181.2 374.2L186.7 370.7L177 367.3L178.4 363.1L186.7 356.2L195 349.3L199.1 343.8L189.4 336.2L179.8 336.2L172.9 337.6L164.6 345.2L159.1 352.1L149.4 356.2L142.5 359L134.2 363.1L131.4 368.7L123.1 374.2L116.2 375.6L110.7 377L105.2 374.2L100.4 375.6L95.5 385.2L99.7 392.2L108 396.3L117.6 396.3L124.5 397.7L127.3 407.3L126.6 412.9L131.4 417L142.5 418.4L148 412.9L154.9 408.7L163.2 404.6L170.1 401.8L175.6 407.3L186.7 410.1L197.7 411.5L207.4 412.9L208.8 415.6L204.6 423.9L195 425.3L186.7 426.7L175.6 429.4L168.7 433.6L164.6 439.1L156 442.5L150.5 448.1L139.1 459.5L132 468L139.1 473.8L150.5 479.5L156.6 485.6L160.3 494.9L164.1 504.2L167.8 511.7L169.6 519.2L175.2 522.9L180.8 526.6L187.3 533.7L191 538.4L191 548.6L191 557L187.3 559.8L180.8 560.8L174.2 564.5L168.6 568.2L164 570.1L164 573.8L168.6 572.9L174.2 571L179.8 571L183.6 573.8L187.3 577.6L191 580.3L194.8 582.2L193.8 585.9L191 589.7L192.9 595.3L189.2 597.1L187.3 602.7L185.3 604L183.4 608.6L185.3 614.2L179.7 617L175 616.1L173.1 620.8L168.5 625.4L163.8 630.1L162.9 635.7L160.1 640.3L155.4 644.1L150.8 647.8L146.1 650.6L140.5 651.5L142.4 657.1L141.4 662.7L141 670L141.4 673.6L145.4 677.5L137.4 681.5L127.5 685.4L121.6 691.4L115.7 697.3L107.7 701.3L101.8 707.2L93.9 713.2L87.9 719.1L82 723.1ZM600.8 329.4L602.9 327.1L606.5 328.2L607.5 333L609.5 336.5L615 337.5L621.3 336.2L620.8 330.5L617 330L613.3 328.8L611.6 324L618.8 323.7L625.3 324.5L624.5 333.5L625.3 338.4L631.8 348.2L636.7 358L638.4 366.1L635.1 374.3L630.2 382.4L626.5 391L620 395L616 398L615.1 401.2L616.7 412.7L615.1 420.8L610.2 427.3L606.9 438.8L608.6 445.3L611.8 451L605.3 453.5L602 456.7L602 463.3L595.5 466.5L589 469L586.5 462L590 456L587 453L584 458L584.3 461.6L580 463.8L575 463L574.3 466L572 472L568.3 475.5L565.5 470L563 468L556.3 471.4L553.1 475.5L540 474.7L537.5 473.3L529 474.4L527 470L522 466L517 467L516 472L518.4 477L514 480L509.9 482.9L505.6 491.4L501.4 499.9L495 497.8L488.6 493.5L484.4 487.1L488 480L490.8 474.4L482.3 473.3L473.8 473.3L465.3 474.4L452.5 478.6L441.9 480.8L431.3 482.9L420.6 485L410 489.3L407.3 490.4L397.5 487.1L392.6 487.1L391 482.2L394.2 479L400.7 475.7L410.5 472.4L418.5 465.9L429.1 457.4L441.9 454.2L456.8 453.1L471.6 452.1L484.4 451L490.8 452.1L497.1 454.2L503.5 448.9L505.6 442.5L512 436.1L518.4 429.8L520.5 421.3L519.5 415.9L524.8 412.8L533.3 411.7L534.3 414.9L529 419.1L529 425.5L535.4 425.5L546 421.3L549.8 417.6L561.2 412.7L567.8 404.5L574.3 401.2L578 399L584.3 389.5L588.4 380.4L594.3 371L592.7 361.2L587.8 358L592.7 353.1L591 346.5L592.7 340L599.2 338.4ZM482.3 485L478 493.5L471.6 497.8L465.3 504.1L458.9 502L450.4 499.9L441.9 504.1L437.6 512.6L435.5 516.9L427 514.8L422.8 506.3L418.5 502L427 495.6L435.5 489.3L446.1 485L456.8 482.9L465.3 485L473.8 482.9L480.1 482.9ZM359.5 502.3L363.3 498.5L368.5 497.2L373.6 494.6L378.7 492.1L383.8 489.5L387.7 485.6L391.5 481.8L394.1 486.9L395.4 492.1L396.7 495.9L401.8 498.5L406.9 497.2L410.8 501L409.5 504.9L413.3 508.7L417.2 513.8L414.6 520.3L412.1 526.7L409.5 533.1L405.6 539.5L403.1 544.6L399.2 549.7L394.1 549.7L390.3 554.9L387.7 552.3L389 547.2L387.7 542.1L385.1 540.8L383.8 547.2L381.3 549.7L376.2 548.5L374.9 543.3L377.4 539.5L376.2 534.4L372.3 529.2L371 524.1L372.3 519L368.5 515.1L365.9 511.3L362.1 508.7L360.8 504.9ZM635.2 234.8L646.2 240.9L658.4 250.7L670.7 260.4L682.9 264.1L695.1 266.6L704.9 265.3L711 260.4L712.2 262.9L707.3 272.7L704.9 277.6L712.2 281.2L717.1 282.4L712.2 284.9L702.4 289.8L692.7 294.7L680 297L670 304L664.5 312L658 309L648.2 304.1L638.4 300.8L630.2 299.2L622 300.8L615.5 304.1L609 300L602.4 300L600.8 303.3L605.7 307.3L612.2 310.6L618.8 314.7L617.1 316.3L609 315.5L602.4 318.8L599.2 323.7L594.3 323.7L594.3 317.1L593.5 309L588.6 305.7L590.2 297.6L597.6 294.3L602.4 289.4L600.8 282.9L609 284L616.4 284.3L621.1 284.3L623.9 279.6L623 274L625.8 270.3L629.5 266.6L631.3 259.1L632.3 250.8L628.6 241.4L629.5 235.8ZM633.7 67.5L631.7 73.9L629.7 83.8L629.7 91.7L637.6 101.6L642.6 109.5L639.6 117.4L639.6 131.3L639.6 145.2L638.6 157L634.7 165L639.6 174.9L637.6 184.8L635.6 196.7L633.7 208.5L635.6 218.4L638.6 224.4L645.5 212.5L651.5 207.5L659.4 206.6L667.3 208.5L669.3 220.4L671.3 212.5L669.3 203.6L663.4 203.6L657.4 196.7L651.5 186.8L649.5 176.9L651.5 168.9L659.4 157L659.4 151.1L669.3 149.1L679.2 150.1L687.1 153.1L693.1 157L697 163L685.1 141.2L679.2 129.3L673.3 111.5L668.3 101.6L665.3 93.7L663.4 83.8L665.3 77.8L666.3 67.5ZM183 682.5L190.9 687.4L191.9 691.4L189.9 695.3L189.9 705.2L185 717.1L181 731L173.1 740.9L169.1 746.8L167.1 756.7L164.2 756.7L162.2 748.8L155.3 740.9L151.3 733L150.3 725L153.3 713.2L159.2 703.3L165.2 693.4L173.1 687.4L179 683.5ZM556 393.5L560 392.5L561.5 395L558 398L559 401.5L562 403L560 405L555 404L553.5 401L556 398L554 395ZM364.7 611.3L360 613L355 616L352.5 619.5L354.3 620.5L358 617.5L362 614.5Z" fill="#000"/>
<g fill="none" stroke="#000" stroke-linecap="round" stroke-linejoin="round"><polyline points="802.7,231.8 816,222.3" stroke-width="4.5"/><polyline points="713.5,273 722,267.5 730,262 736,257.5" stroke-width="3.6"/><polyline points="746.5,257.5 755,252.3 763,247.8 769,243 777,238.5 784,236 788.5,234.5" stroke-width="5.2"/><polyline points="359.9,474 356,480 353.4,486.3" stroke-width="3.5"/><polyline points="351.8,505 346,512 340.4,519.7" stroke-width="3"/><polyline points="393.5,559 391.5,570" stroke-width="2.6"/><polyline points="333.3,648 327,653.3 322.8,657.5 319.6,663.8" stroke-width="4.2"/><polyline points="365,536 368,541" stroke-width="1.8"/><polyline points="193,572 203,577" stroke-width="4"/><polyline points="486.5,476 489,484" stroke-width="2.5"/></g>
<g fill="#000"><circle cx="735.5" cy="257.6" r="2.6"/><circle cx="788.8" cy="234.4" r="3.4"/><circle cx="769.3" cy="239.5" r="2.6"/><circle cx="619.3" cy="240.9" r="2.2"/><circle cx="615.7" cy="236" r="1.5"/><circle cx="581.2" cy="308.2" r="1.8"/><circle cx="443.6" cy="439.2" r="2.3"/><circle cx="438.5" cy="442.8" r="1.7"/><circle cx="390.3" cy="411.5" r="1.7"/><circle cx="364.8" cy="493.6" r="1.8"/><circle cx="382.6" cy="570.4" r="2.7"/><circle cx="347.5" cy="627.1" r="1.9"/><circle cx="339.6" cy="635.9" r="1.3"/><circle cx="299.7" cy="658.5" r="1.3"/><circle cx="311.3" cy="661.7" r="1.1"/><circle cx="266.2" cy="693.1" r="2.3"/><circle cx="241" cy="701.5" r="2.5"/><circle cx="232.6" cy="702.6" r="2.9"/><circle cx="139" cy="719" r="1.5"/><circle cx="140.5" cy="725" r="1.3"/><circle cx="183" cy="753.8" r="1.3"/><circle cx="189.9" cy="782.5" r="1.3"/><circle cx="191.9" cy="790.4" r="1.3"/><circle cx="580" cy="473.1" r="1.6"/><circle cx="575.9" cy="480.4" r="1.2"/><circle cx="574.3" cy="484.5" r="1.1"/><circle cx="582.4" cy="486.9" r="1.2"/><circle cx="584.1" cy="492.7" r="1.1"/><circle cx="588.2" cy="509.8" r="1.2"/><circle cx="641.2" cy="631.2" r="0.9"/><circle cx="641.8" cy="642.4" r="1.1"/><circle cx="641.2" cy="652.2" r="1.1"/><circle cx="621.6" cy="679.4" r="0.8"/><circle cx="622.2" cy="694.2" r="1"/><circle cx="726.9" cy="277.6" r="1.2"/><circle cx="722" cy="280" r="1"/><circle cx="369" cy="577.8" r="1"/><circle cx="364.7" cy="584" r="1"/><circle cx="370" cy="614.5" r="1"/><circle cx="198" cy="564" r="1.5"/><circle cx="202" cy="567" r="1.2"/><circle cx="205" cy="570" r="1"/><circle cx="215.7" cy="700.3" r="0.8"/><circle cx="582.4" cy="487" r="1.1"/><circle cx="588" cy="509.4" r="1"/><circle cx="184.3" cy="564.9" r="0.74"/><circle cx="186.2" cy="571.2" r="1.43"/><circle cx="188.1" cy="571.8" r="0.63"/><circle cx="189.1" cy="575.2" r="1.39"/><circle cx="191.4" cy="575.8" r="0.73"/><circle cx="191.9" cy="578.5" r="0.86"/><circle cx="198.8" cy="583.3" r="1.58"/><circle cx="194.5" cy="589.3" r="0.76"/><circle cx="192.9" cy="591.1" r="1.22"/><circle cx="193.4" cy="598.5" r="1.06"/><circle cx="193.6" cy="600.7" r="1.45"/><circle cx="191.0" cy="608.4" r="1.11"/><circle cx="191.0" cy="606.3" r="0.75"/><circle cx="190.8" cy="610.2" r="0.79"/><circle cx="188.4" cy="620.4" r="1.46"/><circle cx="182.7" cy="618.4" r="0.61"/><circle cx="176.3" cy="618.5" r="1.24"/><circle cx="174.5" cy="625.2" r="1.49"/><circle cx="173.5" cy="627.3" r="0.62"/><circle cx="169.4" cy="634.8" r="0.81"/><circle cx="167.7" cy="640.7" r="0.76"/><circle cx="163.5" cy="640.3" r="1.29"/><circle cx="162.3" cy="643.0" r="0.61"/><circle cx="160.8" cy="644.4" r="0.71"/><circle cx="159.1" cy="648.7" r="1.25"/><circle cx="158.3" cy="650.8" r="1.23"/><circle cx="153.1" cy="651.7" r="0.8"/><circle cx="148.9" cy="651.8" r="0.67"/><circle cx="147.1" cy="656.7" r="1.3"/><circle cx="144.8" cy="654.2" r="1.02"/><circle cx="145.1" cy="649.9" r="1.44"/><circle cx="145.4" cy="654.0" r="0.97"/><circle cx="144.4" cy="657.5" r="0.88"/><circle cx="144.9" cy="659.5" r="1.18"/><circle cx="143.5" cy="674.1" r="1.09"/><circle cx="145.1" cy="675.1" r="1.11"/><circle cx="146.2" cy="684.1" r="1.13"/><circle cx="144.9" cy="686.4" r="1.0"/><circle cx="142.5" cy="686.6" r="0.72"/><circle cx="136.7" cy="685.5" r="0.83"/><circle cx="134.3" cy="691.1" r="1.23"/><circle cx="129.5" cy="687.4" r="1.0"/><circle cx="130.2" cy="693.9" r="1.36"/><circle cx="126.9" cy="693.6" r="0.98"/><circle cx="124.6" cy="694.4" r="0.62"/><circle cx="125.6" cy="698.4" r="0.89"/><circle cx="118.6" cy="697.3" r="1.51"/><circle cx="116.9" cy="699.8" r="1.6"/><circle cx="116.8" cy="704.4" r="1.21"/><circle cx="112.1" cy="705.7" r="0.63"/><circle cx="108.6" cy="705.1" r="1.08"/><circle cx="106.3" cy="705.8" r="1.16"/><circle cx="107.8" cy="710.3" r="1.21"/><circle cx="99.7" cy="716.8" r="0.85"/><circle cx="99.3" cy="718.7" r="1.14"/><circle cx="94.5" cy="719.8" r="0.63"/><circle cx="93.3" cy="721.6" r="1.17"/><circle cx="364.2" cy="443.5" r="1.76"/><circle cx="365.8" cy="446.3" r="1.65"/><circle cx="360.6" cy="446.3" r="1.06"/><circle cx="363.9" cy="449.9" r="0.9"/><circle cx="363.9" cy="452.0" r="1.25"/><circle cx="365.6" cy="454.7" r="1.59"/><circle cx="358.7" cy="453.6" r="1.15"/><circle cx="363.6" cy="457.7" r="1.71"/><circle cx="363.2" cy="459.4" r="1.31"/><circle cx="355.9" cy="458.2" r="0.84"/><circle cx="361.4" cy="462.5" r="1.58"/><circle cx="354.6" cy="465.0" r="1.37"/><circle cx="356.0" cy="469.0" r="1.27"/><circle cx="351.8" cy="471.8" r="1.35"/><circle cx="348.3" cy="468.8" r="1.38"/><circle cx="345.8" cy="467.8" r="0.75"/><circle cx="345.5" cy="471.3" r="1.87"/><circle cx="344.3" cy="477.0" r="1.47"/><circle cx="340.5" cy="473.4" r="0.96"/><circle cx="337.5" cy="472.6" r="1.48"/><circle cx="335.6" cy="471.6" r="1.78"/><circle cx="334.7" cy="475.6" r="1.34"/><circle cx="333.1" cy="476.4" r="1.92"/><circle cx="331.6" cy="477.3" r="1.5"/><circle cx="332.2" cy="480.5" r="0.99"/><circle cx="329.3" cy="477.8" r="0.75"/><circle cx="328.8" cy="481.5" r="1.72"/><circle cx="325.2" cy="477.1" r="0.71"/><circle cx="321.1" cy="476.4" r="1.98"/><circle cx="320.3" cy="479.2" r="0.76"/><circle cx="318.8" cy="480.3" r="1.38"/><circle cx="316.5" cy="479.2" r="0.97"/><circle cx="315.3" cy="481.1" r="1.5"/><circle cx="315.6" cy="486.6" r="1.95"/><circle cx="311.8" cy="481.6" r="1.43"/><circle cx="309.7" cy="481.1" r="0.94"/><circle cx="310.0" cy="486.6" r="1.87"/><circle cx="304.6" cy="482.9" r="1.97"/><circle cx="303.1" cy="483.5" r="1.03"/><circle cx="301.9" cy="486.4" r="1.28"/><circle cx="294.9" cy="490.9" r="1.23"/><circle cx="291.4" cy="491.7" r="0.76"/><circle cx="288.6" cy="488.9" r="0.95"/><circle cx="287.0" cy="484.7" r="0.84"/><circle cx="283.0" cy="488.8" r="1.57"/><circle cx="283.8" cy="482.9" r="1.31"/><circle cx="273.2" cy="476.8" r="1.93"/><circle cx="276.3" cy="475.9" r="1.17"/><circle cx="281.4" cy="475.4" r="1.31"/><circle cx="277.3" cy="472.6" r="1.6"/><circle cx="282.7" cy="470.0" r="1.21"/><circle cx="277.2" cy="465.3" r="1.62"/><circle cx="277.9" cy="463.6" r="1.05"/><circle cx="283.0" cy="464.1" r="1.08"/><circle cx="279.7" cy="460.4" r="0.9"/><circle cx="282.2" cy="460.9" r="1.34"/><circle cx="281.6" cy="456.6" r="0.85"/><circle cx="289.0" cy="456.7" r="1.78"/><circle cx="284.0" cy="451.2" r="1.65"/><circle cx="285.4" cy="448.2" r="1.01"/><circle cx="285.5" cy="446.4" r="0.75"/><circle cx="289.7" cy="445.5" r="1.33"/><circle cx="288.9" cy="441.8" r="1.16"/><circle cx="289.1" cy="441.6" r="0.94"/><circle cx="287.7" cy="440.1" r="1.07"/><circle cx="286.7" cy="436.9" r="1.65"/><circle cx="292.3" cy="434.6" r="1.86"/><circle cx="289.2" cy="432.6" r="1.26"/><circle cx="282.3" cy="435.5" r="1.95"/><circle cx="283.5" cy="423.5" r="1.27"/><circle cx="288.0" cy="425.6" r="0.92"/><circle cx="289.0" cy="424.3" r="0.9"/><circle cx="288.3" cy="418.8" r="1.34"/><circle cx="290.5" cy="418.7" r="1.25"/><circle cx="290.6" cy="414.6" r="1.16"/><circle cx="295.2" cy="419.3" r="1.92"/><circle cx="296.4" cy="421.2" r="1.03"/><circle cx="295.4" cy="419.5" r="1.1"/><circle cx="292.8" cy="416.4" r="1.24"/><circle cx="289.1" cy="417.4" r="0.78"/><circle cx="290.9" cy="413.9" r="0.94"/><circle cx="290.8" cy="411.7" r="1.09"/><circle cx="285.7" cy="413.3" r="1.17"/><circle cx="288.4" cy="409.1" r="0.73"/><circle cx="286.9" cy="413.1" r="1.79"/><circle cx="284.9" cy="413.1" r="0.77"/><circle cx="284.8" cy="407.6" r="1.27"/><circle cx="281.3" cy="412.3" r="1.09"/><circle cx="279.1" cy="407.3" r="1.28"/><circle cx="279.3" cy="406.1" r="1.34"/><circle cx="277.5" cy="406.2" r="1.64"/><circle cx="276.0" cy="407.9" r="1.01"/><circle cx="273.7" cy="405.3" r="1.76"/><circle cx="272.4" cy="407.9" r="1.21"/><circle cx="267.4" cy="409.7" r="1.89"/><circle cx="263.7" cy="408.3" r="1.41"/><circle cx="262.8" cy="405.8" r="1.64"/><circle cx="260.3" cy="406.4" r="1.33"/><circle cx="267.7" cy="367.5" r="1.06"/><circle cx="262.7" cy="366.7" r="0.84"/><circle cx="259.9" cy="367.1" r="0.58"/><circle cx="243.0" cy="362.2" r="0.99"/><circle cx="240.2" cy="360.2" r="1.18"/><circle cx="237.7" cy="361.5" r="1.12"/><circle cx="228.0" cy="364.1" r="0.76"/><circle cx="225.5" cy="364.2" r="1.15"/><circle cx="223.6" cy="364.3" r="0.71"/><circle cx="216.5" cy="367.6" r="0.96"/><circle cx="207.8" cy="422.0" r="0.69"/><circle cx="201.8" cy="427.0" r="0.77"/><circle cx="174.4" cy="432.5" r="0.85"/><circle cx="168.0" cy="437.4" r="0.75"/><circle cx="366.6" cy="513.6" r="0.81"/><circle cx="363.6" cy="510.6" r="1.3"/><circle cx="359.1" cy="507.6" r="1.28"/><ellipse cx="294.7" cy="502.6" rx="8.6" ry="3.7" transform="rotate(-12 294.7 502.6)"/><ellipse cx="743" cy="271.6" rx="4" ry="1.7" transform="rotate(-20 743 271.6)"/></g>
<path d="M375 509L379 508L382 511L383.5 516L382 521L380 526L377.5 528.5L376 525L378 520L376.5 515L374 512Z" fill="#70f8ff"/><polyline points="159.6,532.6 165.9,533.3 168.7,536.8 172.9,538.9 178.5,542.4 183.4,545.9 190,549.6" fill="none" stroke="#60e8ff" stroke-width="1.2"/><polyline points="181.3,538.3 186,540.5 191,542.8" fill="none" stroke="#50d0ff" stroke-width="1.1"/><polyline points="185,545.5 191,547.3" fill="none" stroke="#60e8ff" stroke-width="0.9"/>
</g>
<rect x="82.4" y="67.4" width="732.7" height="732.6" fill="none" stroke="#333" stroke-width="1.3"/>
<g stroke="#666" stroke-width="1.5">
<line x1="149.1" x2="149.1" y1="67.4" y2="47.9"/><line x1="371.1" x2="371.1" y1="67.4" y2="47.9"/><line x1="593.1" x2="593.1" y1="67.4" y2="47.9"/><line x1="815.1" x2="815.1" y1="67.4" y2="47.9"/>
<line x1="149.1" x2="149.1" y1="800" y2="819.5"/><line x1="371.1" x2="371.1" y1="800" y2="819.5"/><line x1="593.1" x2="593.1" y1="800" y2="819.5"/><line x1="815.1" x2="815.1" y1="800" y2="819.5"/>
<line x1="82.4" x2="63" y1="134.2" y2="134.2"/><line x1="82.4" x2="63" y1="356.1" y2="356.1"/><line x1="82.4" x2="63" y1="578.1" y2="578.1"/><line x1="82.4" x2="63" y1="800" y2="800"/>
<line x1="815.1" x2="835" y1="134.2" y2="134.2"/><line x1="815.1" x2="835" y1="356.1" y2="356.1"/><line x1="815.1" x2="835" y1="578.1" y2="578.1"/><line x1="815.1" x2="835" y1="800" y2="800"/>
</g>
<rect x="872.5" y="774.67" width="28" height="18.13" fill="#780080"/><rect x="872.5" y="756.54" width="28" height="18.13" fill="#681090"/><rect x="872.5" y="738.41" width="28" height="18.13" fill="#5820a0"/><rect x="872.5" y="720.28" width="28" height="18.13" fill="#5030b0"/><rect x="872.5" y="702.15" width="28" height="18.13" fill="#4040c0"/><rect x="872.5" y="684.02" width="28" height="18.13" fill="#3050d0"/><rect x="872.5" y="665.89" width="28" height="18.13" fill="#2068e0"/><rect x="872.5" y="647.76" width="28" height="18.13" fill="#1078f0"/><rect x="872.5" y="629.63" width="28" height="18.13" fill="#1090ff"/><rect x="872.5" y="611.50" width="28" height="18.13" fill="#2098ff"/><rect x="872.5" y="593.37" width="28" height="18.13" fill="#28a0ff"/><rect x="872.5" y="575.24" width="28" height="18.13" fill="#38b0ff"/><rect x="872.5" y="557.11" width="28" height="18.13" fill="#40c0ff"/><rect x="872.5" y="538.98" width="28" height="18.13" fill="#50d0ff"/><rect x="872.5" y="520.85" width="28" height="18.13" fill="#60e8ff"/><rect x="872.5" y="502.72" width="28" height="18.13" fill="#70f8ff"/><rect x="872.5" y="484.59" width="28" height="18.13" fill="#80fff0"/><rect x="872.5" y="466.46" width="28" height="18.13" fill="#80ffd0"/><rect x="872.5" y="448.33" width="28" height="18.13" fill="#80f8a0"/><rect x="872.5" y="430.20" width="28" height="18.13" fill="#80f880"/><rect x="872.5" y="412.07" width="28" height="18.13" fill="#88ff80"/><rect x="872.5" y="393.94" width="28" height="18.13" fill="#a8ff80"/><rect x="872.5" y="375.81" width="28" height="18.13" fill="#d0ff80"/><rect x="872.5" y="357.68" width="28" height="18.13" fill="#f8ff80"/><rect x="872.5" y="339.55" width="28" height="18.13" fill="#fff070"/><rect x="872.5" y="321.42" width="28" height="18.13" fill="#ffdc68"/><rect x="872.5" y="303.29" width="28" height="18.13" fill="#ffcc58"/><rect x="872.5" y="285.16" width="28" height="18.13" fill="#ffc050"/><rect x="872.5" y="267.03" width="28" height="18.13" fill="#ffb040"/><rect x="872.5" y="248.90" width="28" height="18.13" fill="#ffa028"/><rect x="872.5" y="230.77" width="28" height="18.13" fill="#ff9018"/><rect x="872.5" y="212.64" width="28" height="18.13" fill="#fe8000"/><rect x="872.5" y="194.51" width="28" height="18.13" fill="#f07000"/><rect x="872.5" y="176.38" width="28" height="18.13" fill="#e36000"/><rect x="872.5" y="158.25" width="28" height="18.13" fill="#d45000"/><rect x="872.5" y="140.12" width="28" height="18.13" fill="#c54000"/><rect x="872.5" y="121.99" width="28" height="18.13" fill="#b22e00"/><rect x="872.5" y="103.86" width="28" height="18.13" fill="#a52000"/><rect x="872.5" y="85.73" width="28" height="18.13" fill="#951000"/><rect x="872.5" y="67.60" width="28" height="18.13" fill="#800000"/>
<g stroke="#111" stroke-width="1.2"><line x1="872.5" x2="900.5" y1="774.67" y2="774.67"/><line x1="872.5" x2="900.5" y1="756.54" y2="756.54"/><line x1="872.5" x2="900.5" y1="738.41" y2="738.41"/><line x1="872.5" x2="900.5" y1="720.28" y2="720.28"/><line x1="872.5" x2="900.5" y1="702.15" y2="702.15"/><line x1="872.5" x2="900.5" y1="684.02" y2="684.02"/><line x1="872.5" x2="900.5" y1="665.89" y2="665.89"/><line x1="872.5" x2="900.5" y1="647.76" y2="647.76"/><line x1="872.5" x2="900.5" y1="629.63" y2="629.63"/><line x1="872.5" x2="900.5" y1="611.50" y2="611.50"/><line x1="872.5" x2="900.5" y1="593.37" y2="593.37"/><line x1="872.5" x2="900.5" y1="575.24" y2="575.24"/><line x1="872.5" x2="900.5" y1="557.11" y2="557.11"/><line x1="872.5" x2="900.5" y1="538.98" y2="538.98"/><line x1="872.5" x2="900.5" y1="520.85" y2="520.85"/><line x1="872.5" x2="900.5" y1="502.72" y2="502.72"/><line x1="872.5" x2="900.5" y1="484.59" y2="484.59"/><line x1="872.5" x2="900.5" y1="466.46" y2="466.46"/><line x1="872.5" x2="900.5" y1="448.33" y2="448.33"/><line x1="872.5" x2="900.5" y1="430.20" y2="430.20"/><line x1="872.5" x2="900.5" y1="412.07" y2="412.07"/><line x1="872.5" x2="900.5" y1="393.94" y2="393.94"/><line x1="872.5" x2="900.5" y1="375.81" y2="375.81"/><line x1="872.5" x2="900.5" y1="357.68" y2="357.68"/><line x1="872.5" x2="900.5" y1="339.55" y2="339.55"/><line x1="872.5" x2="900.5" y1="321.42" y2="321.42"/><line x1="872.5" x2="900.5" y1="303.29" y2="303.29"/><line x1="872.5" x2="900.5" y1="285.16" y2="285.16"/><line x1="872.5" x2="900.5" y1="267.03" y2="267.03"/><line x1="872.5" x2="900.5" y1="248.90" y2="248.90"/><line x1="872.5" x2="900.5" y1="230.77" y2="230.77"/><line x1="872.5" x2="900.5" y1="212.64" y2="212.64"/><line x1="872.5" x2="900.5" y1="194.51" y2="194.51"/><line x1="872.5" x2="900.5" y1="176.38" y2="176.38"/><line x1="872.5" x2="900.5" y1="158.25" y2="158.25"/><line x1="872.5" x2="900.5" y1="140.12" y2="140.12"/><line x1="872.5" x2="900.5" y1="121.99" y2="121.99"/><line x1="872.5" x2="900.5" y1="103.86" y2="103.86"/><line x1="872.5" x2="900.5" y1="85.73" y2="85.73"/></g>
<rect x="872.5" y="67.6" width="28" height="725.20" fill="none" stroke="#7a8288" stroke-width="1.2"/>
<text x="80.9" y="24.2" font-size="31.9">sea surface temperature (20260228)</text>
<text x="782.3" y="15" font-size="20.5">o</text>
<text x="793.2" y="30.3" font-size="33.6">C</text>
<g font-size="25.3" text-anchor="end">
<text x="46.2" y="143.0" transform="translate(0,143.0) scale(1,1.06) translate(0,-143.0)">50N</text>
<text x="46.2" y="364.9" transform="translate(0,364.9) scale(1,1.06) translate(0,-364.9)">40N</text>
<text x="46.2" y="586.9" transform="translate(0,586.9) scale(1,1.06) translate(0,-586.9)">30N</text>
<text x="46.2" y="808.8" transform="translate(0,808.8) scale(1,1.06) translate(0,-808.8)">20N</text>
</g>
<g font-size="25" text-anchor="middle">
<text x="149.1" y="856.4" transform="translate(0,856.4) scale(1,1.06) translate(0,-856.4)">120E</text>
<text x="371.1" y="856.4" transform="translate(0,856.4) scale(1,1.06) translate(0,-856.4)">130E</text>
<text x="593.1" y="856.4" transform="translate(0,856.4) scale(1,1.06) translate(0,-856.4)">140E</text>
<text x="815.1" y="856.4" transform="translate(0,856.4) scale(1,1.06) translate(0,-856.4)">150E</text>
</g>
<g font-size="25" text-anchor="middle">
<text x="927.5" y="185.4" transform="translate(0,185.4) scale(1,1.06) translate(0,-185.4)">30</text>
<text x="927.5" y="366.7" transform="translate(0,366.7) scale(1,1.06) translate(0,-366.7)">20</text>
<text x="927.5" y="548" transform="translate(0,548) scale(1,1.06) translate(0,-548)">10</text>
<text x="927.5" y="729.3" transform="translate(0,729.3) scale(1,1.06) translate(0,-729.3)">0</text>
</g>
</svg>
</body></html>
